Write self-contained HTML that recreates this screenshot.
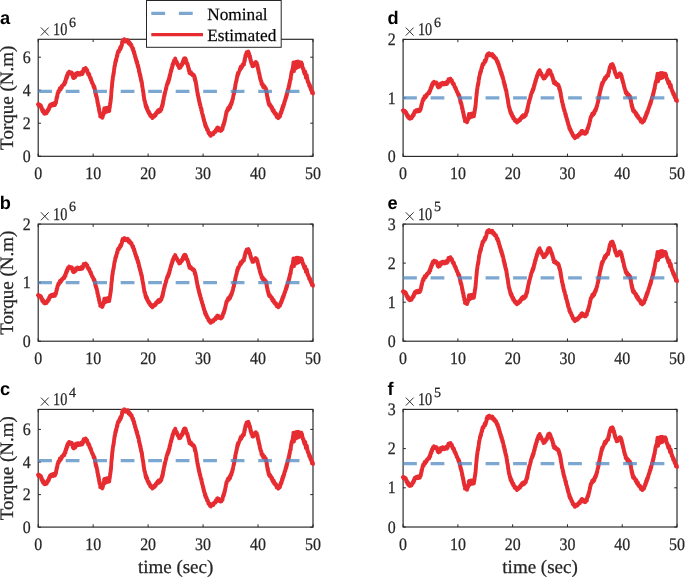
<!DOCTYPE html><html><head><meta charset="utf-8"><style>html,body{margin:0;padding:0;background:#fff;}svg{display:block;will-change:transform;}text{text-rendering:geometricPrecision;font-family:"Liberation Serif",serif;fill:#262626;stroke:#262626;stroke-width:0.25px;}.lt{font-family:"Liberation Sans",sans-serif;font-weight:bold;fill:#000;stroke:none;}</style></head><body>
<svg width="685" height="577" viewBox="0 0 685 577">
<path d="M38.2 156.3V153.55M38.2 39.3V42.05M93.16 156.3V153.55M93.16 39.3V42.05M148.12 156.3V153.55M148.12 39.3V42.05M203.08 156.3V153.55M203.08 39.3V42.05M258.04 156.3V153.55M258.04 39.3V42.05M313 156.3V153.55M313 39.3V42.05M38.2 156.2H40.95M313 156.2H310.25M38.2 123.2H40.95M313 123.2H310.25M38.2 90.2H40.95M313 90.2H310.25M38.2 57.2H40.95M313 57.2H310.25" stroke="#262626" stroke-width="1" fill="none"/>
<rect x="38.2" y="39.3" width="274.8" height="117" fill="none" stroke="#262626" stroke-width="1.15"/>
<text transform="translate(30.7,161.8) scale(0.91,1)" font-size="17.5" text-anchor="end">0</text>
<text transform="translate(30.7,128.8) scale(0.91,1)" font-size="17.5" text-anchor="end">2</text>
<text transform="translate(30.7,95.8) scale(0.91,1)" font-size="17.5" text-anchor="end">4</text>
<text transform="translate(30.7,62.8) scale(0.91,1)" font-size="17.5" text-anchor="end">6</text>
<text transform="translate(38.2,179) scale(0.91,1)" font-size="17.5" text-anchor="middle">0</text>
<text transform="translate(93.16,179) scale(0.91,1)" font-size="17.5" text-anchor="middle">10</text>
<text transform="translate(148.12,179) scale(0.91,1)" font-size="17.5" text-anchor="middle">20</text>
<text transform="translate(203.08,179) scale(0.91,1)" font-size="17.5" text-anchor="middle">30</text>
<text transform="translate(258.04,179) scale(0.91,1)" font-size="17.5" text-anchor="middle">40</text>
<text transform="translate(313,179) scale(0.91,1)" font-size="17.5" text-anchor="middle">50</text>
<path d="M40.9 27.5L48.7 35.5M40.9 35.5L48.7 27.5" stroke="#262626" stroke-width="0.95" fill="none"/>
<text x="53" y="35.2" font-size="17.9" textLength="14.3" lengthAdjust="spacingAndGlyphs">10</text>
<text x="69.1" y="26.6" font-size="14">6</text>
<polyline points="38.0,104.3 38.3,104.0 38.6,105.6 38.9,104.2 39.2,105.7 39.5,105.4 39.8,104.8 40.1,106.2 40.4,105.1 40.7,106.4 40.9,105.7 41.1,106.1 41.2,107.4 41.4,108.8 41.6,107.2 41.8,107.8 41.9,109.3 42.1,110.5 42.3,109.8 42.5,109.6 42.6,111.6 42.8,109.3 43.0,111.9 43.2,110.6 43.4,110.5 43.6,110.7 43.8,111.6 44.0,113.3 44.2,111.8 44.4,113.2 44.6,113.7 44.8,113.2 45.2,113.6 45.5,112.0 45.9,111.8 46.2,112.1 46.6,113.2 46.8,112.2 46.9,111.5 47.1,112.0 47.3,111.3 47.4,110.5 47.6,111.6 47.7,111.0 47.9,109.4 48.1,110.0 48.2,109.6 48.4,110.3 48.6,109.5 48.8,107.9 48.9,109.5 49.1,106.8 49.3,107.3 49.5,107.9 49.7,105.8 49.8,106.4 50.0,104.8 50.2,106.3 50.5,106.2 50.7,105.4 51.0,106.0 51.2,104.1 51.5,104.8 51.7,104.3 52.0,103.9 52.4,103.7 52.7,104.9 53.1,105.3 53.5,104.2 53.8,104.8 54.2,103.3 54.5,104.8 54.7,104.3 55.0,105.0 55.2,104.2 55.5,102.4 55.7,102.4 56.0,102.9 56.1,100.7 56.1,101.6 56.2,100.4 56.2,99.9 56.3,99.4 56.3,101.0 56.4,98.9 56.4,98.9 56.5,98.9 56.5,99.9 56.6,97.3 56.7,98.0 56.8,97.9 56.8,98.5 56.9,98.0 57.0,97.8 57.1,95.8 57.2,95.8 57.2,95.3 57.3,96.4 57.4,96.3 57.5,93.7 57.6,93.4 57.8,93.2 57.9,92.9 58.0,93.3 58.1,93.2 58.2,92.0 58.4,90.9 58.5,91.7 58.6,91.2 58.7,91.4 58.8,92.2 59.0,91.1 59.1,90.3 59.2,90.2 59.5,90.1 59.8,88.1 60.0,90.2 60.3,89.6 60.6,89.6 60.9,89.1 61.1,87.7 61.4,87.4 61.7,86.3 61.9,87.6 62.2,85.7 62.4,85.5 62.7,85.6 62.9,85.2 63.2,85.5 63.4,84.4 63.7,84.0 63.8,84.1 64.0,83.6 64.1,84.0 64.3,82.7 64.4,84.7 64.6,83.7 64.7,82.0 64.9,82.0 65.0,81.9 65.1,81.6 65.2,80.6 65.3,82.3 65.5,82.3 65.6,80.5 65.7,80.2 65.8,78.7 65.9,78.5 66.1,78.8 66.2,78.2 66.3,79.5 66.4,77.3 66.5,76.5 66.6,78.8 66.7,77.3 66.8,75.9 66.9,76.7 67.1,74.9 67.2,75.9 67.3,76.9 67.4,76.2 67.5,75.4 67.6,73.9 67.7,73.8 68.0,73.0 68.2,74.4 68.5,73.4 68.7,73.8 69.0,72.2 69.2,71.6 69.5,73.0 69.9,73.6 70.2,73.4 70.6,73.4 70.9,73.6 71.3,73.5 71.5,72.4 71.6,73.5 71.8,73.4 72.0,72.8 72.1,73.1 72.3,74.1 72.4,74.4 72.6,76.0 72.8,77.0 72.9,75.9 73.1,77.6 73.4,78.0 73.7,78.1 73.9,76.7 74.2,76.5 74.5,76.7 74.7,76.3 74.8,76.0 75.0,76.9 75.1,77.3 75.3,76.8 75.4,75.5 75.6,75.7 75.7,75.8 75.9,73.4 76.2,74.9 76.5,75.4 76.8,74.9 77.2,74.7 77.5,73.8 77.8,72.8 78.1,74.3 78.5,73.0 78.9,74.3 79.2,74.7 79.6,73.1 80.0,73.1 80.4,74.6 80.8,73.9 81.2,72.3 81.5,72.1 81.9,72.1 82.3,74.1 82.5,73.5 82.6,71.4 82.8,73.0 82.9,73.1 83.0,71.9 83.2,70.7 83.3,70.9 83.5,69.4 83.6,68.8 83.8,71.2 83.9,69.9 84.1,69.3 84.4,70.2 84.8,68.7 85.1,69.7 85.4,69.4 85.6,68.0 85.9,68.4 86.1,68.9 86.3,69.0 86.5,70.3 86.8,69.7 87.0,70.5 87.2,70.0 87.4,72.5 87.5,71.3 87.7,71.9 87.8,72.6 88.0,73.8 88.1,72.8 88.2,74.6 88.4,73.7 88.5,74.2 88.7,74.5 88.8,73.4 89.0,74.9 89.2,74.5 89.3,74.4 89.5,76.9 89.6,75.5 89.8,76.7 89.9,77.7 90.0,77.6 90.2,77.3 90.3,78.2 90.5,78.6 90.6,79.6 90.8,78.0 91.0,79.6 91.1,79.1 91.2,79.5 91.4,81.2 91.5,80.8 91.7,81.3 91.8,82.2 92.0,83.0 92.1,82.0 92.3,82.8 92.4,82.9 92.6,83.2 92.7,84.1 92.9,83.8 93.0,84.3 93.2,84.5 93.3,86.2 93.4,85.8 93.6,86.7 93.7,87.2 93.8,85.6 94.0,86.8 94.1,88.2 94.3,88.3 94.4,86.7 94.5,87.0 94.6,88.2 94.6,87.6 94.7,88.4 94.8,88.3 94.9,90.3 95.0,91.0 95.0,91.6 95.1,89.9 95.2,91.8 95.3,92.0 95.4,90.9 95.4,93.4 95.5,94.0 95.6,92.2 95.7,94.6 95.8,93.4 95.8,94.0 95.9,95.8 96.0,95.7 96.1,94.2 96.2,95.3 96.3,95.9 96.3,95.8 96.4,95.7 96.5,96.4 96.6,97.9 96.7,96.3 96.8,98.2 96.8,98.2 96.9,97.4 97.0,98.6 97.1,99.8 97.1,99.9 97.2,99.0 97.3,101.9 97.4,101.7 97.4,102.6 97.5,100.5 97.6,101.3 97.6,101.0 97.7,103.5 97.8,102.4 97.8,102.4 97.9,103.5 98.0,105.3 98.1,105.4 98.1,104.2 98.2,104.2 98.3,106.7 98.3,106.1 98.4,106.8 98.5,105.5 98.6,105.7 98.6,107.8 98.7,107.5 98.8,106.8 98.8,109.6 98.9,109.1 99.0,109.9 99.0,108.3 99.1,110.8 99.2,108.9 99.3,111.5 99.3,110.7 99.4,110.7 99.5,111.7 99.5,113.1 99.6,111.6 99.7,111.6 99.7,113.1 99.8,112.6 99.8,112.6 99.9,113.1 100.0,113.2 100.0,113.9 100.1,114.6 100.2,114.9 100.2,116.6 100.3,115.6 100.6,116.4 100.9,115.8 101.2,116.5 101.5,115.8 101.8,116.7 102.1,116.2 102.2,117.9 102.3,117.1 102.5,115.7 102.6,116.2 102.7,117.1 102.8,114.5 102.9,116.1 103.1,114.7 103.2,114.5 103.3,115.1 103.4,113.5 103.5,113.5 103.5,113.6 103.6,114.1 103.7,112.0 103.8,113.0 103.8,112.2 103.9,111.7 104.0,110.7 104.1,110.2 104.1,109.0 104.2,108.8 104.3,108.3 104.4,110.5 104.5,109.5 104.6,109.6 104.8,109.7 104.9,112.2 105.0,112.6 105.1,112.4 105.2,111.7 105.3,111.2 105.4,111.0 105.5,111.1 105.6,109.9 105.7,110.3 105.7,109.5 105.8,111.0 105.9,110.7 106.0,109.2 106.1,107.9 106.2,109.6 106.3,108.1 106.4,108.6 106.4,108.0 106.5,109.4 106.6,110.0 106.7,110.4 106.8,109.9 106.9,111.1 106.9,110.1 107.0,111.2 107.1,111.1 107.2,111.6 107.3,110.2 107.3,109.8 107.4,110.2 107.5,109.6 107.6,110.2 107.7,109.7 107.8,110.0 107.8,109.3 107.9,109.1 108.0,109.2 108.1,107.5 108.3,107.7 108.4,109.8 108.6,107.8 108.7,109.8 108.9,109.9 109.0,108.6 109.2,111.1 109.3,110.9 109.3,109.8 109.4,109.8 109.4,109.6 109.5,107.4 109.5,108.1 109.6,107.7 109.7,108.3 109.7,107.8 109.8,107.5 109.8,106.5 109.9,107.0 109.9,106.1 110.0,105.7 110.1,104.1 110.1,103.2 110.2,103.1 110.2,103.4 110.3,102.3 110.3,104.0 110.4,102.9 110.4,102.7 110.5,102.3 110.5,102.1 110.6,101.2 110.6,99.5 110.7,101.4 110.7,100.9 110.8,99.8 110.8,99.6 110.9,99.5 110.9,97.5 111.0,99.0 111.0,97.3 111.0,96.5 111.0,96.6 111.1,97.6 111.1,95.7 111.1,96.9 111.1,97.2 111.2,95.5 111.2,94.8 111.2,94.7 111.2,94.9 111.3,94.8 111.3,94.0 111.3,93.7 111.3,91.8 111.4,91.6 111.4,91.6 111.4,92.6 111.4,91.0 111.5,91.4 111.5,89.4 111.5,89.2 111.6,89.4 111.6,90.2 111.6,89.9 111.7,89.5 111.7,88.1 111.7,88.4 111.8,87.9 111.8,87.5 111.8,86.2 111.9,88.0 111.9,85.7 111.9,87.5 112.0,87.1 112.0,84.1 112.0,85.0 112.0,85.7 112.1,85.7 112.1,83.9 112.1,83.1 112.2,82.6 112.2,84.3 112.2,81.9 112.3,82.5 112.3,81.0 112.3,81.7 112.4,82.5 112.4,79.9 112.5,81.4 112.5,80.2 112.6,80.9 112.6,80.0 112.7,78.4 112.8,79.9 112.8,78.4 112.9,76.7 112.9,76.3 113.0,77.3 113.0,76.8 113.1,76.0 113.2,75.2 113.2,75.4 113.3,75.0 113.3,76.1 113.4,73.4 113.5,75.2 113.5,75.0 113.6,72.7 113.6,74.6 113.7,73.6 113.7,73.8 113.8,71.7 113.8,71.6 113.9,71.3 113.9,72.6 114.0,71.1 114.0,70.1 114.1,70.0 114.1,69.2 114.2,68.2 114.2,68.0 114.2,69.7 114.3,67.8 114.3,69.3 114.4,67.0 114.4,66.7 114.5,67.0 114.5,65.8 114.6,65.9 114.6,67.2 114.7,66.6 114.7,66.1 114.8,65.2 114.9,65.7 115.0,65.4 115.1,64.0 115.2,64.1 115.2,61.9 115.3,63.4 115.4,62.3 115.5,62.8 115.6,62.2 115.7,60.8 115.8,59.8 115.9,61.9 116.0,59.3 116.0,59.9 116.1,59.2 116.2,58.8 116.3,59.7 116.4,60.0 116.5,57.6 116.6,58.4 116.7,57.0 116.8,57.4 116.8,56.6 116.9,55.6 117.0,55.3 117.1,55.0 117.2,56.6 117.3,55.1 117.4,54.0 117.4,55.6 117.5,55.5 117.6,53.6 117.7,52.4 117.9,52.2 118.0,51.6 118.2,52.0 118.3,51.0 118.5,51.1 118.6,50.8 118.8,51.4 118.9,51.9 119.1,51.2 119.2,50.0 119.4,49.7 119.6,49.7 119.7,48.9 119.9,48.5 120.1,47.4 120.3,47.7 120.4,49.4 120.6,46.7 120.8,47.4 121.0,47.5 121.1,47.8 121.3,45.7 121.4,45.5 121.5,45.1 121.5,45.2 121.6,44.9 121.7,46.0 121.8,45.3 121.9,45.1 122.0,42.3 122.0,42.0 122.1,43.5 122.2,43.7 122.3,42.2 122.5,42.2 122.6,40.2 122.8,41.0 122.9,42.2 123.1,41.5 123.2,41.3 123.6,41.6 123.9,39.5 124.3,39.1 124.6,39.2 125.0,40.2 125.4,40.7 125.7,41.5 126.1,41.0 126.4,40.9 126.8,41.3 127.1,40.7 127.5,41.2 127.8,40.0 128.0,42.4 128.3,41.2 128.5,43.4 128.8,42.9 129.0,42.3 129.3,42.1 129.5,42.7 129.7,44.1 129.9,44.6 130.1,43.2 130.3,43.4 130.5,45.0 130.7,45.4 130.9,45.2 131.2,45.0 131.4,46.4 131.6,45.0 131.8,46.1 132.0,46.9 132.2,48.6 132.4,48.0 132.6,49.0 132.7,48.2 132.8,47.8 132.9,48.2 133.0,50.6 133.1,50.2 133.2,49.4 133.3,49.0 133.4,50.6 133.6,51.5 133.7,51.1 133.8,51.0 133.9,52.5 134.0,53.6 134.1,51.9 134.2,51.8 134.3,52.9 134.4,53.5 134.5,54.6 134.6,53.6 134.7,55.6 134.8,55.8 134.9,55.5 135.0,55.0 135.1,57.5 135.2,56.0 135.3,57.8 135.4,56.5 135.5,56.8 135.6,58.7 135.7,57.7 135.8,59.9 135.9,59.0 136.0,58.5 136.1,58.9 136.2,59.8 136.3,60.8 136.4,62.0 136.5,60.1 136.6,61.1 136.8,60.9 136.9,63.4 137.0,61.4 137.1,61.5 137.2,61.9 137.3,63.2 137.4,64.9 137.5,65.2 137.6,65.2 137.7,66.2 137.8,66.4 137.9,65.1 138.0,65.0 138.0,67.5 138.1,67.3 138.2,65.6 138.3,67.7 138.3,67.3 138.4,67.6 138.5,67.9 138.6,67.8 138.7,67.6 138.7,68.8 138.8,69.3 138.9,71.3 139.0,69.4 139.1,72.1 139.1,70.3 139.2,71.1 139.3,72.7 139.4,73.1 139.4,72.3 139.5,71.6 139.6,73.1 139.7,73.2 139.8,75.1 139.8,73.4 139.9,74.2 140.0,76.1 140.1,74.0 140.2,75.4 140.3,76.9 140.3,77.1 140.4,75.4 140.5,75.8 140.6,76.2 140.7,79.0 140.7,77.4 140.8,79.2 140.9,79.9 141.0,78.7 141.1,78.9 141.1,81.2 141.2,80.6 141.3,79.9 141.4,81.5 141.5,80.8 141.6,81.0 141.6,80.6 141.7,83.1 141.8,83.9 141.9,83.4 141.9,84.7 142.0,82.4 142.0,83.4 142.1,84.4 142.1,86.1 142.2,86.5 142.2,85.2 142.3,85.2 142.3,86.1 142.4,86.6 142.4,88.2 142.5,86.5 142.6,88.6 142.6,88.7 142.7,89.3 142.7,89.6 142.8,89.5 142.8,89.0 142.9,89.4 142.9,89.8 143.0,91.4 143.0,89.8 143.1,90.5 143.2,92.4 143.2,91.3 143.3,91.1 143.3,91.4 143.4,93.2 143.4,92.9 143.5,95.1 143.5,95.2 143.6,95.8 143.6,94.1 143.7,94.0 143.7,94.3 143.8,95.8 143.8,96.8 143.9,96.4 143.9,96.1 144.0,97.0 144.0,97.9 144.1,98.4 144.1,99.0 144.2,99.6 144.2,99.4 144.3,98.2 144.3,100.6 144.4,99.4 144.5,100.5 144.6,100.4 144.7,101.7 144.8,100.6 144.9,101.1 145.0,101.4 145.1,101.5 145.2,103.9 145.2,103.4 145.3,103.0 145.4,103.6 145.5,105.6 145.6,104.6 145.7,104.2 145.8,106.2 145.9,106.1 146.0,107.4 146.2,105.2 146.3,106.6 146.4,107.9 146.6,108.3 146.8,108.9 146.9,106.8 147.1,107.8 147.2,107.7 147.3,108.2 147.5,110.8 147.7,110.0 147.8,111.3 147.9,110.1 148.1,111.8 148.2,111.0 148.4,110.8 148.5,112.5 148.7,113.3 148.8,111.3 149.0,113.0 149.1,113.4 149.3,112.6 149.4,113.3 149.6,113.0 149.7,113.5 149.9,114.0 150.0,115.2 150.2,115.7 150.3,114.8 150.6,114.5 150.9,115.6 151.2,116.8 151.6,115.7 151.9,116.3 152.2,116.2 152.5,118.1 152.8,117.2 153.1,115.7 153.4,115.6 153.7,116.3 154.0,116.5 154.3,116.6 154.6,114.9 154.8,114.7 155.0,115.9 155.2,114.8 155.3,114.1 155.5,113.8 155.7,115.3 155.9,113.2 156.1,113.6 156.2,112.7 156.4,112.5 156.6,113.4 156.8,113.5 157.2,111.6 157.5,110.9 157.9,112.2 158.2,110.6 158.6,109.9 158.9,112.2 159.2,110.7 159.5,111.5 159.8,110.2 160.2,111.3 160.5,109.8 160.8,108.8 161.1,108.1 161.2,109.3 161.3,109.2 161.4,109.6 161.5,107.0 161.6,108.1 161.7,107.1 161.8,107.1 161.9,105.7 162.0,105.8 162.1,106.1 162.2,106.9 162.3,104.2 162.4,105.0 162.5,105.5 162.6,105.6 162.7,103.1 162.7,102.6 162.8,104.5 162.9,104.2 162.9,102.5 163.0,101.0 163.1,103.1 163.1,101.2 163.2,102.3 163.3,101.2 163.3,101.4 163.4,99.2 163.5,100.6 163.6,98.6 163.6,98.8 163.7,99.7 163.8,99.3 163.8,97.1 163.9,96.9 164.0,97.1 164.0,97.0 164.1,96.3 164.2,95.2 164.2,95.2 164.3,96.2 164.4,96.4 164.5,93.6 164.6,94.7 164.7,94.9 164.7,92.6 164.8,94.5 164.9,92.1 165.0,93.1 165.1,92.6 165.2,92.5 165.3,91.3 165.4,91.2 165.4,91.4 165.5,90.6 165.6,90.9 165.7,89.9 165.8,89.6 165.9,88.1 166.0,89.4 166.1,88.7 166.1,87.6 166.2,88.8 166.3,88.5 166.4,87.2 166.5,86.1 166.6,86.6 166.7,85.2 166.8,85.0 166.9,85.5 167.0,84.2 167.1,84.8 167.2,84.7 167.3,83.0 167.4,84.4 167.5,82.5 167.6,84.0 167.7,83.8 167.8,82.7 168.0,81.1 168.1,82.0 168.2,81.3 168.3,82.6 168.4,80.0 168.5,81.6 168.6,81.7 168.7,80.6 168.8,80.5 168.9,78.4 169.0,80.3 169.1,78.6 169.2,79.6 169.3,79.1 169.4,76.7 169.5,78.1 169.6,78.1 169.6,75.3 169.7,75.8 169.8,76.6 169.9,74.6 170.0,76.3 170.1,74.2 170.2,75.4 170.3,73.1 170.3,73.8 170.4,74.6 170.5,72.3 170.6,72.1 170.7,72.4 170.8,71.5 170.9,70.4 171.0,70.4 171.0,70.0 171.1,71.9 171.2,70.8 171.3,71.1 171.4,68.7 171.5,70.0 171.6,67.8 171.7,68.6 171.8,68.6 171.9,67.4 172.0,68.5 172.1,67.3 172.2,67.0 172.2,67.5 172.3,65.0 172.4,67.1 172.5,65.7 172.6,64.7 172.7,65.5 172.8,63.6 172.9,65.3 173.0,63.8 173.2,62.9 173.3,63.7 173.5,62.5 173.6,61.4 173.8,62.7 174.0,60.4 174.1,62.3 174.3,60.4 174.5,61.2 174.6,61.8 174.8,60.4 174.9,60.3 175.1,59.0 175.2,58.4 175.4,58.9 175.5,59.5 175.7,61.2 175.8,61.0 176.0,61.5 176.1,62.9 176.3,61.1 176.4,61.7 176.6,63.3 176.7,61.8 176.9,62.1 177.0,63.4 177.2,63.1 177.3,64.1 177.5,64.0 177.7,65.3 178.0,65.6 178.2,64.9 178.4,66.3 178.6,66.2 178.8,65.6 179.1,68.1 179.3,66.5 179.5,66.5 179.8,66.1 180.0,67.3 180.3,67.7 180.6,67.2 180.8,65.9 181.1,65.2 181.3,64.2 181.6,65.7 181.7,65.1 181.9,64.2 182.0,64.7 182.2,63.8 182.3,64.8 182.5,63.9 182.6,62.2 182.8,63.7 182.9,61.0 183.1,62.0 183.2,61.3 183.4,60.5 183.5,59.6 183.7,61.3 183.8,58.8 184.0,60.0 184.2,60.8 184.4,58.3 184.7,58.2 184.9,59.0 185.1,58.4 185.2,59.1 185.3,60.0 185.5,58.5 185.6,59.2 185.7,59.6 185.8,59.2 185.9,61.9 186.1,61.9 186.2,62.1 186.3,60.4 186.4,63.1 186.6,63.2 186.7,62.8 186.8,63.9 186.9,63.4 187.1,63.1 187.2,63.1 187.4,63.8 187.5,63.6 187.7,64.7 187.8,66.2 188.0,66.4 188.1,67.2 188.2,67.1 188.3,66.2 188.3,67.4 188.4,67.4 188.5,68.8 188.6,68.4 188.7,68.0 188.8,69.4 188.8,70.7 188.9,68.9 189.0,71.1 189.1,69.0 189.2,70.1 189.2,70.4 189.3,72.1 189.4,73.0 189.7,72.7 190.0,71.7 190.3,73.5 190.7,72.2 191.0,72.1 191.3,74.2 191.6,73.7 191.9,74.1 192.2,74.2 192.5,75.3 192.8,74.1 193.1,75.3 193.4,75.1 193.7,75.8 193.8,75.0 193.9,76.1 194.0,76.0 194.1,75.6 194.2,75.7 194.3,77.2 194.4,76.0 194.5,78.7 194.6,76.9 194.7,76.9 194.8,77.4 194.8,80.1 194.9,78.8 195.0,78.5 195.1,78.6 195.2,78.9 195.3,81.1 195.4,81.3 195.5,81.8 195.6,82.2 195.7,80.7 195.8,82.5 195.9,82.2 196.0,83.8 196.0,84.2 196.1,84.8 196.1,82.8 196.2,85.4 196.2,85.9 196.3,86.3 196.3,84.3 196.4,85.0 196.4,85.1 196.5,85.2 196.5,87.8 196.6,88.1 196.6,88.0 196.7,88.9 196.7,88.7 196.8,88.1 196.8,87.9 196.9,88.2 196.9,90.4 197.0,89.2 197.0,89.9 197.1,90.6 197.1,89.8 197.2,90.8 197.3,91.2 197.3,92.8 197.4,92.2 197.5,92.4 197.6,94.6 197.6,93.6 197.7,95.0 197.8,94.7 197.9,93.4 197.9,94.8 198.0,95.2 198.1,96.5 198.1,95.7 198.2,97.0 198.3,96.9 198.4,96.4 198.4,98.5 198.5,96.7 198.6,99.1 198.7,97.7 198.7,97.5 198.8,98.5 198.9,100.4 199.0,101.3 199.0,99.0 199.1,100.7 199.2,101.0 199.3,102.2 199.4,100.9 199.5,102.1 199.5,102.0 199.6,103.7 199.7,102.5 199.8,104.8 199.9,103.3 200.0,103.4 200.1,105.1 200.2,104.9 200.2,104.2 200.3,106.0 200.4,104.8 200.5,107.2 200.6,107.3 200.7,107.9 200.8,107.8 200.9,107.3 201.0,107.8 201.1,108.2 201.1,109.9 201.2,108.0 201.3,110.6 201.4,108.5 201.5,109.4 201.6,109.9 201.7,112.0 201.8,111.3 201.9,111.3 201.9,113.0 202.0,111.6 202.1,112.5 202.2,113.1 202.3,114.1 202.4,114.4 202.5,114.5 202.6,114.0 202.7,114.3 202.7,114.1 202.8,116.4 202.9,116.2 203.0,116.8 203.1,115.6 203.2,116.7 203.2,117.9 203.3,117.7 203.4,116.8 203.5,118.1 203.6,119.7 203.7,118.2 203.7,118.4 203.8,119.1 203.9,120.5 204.0,121.3 204.1,119.7 204.2,120.0 204.2,120.6 204.3,121.2 204.4,122.1 204.5,121.5 204.6,122.3 204.7,122.2 204.9,124.7 205.0,124.4 205.1,123.0 205.2,125.7 205.4,123.6 205.5,124.7 205.6,126.8 205.7,126.6 205.8,126.7 206.0,126.2 206.1,125.9 206.2,127.5 206.3,126.3 206.5,126.9 206.6,127.8 206.7,127.1 206.9,128.4 207.0,129.8 207.2,129.9 207.3,129.7 207.5,130.3 207.6,130.2 207.8,129.6 208.0,131.2 208.1,131.0 208.3,132.2 208.4,133.0 208.6,132.0 208.7,132.7 208.9,133.5 209.1,132.9 209.4,132.6 209.6,134.3 209.9,135.1 210.1,135.1 210.4,135.2 210.6,135.9 211.0,135.3 211.3,135.0 211.7,134.4 212.1,133.8 212.4,134.6 212.8,133.0 213.0,133.6 213.3,134.3 213.5,133.8 213.8,133.3 214.0,132.0 214.3,132.2 214.5,132.0 214.8,132.1 215.0,131.2 215.2,131.7 215.5,132.1 215.7,129.8 215.9,130.8 216.2,130.9 216.4,129.5 216.7,129.5 216.9,130.6 217.1,127.7 217.4,128.8 217.6,127.5 217.9,129.4 218.2,130.0 218.5,129.1 218.8,128.1 219.0,129.6 219.3,129.7 219.6,130.4 219.9,130.0 220.2,130.6 220.5,130.9 220.8,129.9 221.1,129.4 221.4,130.7 221.7,128.5 222.0,129.6 222.3,128.6 222.4,129.3 222.5,127.2 222.6,129.2 222.7,127.1 222.8,126.0 222.9,126.3 223.0,126.3 223.1,124.8 223.2,125.6 223.3,125.3 223.4,125.8 223.5,124.4 223.6,123.9 223.7,123.4 223.8,124.5 223.9,124.7 224.0,123.3 224.1,122.1 224.2,123.4 224.3,121.9 224.4,121.0 224.5,120.5 224.6,121.9 224.7,121.7 224.7,120.8 224.8,120.0 224.9,119.9 225.0,118.6 225.0,120.3 225.1,118.3 225.2,118.7 225.3,118.8 225.3,118.5 225.4,117.2 225.5,116.3 225.6,116.7 225.7,115.1 225.7,116.8 225.8,115.1 225.9,116.1 226.0,114.1 226.0,114.1 226.1,113.4 226.2,113.5 226.3,112.5 226.4,111.6 226.5,113.3 226.6,111.7 226.7,111.2 226.8,111.0 227.0,111.2 227.1,110.7 227.2,110.9 227.3,110.6 227.4,109.5 227.5,110.7 227.8,110.2 228.1,107.8 228.3,109.7 228.6,109.6 228.9,109.0 229.1,107.0 229.4,108.7 229.7,107.9 229.8,105.8 230.0,105.4 230.1,107.7 230.3,106.5 230.4,105.1 230.6,104.3 230.7,104.0 230.8,104.0 231.0,105.1 231.1,103.6 231.3,102.7 231.4,104.4 231.5,103.8 231.6,101.7 231.7,103.4 231.8,102.2 231.9,102.4 232.0,101.7 232.1,102.0 232.2,101.4 232.3,101.2 232.4,99.1 232.5,100.1 232.6,99.3 232.7,99.6 232.8,98.4 232.9,99.3 233.0,98.0 233.1,96.9 233.2,96.5 233.3,95.8 233.3,96.5 233.4,94.9 233.5,95.7 233.5,94.4 233.6,95.1 233.7,94.7 233.8,94.5 233.8,95.0 233.9,92.3 234.0,94.3 234.0,92.9 234.1,92.8 234.2,92.7 234.2,92.8 234.3,91.2 234.4,91.0 234.4,92.1 234.5,89.3 234.5,90.5 234.6,90.1 234.7,88.1 234.7,89.4 234.8,89.2 234.9,89.5 234.9,87.5 235.0,89.0 235.0,87.3 235.1,86.9 235.2,87.7 235.2,84.9 235.3,86.5 235.4,85.8 235.4,84.7 235.5,85.8 235.5,84.0 235.6,84.0 235.7,83.8 235.7,84.1 235.8,82.2 235.9,82.5 235.9,82.1 236.0,82.1 236.1,82.5 236.2,80.7 236.2,81.8 236.3,80.3 236.4,80.3 236.5,79.3 236.6,79.6 236.6,80.5 236.7,79.3 236.8,79.3 236.9,77.7 236.9,77.3 237.0,76.9 237.1,77.4 237.1,77.2 237.2,77.2 237.3,74.8 237.4,76.4 237.5,76.5 237.6,75.2 237.8,73.5 237.9,73.9 238.0,72.7 238.1,72.9 238.2,74.6 238.3,73.4 238.5,73.2 238.6,73.3 238.7,73.3 238.8,72.1 239.0,71.8 239.1,71.5 239.3,71.4 239.5,70.8 239.6,70.7 239.8,69.1 239.9,70.0 240.1,69.1 240.3,69.7 240.4,67.5 240.6,67.4 240.8,66.7 241.0,68.4 241.2,68.5 241.4,67.4 241.7,66.3 241.9,67.3 242.1,66.8 242.3,65.9 242.5,64.7 242.8,64.5 243.0,64.5 243.3,63.9 243.5,63.9 243.8,64.2 244.0,64.7 244.1,61.9 244.1,63.0 244.2,61.1 244.3,61.0 244.4,62.6 244.4,61.5 244.5,62.1 244.6,60.5 244.6,58.9 244.7,59.6 244.8,59.8 244.9,60.4 244.9,60.2 245.0,58.4 245.1,57.8 245.2,56.6 245.2,57.8 245.3,56.2 245.4,55.7 245.6,54.9 245.7,54.6 245.8,56.1 245.9,54.2 246.1,56.2 246.2,53.4 246.3,55.2 246.5,52.8 246.6,52.1 247.0,54.0 247.3,52.5 247.7,53.7 248.0,52.1 248.4,51.5 248.5,53.9 248.7,54.1 248.8,54.8 248.9,54.8 249.1,53.3 249.2,55.1 249.3,55.7 249.4,55.3 249.6,57.0 249.7,55.4 249.8,57.8 249.9,57.4 249.9,55.8 250.0,56.2 250.1,58.3 250.2,59.1 250.3,57.4 250.3,58.4 250.4,59.9 250.5,58.7 250.6,61.0 250.7,60.3 250.8,59.5 250.8,60.7 250.9,61.7 251.0,61.6 251.1,62.6 251.3,61.5 251.4,63.6 251.6,62.7 251.7,63.8 251.8,64.1 252.0,63.8 252.1,64.1 252.3,65.5 252.4,66.3 252.6,66.2 252.7,65.9 252.9,64.8 253.1,63.9 253.4,66.2 253.6,65.2 253.8,65.2 254.1,63.6 254.3,64.1 254.5,64.8 254.8,64.1 255.0,63.2 255.3,62.1 255.5,62.1 255.8,63.1 255.9,62.0 256.1,63.2 256.2,63.3 256.4,64.5 256.5,64.6 256.6,63.4 256.8,63.0 256.9,64.1 257.1,64.9 257.2,65.7 257.4,66.6 257.5,67.2 257.6,65.2 257.7,67.7 257.7,68.0 257.8,68.5 257.9,68.0 258.0,67.5 258.1,69.5 258.1,69.7 258.2,69.7 258.3,70.7 258.4,69.5 258.4,69.1 258.5,70.7 258.6,71.8 258.7,70.4 258.8,72.3 258.8,73.2 258.9,71.6 259.0,73.0 259.1,73.5 259.2,73.3 259.2,72.9 259.3,73.4 259.4,75.1 259.5,75.6 259.6,75.0 259.6,74.3 259.7,76.7 259.8,76.9 259.9,75.8 259.9,77.1 260.0,78.3 260.1,78.7 260.2,78.0 260.2,78.2 260.3,78.9 260.4,78.1 260.5,78.5 260.5,78.8 260.6,80.6 260.7,80.0 260.8,80.9 260.9,80.8 261.0,81.5 261.2,80.8 261.3,80.8 261.4,83.8 261.5,82.4 261.6,82.0 261.7,83.9 261.8,84.6 262.0,83.2 262.1,84.8 262.2,84.4 262.3,85.3 262.6,84.1 262.9,84.3 263.2,87.2 263.5,87.1 263.8,86.3 264.1,86.7 264.4,86.2 264.7,87.9 265.0,87.1 265.3,88.9 265.4,88.7 265.5,89.2 265.6,90.0 265.7,88.3 265.8,88.1 266.0,88.9 266.1,89.2 266.2,89.3 266.3,89.5 266.4,91.3 266.5,92.5 266.6,91.7 266.6,93.5 266.7,93.7 266.7,91.7 266.8,93.6 266.8,93.4 266.9,93.0 266.9,95.7 267.0,94.1 267.1,95.3 267.1,95.9 267.2,97.1 267.2,96.7 267.3,96.3 267.3,96.8 267.4,96.3 267.5,99.0 267.6,99.4 267.6,97.6 267.7,97.4 267.8,98.4 267.9,99.0 268.0,100.9 268.1,101.3 268.1,101.5 268.2,99.6 268.3,102.0 268.4,102.2 268.5,102.4 268.6,103.7 268.6,101.4 268.7,102.0 268.8,104.1 269.0,104.9 269.2,104.5 269.4,103.8 269.5,104.9 269.7,105.7 269.9,104.1 270.1,105.1 270.3,105.2 270.5,105.1 270.7,106.4 270.8,105.9 271.0,106.4 271.2,106.4 271.4,108.2 271.6,106.6 271.8,108.9 272.0,107.8 272.2,107.6 272.4,110.4 272.6,108.8 272.9,111.1 273.1,111.2 273.3,111.6 273.5,109.8 273.7,110.9 273.9,110.3 274.1,112.9 274.3,113.0 274.5,112.7 274.7,112.5 274.9,112.5 275.0,114.2 275.2,113.5 275.4,114.2 275.6,113.2 275.8,113.7 276.0,113.6 276.2,115.7 276.3,115.6 276.5,114.8 276.7,117.1 276.9,115.7 277.2,116.4 277.6,115.8 277.9,116.4 278.3,118.2 278.6,116.5 278.8,115.7 279.1,116.3 279.4,115.6 279.6,116.9 279.9,114.4 280.0,116.5 280.2,113.6 280.3,115.6 280.4,114.6 280.5,113.0 280.7,113.4 280.8,112.5 280.9,112.0 281.0,111.5 281.2,111.7 281.3,113.1 281.4,112.7 281.5,112.2 281.7,109.5 281.8,109.7 281.9,111.1 282.0,108.4 282.2,109.9 282.3,108.4 282.4,109.9 282.5,106.9 282.7,108.8 282.8,107.1 282.9,106.2 283.0,105.5 283.1,107.5 283.3,106.3 283.4,105.0 283.5,105.4 283.6,106.4 283.8,104.1 283.9,104.7 284.0,103.2 284.1,103.0 284.2,104.3 284.3,103.8 284.4,102.0 284.5,101.3 284.6,101.0 284.7,102.1 284.8,101.4 284.9,100.5 285.0,99.9 285.1,100.7 285.2,100.6 285.3,100.6 285.4,99.6 285.5,98.2 285.6,97.5 285.7,99.0 285.8,97.7 285.9,98.3 286.0,96.1 286.1,97.8 286.2,96.1 286.3,97.2 286.4,96.9 286.5,95.5 286.6,93.8 286.7,96.0 286.8,94.4 286.9,95.2 287.0,93.1 287.1,92.5 287.2,94.0 287.3,92.3 287.4,91.4 287.5,91.6 287.6,91.9 287.7,89.9 287.8,91.0 287.9,90.4 288.0,90.3 288.0,88.8 288.1,90.2 288.2,90.1 288.3,89.9 288.4,88.0 288.5,88.7 288.5,87.5 288.6,88.2 288.7,85.9 288.8,87.8 288.9,87.7 289.0,86.0 289.1,85.7 289.1,85.4 289.2,85.1 289.3,83.3 289.4,85.6 289.5,83.2 289.6,82.7 289.6,82.1 289.7,82.2 289.8,83.4 289.9,80.8 290.0,80.6 290.0,82.0 290.1,80.2 290.2,79.3 290.3,80.6 290.4,80.2 290.5,79.7 290.5,79.8 290.6,77.8 290.7,79.5 290.8,78.8 290.8,76.5 290.9,76.4 290.9,77.1 290.9,76.8 291.0,75.8 291.1,75.0 291.1,75.4 291.1,74.3 291.2,75.3 291.2,75.7 291.3,73.3 291.3,74.2 291.4,74.3 291.4,72.3 291.5,73.8 291.6,73.8 291.6,71.9 291.6,71.6 291.7,72.5 291.9,71.2 292.0,70.5 292.2,71.7 292.3,70.9 292.5,69.4 292.6,68.8 292.6,68.7 292.7,68.6 292.7,69.8 292.8,69.0 292.8,68.9 292.9,68.3 292.9,68.0 293.0,65.5 293.0,66.4 293.1,67.3 293.1,66.9 293.2,64.6 293.2,64.8 293.3,65.0 293.3,63.9 293.4,64.0 293.4,62.4 293.4,63.8 293.5,64.3 293.5,63.3 293.5,64.0 293.6,66.7 293.6,66.5 293.6,67.3 293.7,66.8 293.7,67.7 293.7,68.2 293.8,68.6 293.8,66.6 293.8,68.6 293.9,67.9 293.9,69.4 293.9,68.7 294.0,69.8 294.0,71.2 294.0,70.0 294.1,68.6 294.1,69.0 294.2,68.4 294.2,69.5 294.3,67.3 294.3,66.9 294.3,67.5 294.4,65.7 294.4,66.7 294.5,67.3 294.5,65.7 294.5,64.7 294.6,64.9 294.6,64.7 294.7,63.3 294.7,62.9 294.8,62.5 294.8,62.6 294.9,63.3 294.9,63.3 294.9,63.5 295.0,63.4 295.1,65.1 295.1,66.3 295.2,66.0 295.2,66.2 295.2,66.8 295.3,65.9 295.4,67.6 295.4,67.3 295.5,67.9 295.5,68.4 295.6,68.4 295.6,68.3 295.6,67.7 295.7,67.3 295.7,67.8 295.8,67.1 295.8,67.3 295.9,65.3 295.9,65.9 296.0,67.0 296.0,64.9 296.1,65.4 296.1,64.9 296.2,64.0 296.2,65.6 296.3,63.3 296.3,64.3 296.4,62.2 296.4,61.6 296.5,64.2 296.5,63.3 296.6,62.6 296.6,63.9 296.7,64.4 296.8,65.6 296.8,64.2 296.9,64.9 297.0,67.3 297.0,67.0 297.1,65.7 297.1,66.6 297.2,67.0 297.3,67.5 297.3,67.0 297.4,67.3 297.4,66.9 297.5,65.7 297.5,66.0 297.6,65.6 297.7,65.3 297.7,64.2 297.8,64.7 297.8,64.1 297.9,64.4 297.9,61.8 298.0,63.5 298.1,61.5 298.2,64.0 298.3,63.8 298.4,64.0 298.4,65.6 298.5,64.9 298.6,64.8 298.7,66.2 298.8,66.8 298.9,65.7 299.0,64.7 299.1,64.5 299.2,64.2 299.2,64.5 299.3,63.0 299.4,62.8 299.5,62.9 299.6,62.1 299.7,62.2 299.9,63.9 300.0,64.4 300.1,63.8 300.2,64.0 300.4,63.6 300.5,64.3 300.6,63.5 300.8,64.3 300.9,64.0 301.1,62.3 301.2,64.3 301.4,62.3 301.5,64.1 301.6,64.4 301.7,65.1 301.8,63.4 301.9,64.3 302.0,66.0 302.1,63.9 302.2,64.3 302.3,66.1 302.4,66.3 302.5,67.8 302.6,67.7 302.8,67.4 302.9,69.0 303.0,68.0 303.1,68.3 303.3,69.2 303.4,68.7 303.5,68.9 303.6,69.9 303.7,69.6 303.7,71.7 303.8,71.3 303.9,71.2 304.0,70.4 304.1,71.5 304.1,72.0 304.2,72.8 304.3,73.2 304.5,73.7 304.6,73.6 304.8,71.9 304.9,71.4 305.1,71.5 305.2,72.9 305.2,71.5 305.3,72.4 305.3,73.5 305.4,72.1 305.4,72.9 305.5,75.1 305.5,75.0 305.6,74.5 305.6,73.7 305.7,76.3 305.7,76.1 305.8,76.8 305.8,77.6 305.9,77.7 306.1,76.1 306.3,75.0 306.5,75.1 306.7,75.4 306.8,75.8 306.8,75.2 306.9,75.6 306.9,77.2 307.0,77.5 307.0,77.1 307.1,79.3 307.2,78.6 307.2,77.3 307.3,78.7 307.3,80.1 307.4,79.1 307.4,80.6 307.5,79.0 307.7,80.2 307.8,82.1 308.0,81.8 308.1,82.4 308.3,81.5 308.4,82.6 308.6,83.1 308.7,82.6 308.8,84.0 309.0,84.0 309.1,85.7 309.2,84.8 309.3,84.7 309.5,84.2 309.6,84.6 309.7,86.7 309.9,85.2 310.0,85.5 310.1,86.0 310.3,87.4 310.4,88.5 310.5,88.3 310.6,89.2 310.8,87.5 310.9,87.7 311.0,90.1 311.1,89.2 311.3,90.7 311.4,90.0 311.5,89.8 311.6,90.5 311.8,90.3 311.9,92.9 312.1,92.3 312.3,92.0 312.4,92.6 312.6,92.7 312.8,92.1 313.0,93.6" fill="none" stroke="#e62b31" stroke-width="3.8" stroke-linejoin="round" stroke-linecap="round"/>
<line x1="38.2" y1="91.3" x2="313" y2="91.3" stroke="rgb(80,138,192)" stroke-opacity="0.75" stroke-width="3.3" stroke-dasharray="13.75 13.75"/>
<path d="M38.2 341.2V338.45M38.2 224.1V226.85M93.16 341.2V338.45M93.16 224.1V226.85M148.12 341.2V338.45M148.12 224.1V226.85M203.08 341.2V338.45M203.08 224.1V226.85M258.04 341.2V338.45M258.04 224.1V226.85M313 341.2V338.45M313 224.1V226.85M38.2 341.2H40.95M313 341.2H310.25M38.2 282.65H40.95M313 282.65H310.25M38.2 224.1H40.95M313 224.1H310.25" stroke="#262626" stroke-width="1" fill="none"/>
<rect x="38.2" y="224.1" width="274.8" height="117.1" fill="none" stroke="#262626" stroke-width="1.15"/>
<text transform="translate(30.7,346.8) scale(0.91,1)" font-size="17.5" text-anchor="end">0</text>
<text transform="translate(30.7,288.25) scale(0.91,1)" font-size="17.5" text-anchor="end">1</text>
<text transform="translate(30.7,229.7) scale(0.91,1)" font-size="17.5" text-anchor="end">2</text>
<text transform="translate(38.2,363.9) scale(0.91,1)" font-size="17.5" text-anchor="middle">0</text>
<text transform="translate(93.16,363.9) scale(0.91,1)" font-size="17.5" text-anchor="middle">10</text>
<text transform="translate(148.12,363.9) scale(0.91,1)" font-size="17.5" text-anchor="middle">20</text>
<text transform="translate(203.08,363.9) scale(0.91,1)" font-size="17.5" text-anchor="middle">30</text>
<text transform="translate(258.04,363.9) scale(0.91,1)" font-size="17.5" text-anchor="middle">40</text>
<text transform="translate(313,363.9) scale(0.91,1)" font-size="17.5" text-anchor="middle">50</text>
<path d="M40.9 212.3L48.7 220.3M40.9 220.3L48.7 212.3" stroke="#262626" stroke-width="0.95" fill="none"/>
<text x="53" y="220" font-size="17.9" textLength="14.3" lengthAdjust="spacingAndGlyphs">10</text>
<text x="69.1" y="211.4" font-size="14">6</text>
<polyline points="38.0,295.2 38.3,294.9 38.6,296.3 38.9,295.1 39.2,296.4 39.5,296.2 39.8,295.6 40.1,296.9 40.4,295.9 40.7,297.0 40.9,296.4 41.1,296.8 41.2,297.9 41.4,299.2 41.6,297.7 41.8,298.3 41.9,299.5 42.1,300.6 42.3,300.0 42.5,299.8 42.6,301.6 42.8,299.6 43.0,301.8 43.2,300.7 43.4,300.6 43.6,300.8 43.8,301.5 44.0,303.1 44.2,301.8 44.4,303.0 44.6,303.4 44.8,303.0 45.2,303.3 45.5,301.9 45.9,301.8 46.2,302.0 46.6,303.0 46.8,302.1 46.9,301.5 47.1,301.9 47.3,301.3 47.4,300.7 47.6,301.6 47.7,301.1 47.9,299.7 48.1,300.2 48.2,299.8 48.4,300.4 48.6,299.7 48.8,298.4 48.9,299.8 49.1,297.3 49.3,297.8 49.5,298.3 49.7,296.5 49.8,297.1 50.0,295.7 50.2,296.9 50.5,296.9 50.7,296.1 51.0,296.6 51.2,295.0 51.5,295.7 51.7,295.1 52.0,294.8 52.4,294.7 52.7,295.7 53.1,296.1 53.5,295.1 53.8,295.6 54.2,294.3 54.5,295.6 54.7,295.2 55.0,295.8 55.2,295.1 55.5,293.5 55.7,293.5 56.0,293.9 56.1,292.0 56.1,292.8 56.2,291.8 56.2,291.3 56.3,290.9 56.3,292.3 56.4,290.4 56.4,290.4 56.5,290.4 56.5,291.3 56.6,289.1 56.7,289.7 56.8,289.6 56.8,290.1 56.9,289.6 57.0,289.5 57.1,287.7 57.2,287.7 57.2,287.3 57.3,288.3 57.4,288.1 57.5,285.9 57.6,285.6 57.8,285.5 57.9,285.2 58.0,285.5 58.1,285.5 58.2,284.4 58.4,283.4 58.5,284.1 58.6,283.7 58.7,283.9 58.8,284.6 59.0,283.6 59.1,282.9 59.2,282.8 59.5,282.7 59.8,281.0 60.0,282.8 60.3,282.3 60.6,282.3 60.9,281.8 61.1,280.6 61.4,280.4 61.7,279.4 61.9,280.5 62.2,278.9 62.4,278.7 62.7,278.8 62.9,278.5 63.2,278.7 63.4,277.7 63.7,277.4 63.8,277.5 64.0,277.0 64.1,277.4 64.3,276.2 64.4,278.0 64.6,277.1 64.7,275.6 64.9,275.6 65.0,275.5 65.1,275.3 65.2,274.4 65.3,275.8 65.5,275.9 65.6,274.3 65.7,274.1 65.8,272.8 65.9,272.5 66.1,272.8 66.2,272.3 66.3,273.4 66.4,271.5 66.5,270.8 66.6,272.8 66.7,271.5 66.8,270.3 66.9,270.9 67.1,269.4 67.2,270.3 67.3,271.1 67.4,270.6 67.5,269.9 67.6,268.5 67.7,268.5 68.0,267.7 68.2,268.9 68.5,268.1 68.7,268.4 69.0,267.1 69.2,266.5 69.5,267.7 69.9,268.3 70.2,268.1 70.6,268.1 70.9,268.2 71.3,268.2 71.5,267.2 71.6,268.2 71.8,268.1 72.0,267.6 72.1,267.8 72.3,268.7 72.4,269.0 72.6,270.3 72.8,271.3 72.9,270.3 73.1,271.8 73.4,272.1 73.7,272.2 73.9,271.0 74.2,270.8 74.5,271.0 74.7,270.7 74.8,270.4 75.0,271.1 75.1,271.5 75.3,271.1 75.4,269.9 75.6,270.1 75.7,270.2 75.9,268.1 76.2,269.4 76.5,269.9 76.8,269.4 77.2,269.2 77.5,268.4 77.8,267.5 78.1,268.9 78.5,267.7 78.9,268.9 79.2,269.2 79.6,267.8 80.0,267.8 80.4,269.1 80.8,268.5 81.2,267.1 81.5,266.9 81.9,266.9 82.3,268.7 82.5,268.2 82.6,266.3 82.8,267.7 82.9,267.8 83.0,266.7 83.2,265.7 83.3,265.9 83.5,264.6 83.6,264.0 83.8,266.1 83.9,265.1 84.1,264.5 84.4,265.3 84.8,263.9 85.1,264.9 85.4,264.6 85.6,263.4 85.9,263.7 86.1,264.1 86.3,264.3 86.5,265.4 86.8,264.8 87.0,265.5 87.2,265.1 87.4,267.3 87.5,266.2 87.7,266.8 87.8,267.4 88.0,268.5 88.1,267.6 88.2,269.1 88.4,268.4 88.5,268.8 88.7,269.0 88.8,268.1 89.0,269.4 89.2,269.1 89.3,268.9 89.5,271.2 89.6,269.9 89.8,271.0 89.9,271.9 90.0,271.8 90.2,271.5 90.3,272.3 90.5,272.6 90.6,273.5 90.8,272.1 91.0,273.5 91.1,273.1 91.2,273.4 91.4,275.0 91.5,274.6 91.7,275.0 91.8,275.8 92.0,276.5 92.1,275.6 92.3,276.4 92.4,276.4 92.6,276.7 92.7,277.5 92.9,277.2 93.0,277.7 93.2,277.8 93.3,279.3 93.4,279.0 93.6,279.7 93.7,280.2 93.8,278.8 94.0,279.9 94.1,281.1 94.3,281.2 94.4,279.7 94.5,280.0 94.6,281.1 94.6,280.5 94.7,281.2 94.8,281.1 94.9,282.9 95.0,283.5 95.0,284.1 95.1,282.6 95.2,284.3 95.3,284.4 95.4,283.5 95.4,285.6 95.5,286.1 95.6,284.6 95.7,286.7 95.8,285.7 95.8,286.2 95.9,287.7 96.0,287.7 96.1,286.3 96.2,287.3 96.3,287.8 96.3,287.7 96.4,287.7 96.5,288.3 96.6,289.6 96.7,288.2 96.8,289.8 96.8,289.8 96.9,289.1 97.0,290.2 97.1,291.2 97.1,291.3 97.2,290.5 97.3,293.1 97.4,292.9 97.4,293.7 97.5,291.8 97.6,292.6 97.6,292.3 97.7,294.4 97.8,293.5 97.8,293.5 97.9,294.5 98.0,296.0 98.1,296.1 98.1,295.1 98.2,295.1 98.3,297.3 98.3,296.8 98.4,297.4 98.5,296.2 98.6,296.4 98.6,298.3 98.7,297.9 98.8,297.4 98.8,299.8 98.9,299.4 99.0,300.1 99.0,298.7 99.1,300.9 99.2,299.2 99.3,301.5 99.3,300.8 99.4,300.8 99.5,301.7 99.5,302.9 99.6,301.6 99.7,301.6 99.7,302.9 99.8,302.5 99.8,302.5 99.9,302.9 100.0,302.9 100.0,303.6 100.1,304.2 100.2,304.5 100.2,305.9 100.3,305.1 100.6,305.8 100.9,305.2 101.2,305.8 101.5,305.2 101.8,306.0 102.1,305.6 102.2,307.1 102.3,306.4 102.5,305.2 102.6,305.6 102.7,306.4 102.8,304.1 102.9,305.5 103.1,304.3 103.2,304.1 103.3,304.7 103.4,303.3 103.5,303.2 103.5,303.4 103.6,303.8 103.7,301.9 103.8,302.8 103.8,302.1 103.9,301.7 104.0,300.8 104.1,300.3 104.1,299.3 104.2,299.1 104.3,298.7 104.4,300.6 104.5,299.7 104.6,299.8 104.8,299.9 104.9,302.1 105.0,302.5 105.1,302.3 105.2,301.7 105.3,301.2 105.4,301.0 105.5,301.1 105.6,300.1 105.7,300.5 105.7,299.7 105.8,301.1 105.9,300.8 106.0,299.4 106.1,298.4 106.2,299.8 106.3,298.5 106.4,299.0 106.4,298.4 106.5,299.6 106.6,300.2 106.7,300.6 106.8,300.1 106.9,301.2 106.9,300.3 107.0,301.2 107.1,301.1 107.2,301.5 107.3,300.3 107.3,300.0 107.4,300.3 107.5,299.8 107.6,300.4 107.7,299.9 107.8,300.1 107.8,299.6 107.9,299.4 108.0,299.5 108.1,298.0 108.3,298.1 108.4,300.0 108.6,298.3 108.7,300.0 108.9,300.1 109.0,298.9 109.2,301.2 109.3,301.0 109.3,300.0 109.4,300.0 109.4,299.9 109.5,297.9 109.5,298.5 109.6,298.2 109.7,298.7 109.7,298.3 109.8,298.0 109.8,297.1 109.9,297.6 109.9,296.7 110.0,296.4 110.1,295.0 110.1,294.2 110.2,294.1 110.2,294.4 110.3,293.4 110.3,294.9 110.4,293.9 110.4,293.8 110.5,293.4 110.5,293.3 110.6,292.5 110.6,291.0 110.7,292.6 110.7,292.2 110.8,291.3 110.8,291.0 110.9,291.0 110.9,289.2 111.0,290.6 111.0,289.1 111.0,288.3 111.0,288.5 111.1,289.3 111.1,287.7 111.1,288.7 111.1,288.9 111.2,287.4 111.2,286.9 111.2,286.8 111.2,287.0 111.3,286.8 111.3,286.2 111.3,285.9 111.3,284.2 111.4,284.1 111.4,284.0 111.4,284.9 111.4,283.5 111.5,283.8 111.5,282.1 111.5,282.0 111.6,282.2 111.6,282.8 111.6,282.6 111.7,282.2 111.7,281.0 111.7,281.2 111.8,280.8 111.8,280.5 111.8,279.3 111.9,280.9 111.9,278.9 111.9,280.5 112.0,280.1 112.0,277.5 112.0,278.3 112.0,278.9 112.1,278.9 112.1,277.3 112.1,276.6 112.2,276.1 112.2,277.6 112.2,275.5 112.3,276.1 112.3,274.7 112.3,275.3 112.4,276.1 112.4,273.8 112.5,275.1 112.5,274.1 112.6,274.7 112.6,273.9 112.7,272.4 112.8,273.8 112.8,272.4 112.9,271.0 112.9,270.6 113.0,271.5 113.0,271.1 113.1,270.4 113.2,269.7 113.2,269.9 113.3,269.5 113.3,270.5 113.4,268.1 113.5,269.6 113.5,269.5 113.6,267.5 113.6,269.1 113.7,268.3 113.7,268.4 113.8,266.6 113.8,266.5 113.9,266.2 113.9,267.4 114.0,266.1 114.0,265.2 114.1,265.1 114.1,264.4 114.2,263.5 114.2,263.3 114.2,264.8 114.3,263.2 114.3,264.5 114.4,262.5 114.4,262.2 114.5,262.5 114.5,261.4 114.6,261.5 114.6,262.6 114.7,262.2 114.7,261.7 114.8,260.9 114.9,261.3 115.0,261.1 115.1,259.8 115.2,259.9 115.2,258.0 115.3,259.4 115.4,258.4 115.5,258.8 115.6,258.2 115.7,257.1 115.8,256.2 115.9,258.0 116.0,255.8 116.0,256.3 116.1,255.7 116.2,255.3 116.3,256.0 116.4,256.3 116.5,254.3 116.6,254.9 116.7,253.8 116.8,254.1 116.8,253.4 116.9,252.5 117.0,252.2 117.1,252.0 117.2,253.4 117.3,252.1 117.4,251.1 117.4,252.5 117.5,252.4 117.6,250.7 117.7,249.7 117.9,249.5 118.0,249.0 118.2,249.3 118.3,248.4 118.5,248.5 118.6,248.3 118.8,248.8 118.9,249.3 119.1,248.7 119.2,247.6 119.4,247.3 119.6,247.3 119.7,246.6 119.9,246.3 120.1,245.3 120.3,245.6 120.4,247.0 120.6,244.7 120.8,245.3 121.0,245.4 121.1,245.7 121.3,243.8 121.4,243.6 121.5,243.3 121.5,243.3 121.6,243.1 121.7,244.1 121.8,243.5 121.9,243.3 122.0,240.9 122.0,240.6 122.1,241.9 122.2,242.1 122.3,240.7 122.5,240.7 122.6,239.0 122.8,239.7 122.9,240.7 123.1,240.2 123.2,239.9 123.6,240.2 123.9,238.4 124.3,238.0 124.6,238.1 125.0,239.0 125.4,239.4 125.7,240.2 126.1,239.7 126.4,239.6 126.8,240.0 127.1,239.4 127.5,239.9 127.8,238.8 128.0,240.9 128.3,239.8 128.5,241.8 128.8,241.4 129.0,240.8 129.3,240.6 129.5,241.2 129.7,242.4 129.9,242.8 130.1,241.6 130.3,241.8 130.5,243.2 130.7,243.6 130.9,243.4 131.2,243.2 131.4,244.4 131.6,243.2 131.8,244.2 132.0,244.9 132.2,246.3 132.4,245.8 132.6,246.7 132.7,246.0 132.8,245.7 132.9,246.0 133.0,248.1 133.1,247.7 133.2,247.1 133.3,246.7 133.4,248.1 133.6,248.9 133.7,248.6 133.8,248.5 133.9,249.8 134.0,250.7 134.1,249.3 134.2,249.1 134.3,250.2 134.4,250.7 134.5,251.6 134.6,250.7 134.7,252.5 134.8,252.7 134.9,252.4 135.0,252.0 135.1,254.2 135.2,252.9 135.3,254.4 135.4,253.3 135.5,253.6 135.6,255.2 135.7,254.4 135.8,256.3 135.9,255.4 136.0,255.0 136.1,255.4 136.2,256.2 136.3,257.1 136.4,258.1 136.5,256.4 136.6,257.3 136.8,257.2 136.9,259.3 137.0,257.6 137.1,257.7 137.2,258.0 137.3,259.1 137.4,260.7 137.5,260.9 137.6,260.9 137.7,261.8 137.8,262.0 137.9,260.8 138.0,260.7 138.0,262.9 138.1,262.7 138.2,261.3 138.3,263.1 138.3,262.7 138.4,263.0 138.5,263.2 138.6,263.1 138.7,263.0 138.7,264.0 138.8,264.5 138.9,266.3 139.0,264.6 139.1,266.9 139.1,265.4 139.2,266.0 139.3,267.5 139.4,267.8 139.4,267.1 139.5,266.5 139.6,267.9 139.7,267.9 139.8,269.6 139.8,268.1 139.9,268.8 140.0,270.4 140.1,268.6 140.2,269.9 140.3,271.1 140.3,271.3 140.4,269.9 140.5,270.2 140.6,270.5 140.7,273.0 140.7,271.6 140.8,273.1 140.9,273.8 141.0,272.8 141.1,272.9 141.1,274.9 141.2,274.4 141.3,273.8 141.4,275.2 141.5,274.6 141.6,274.8 141.6,274.4 141.7,276.6 141.8,277.3 141.9,276.9 141.9,278.0 142.0,276.0 142.0,276.8 142.1,277.8 142.1,279.2 142.2,279.6 142.2,278.5 142.3,278.5 142.3,279.2 142.4,279.7 142.4,281.1 142.5,279.5 142.6,281.4 142.6,281.5 142.7,282.1 142.7,282.3 142.8,282.2 142.8,281.8 142.9,282.1 142.9,282.5 143.0,283.8 143.0,282.4 143.1,283.0 143.2,284.7 143.2,283.8 143.3,283.6 143.3,283.9 143.4,285.4 143.4,285.2 143.5,287.1 143.5,287.2 143.6,287.7 143.6,286.3 143.7,286.1 143.7,286.5 143.8,287.7 143.8,288.6 143.9,288.2 143.9,288.0 144.0,288.8 144.0,289.6 144.1,290.0 144.1,290.5 144.2,291.0 144.2,290.9 144.3,289.9 144.3,291.9 144.4,290.9 144.5,291.9 144.6,291.7 144.7,292.9 144.8,291.9 144.9,292.3 145.0,292.6 145.1,292.7 145.2,294.8 145.2,294.4 145.3,294.1 145.4,294.6 145.5,296.3 145.6,295.4 145.7,295.1 145.8,296.8 145.9,296.7 146.0,297.9 146.2,296.0 146.3,297.2 146.4,298.4 146.6,298.7 146.8,299.2 146.9,297.3 147.1,298.3 147.2,298.1 147.3,298.6 147.5,300.8 147.7,300.2 147.8,301.3 147.9,300.3 148.1,301.8 148.2,301.0 148.4,300.8 148.5,302.4 148.7,303.1 148.8,301.3 149.0,302.8 149.1,303.1 149.3,302.4 149.4,303.1 149.6,302.8 149.7,303.2 149.9,303.6 150.0,304.8 150.2,305.2 150.3,304.4 150.6,304.1 150.9,305.1 151.2,306.2 151.6,305.2 151.9,305.7 152.2,305.6 152.5,307.3 152.8,306.5 153.1,305.2 153.4,305.1 153.7,305.7 154.0,305.9 154.3,305.9 154.6,304.4 154.8,304.3 155.0,305.3 155.2,304.4 155.3,303.8 155.5,303.5 155.7,304.8 155.9,303.0 156.1,303.3 156.2,302.5 156.4,302.4 156.6,303.2 156.8,303.2 157.2,301.5 157.5,301.0 157.9,302.1 158.2,300.7 158.6,300.1 158.9,302.1 159.2,300.7 159.5,301.5 159.8,300.3 160.2,301.3 160.5,300.0 160.8,299.1 161.1,298.5 161.2,299.6 161.3,299.5 161.4,299.8 161.5,297.5 161.6,298.5 161.7,297.6 161.8,297.6 161.9,296.4 162.0,296.5 162.1,296.7 162.2,297.4 162.3,295.1 162.4,295.8 162.5,296.2 162.6,296.3 162.7,294.1 162.7,293.6 162.8,295.3 162.9,295.1 162.9,293.6 163.0,292.2 163.1,294.1 163.1,292.5 163.2,293.4 163.3,292.4 163.3,292.6 163.4,290.7 163.5,291.9 163.6,290.2 163.6,290.4 163.7,291.1 163.8,290.8 163.8,288.9 163.9,288.7 164.0,288.8 164.0,288.8 164.1,288.2 164.2,287.2 164.2,287.2 164.3,288.1 164.4,288.2 164.5,285.8 164.6,286.8 164.7,287.0 164.7,284.9 164.8,286.6 164.9,284.5 165.0,285.4 165.1,285.0 165.2,284.8 165.3,283.8 165.4,283.7 165.4,283.8 165.5,283.1 165.6,283.4 165.7,282.6 165.8,282.3 165.9,281.0 166.0,282.1 166.1,281.5 166.1,280.6 166.2,281.6 166.3,281.3 166.4,280.2 166.5,279.2 166.6,279.7 166.7,278.5 166.8,278.2 166.9,278.7 167.0,277.5 167.1,278.1 167.2,278.0 167.3,276.5 167.4,277.7 167.5,276.1 167.6,277.4 167.7,277.2 167.8,276.2 168.0,274.8 168.1,275.6 168.2,275.0 168.3,276.1 168.4,273.8 168.5,275.3 168.6,275.4 168.7,274.4 168.8,274.3 168.9,272.5 169.0,274.2 169.1,272.7 169.2,273.5 169.3,273.1 169.4,271.0 169.5,272.2 169.6,272.2 169.6,269.8 169.7,270.2 169.8,270.9 169.9,269.1 170.0,270.6 170.1,268.8 170.2,269.8 170.3,267.9 170.3,268.4 170.4,269.1 170.5,267.1 170.6,266.9 170.7,267.2 170.8,266.5 170.9,265.5 171.0,265.5 171.0,265.1 171.1,266.7 171.2,265.8 171.3,266.0 171.4,263.9 171.5,265.1 171.6,263.2 171.7,263.9 171.8,263.9 171.9,262.9 172.0,263.8 172.1,262.7 172.2,262.5 172.2,262.9 172.3,260.7 172.4,262.6 172.5,261.4 172.6,260.5 172.7,261.2 172.8,259.5 172.9,261.0 173.0,259.7 173.2,258.9 173.3,259.6 173.5,258.5 173.6,257.6 173.8,258.7 174.0,256.7 174.1,258.4 174.3,256.7 174.5,257.4 174.6,257.9 174.8,256.7 174.9,256.6 175.1,255.4 175.2,255.0 175.4,255.3 175.5,255.9 175.7,257.4 175.8,257.2 176.0,257.7 176.1,258.9 176.3,257.3 176.4,257.9 176.6,259.2 176.7,257.9 176.9,258.2 177.0,259.3 177.2,259.0 177.3,259.9 177.5,259.9 177.7,261.0 178.0,261.3 178.2,260.6 178.4,261.9 178.6,261.8 178.8,261.2 179.1,263.5 179.3,262.0 179.5,262.1 179.8,261.7 180.0,262.8 180.3,263.1 180.6,262.6 180.8,261.5 181.1,260.9 181.3,260.0 181.6,261.3 181.7,260.8 181.9,260.0 182.0,260.5 182.2,259.7 182.3,260.6 182.5,259.8 182.6,258.3 182.8,259.6 182.9,257.2 183.1,258.1 183.2,257.5 183.4,256.8 183.5,256.0 183.7,257.5 183.8,255.3 184.0,256.4 184.2,257.1 184.4,254.9 184.7,254.7 184.9,255.5 185.1,255.0 185.2,255.6 185.3,256.3 185.5,255.0 185.6,255.7 185.7,256.0 185.8,255.6 185.9,258.0 186.1,258.0 186.2,258.2 186.3,256.7 186.4,259.1 186.6,259.2 186.7,258.8 186.8,259.7 186.9,259.3 187.1,259.1 187.2,259.1 187.4,259.7 187.5,259.5 187.7,260.5 187.8,261.8 188.0,262.0 188.1,262.6 188.2,262.6 188.3,261.8 188.3,262.8 188.4,262.8 188.5,264.0 188.6,263.7 188.7,263.4 188.8,264.6 188.8,265.7 188.9,264.2 189.0,266.1 189.1,264.3 189.2,265.2 189.2,265.4 189.3,267.0 189.4,267.8 189.7,267.5 190.0,266.6 190.3,268.2 190.7,267.0 191.0,267.0 191.3,268.8 191.6,268.3 191.9,268.7 192.2,268.8 192.5,269.7 192.8,268.7 193.1,269.8 193.4,269.6 193.7,270.2 193.8,269.5 193.9,270.5 194.0,270.4 194.1,270.0 194.2,270.1 194.3,271.4 194.4,270.4 194.5,272.7 194.6,271.1 194.7,271.1 194.8,271.6 194.8,273.9 194.9,272.8 195.0,272.6 195.1,272.6 195.2,272.9 195.3,274.8 195.4,275.0 195.5,275.4 195.6,275.8 195.7,274.5 195.8,276.1 195.9,275.8 196.0,277.2 196.0,277.6 196.1,278.1 196.1,276.3 196.2,278.6 196.2,279.0 196.3,279.4 196.3,277.7 196.4,278.2 196.4,278.3 196.5,278.4 196.5,280.8 196.6,281.0 196.6,280.9 196.7,281.6 196.7,281.5 196.8,280.9 196.8,280.8 196.9,281.1 196.9,283.0 197.0,282.0 197.0,282.6 197.1,283.1 197.1,282.5 197.2,283.4 197.3,283.7 197.3,285.1 197.4,284.6 197.5,284.8 197.6,286.6 197.6,285.8 197.7,287.0 197.8,286.7 197.9,285.6 197.9,286.8 198.0,287.2 198.1,288.3 198.1,287.6 198.2,288.8 198.3,288.7 198.4,288.2 198.4,290.1 198.5,288.5 198.6,290.6 198.7,289.4 198.7,289.2 198.8,290.0 198.9,291.7 199.0,292.6 199.0,290.5 199.1,292.0 199.2,292.3 199.3,293.4 199.4,292.2 199.5,293.2 199.5,293.2 199.6,294.7 199.7,293.6 199.8,295.6 199.9,294.3 200.0,294.4 200.1,295.9 200.2,295.7 200.2,295.1 200.3,296.7 200.4,295.6 200.5,297.7 200.6,297.8 200.7,298.3 200.8,298.2 200.9,297.8 201.0,298.3 201.1,298.6 201.1,300.1 201.2,298.4 201.3,300.7 201.4,298.9 201.5,299.6 201.6,300.1 201.7,301.9 201.8,301.3 201.9,301.3 201.9,302.8 202.0,301.5 202.1,302.4 202.2,302.9 202.3,303.7 202.4,304.0 202.5,304.1 202.6,303.7 202.7,303.9 202.7,303.8 202.8,305.8 202.9,305.6 203.0,306.1 203.1,305.0 203.2,306.0 203.2,307.1 203.3,307.0 203.4,306.2 203.5,307.3 203.6,308.6 203.7,307.3 203.7,307.5 203.8,308.1 203.9,309.4 204.0,310.1 204.1,308.7 204.2,309.0 204.2,309.5 204.3,310.0 204.4,310.8 204.5,310.2 204.6,310.9 204.7,310.9 204.9,313.1 205.0,312.8 205.1,311.5 205.2,313.9 205.4,312.1 205.5,313.1 205.6,314.9 205.7,314.7 205.8,314.8 206.0,314.4 206.1,314.1 206.2,315.5 206.3,314.5 206.5,315.0 206.6,315.7 206.7,315.2 206.9,316.3 207.0,317.6 207.2,317.6 207.3,317.4 207.5,318.0 207.6,317.9 207.8,317.4 208.0,318.8 208.1,318.5 208.3,319.6 208.4,320.3 208.6,319.4 208.7,320.1 208.9,320.8 209.1,320.2 209.4,320.0 209.6,321.5 209.9,322.1 210.1,322.1 210.4,322.2 210.6,322.9 211.0,322.3 211.3,322.1 211.7,321.5 212.1,321.1 212.4,321.7 212.8,320.3 213.0,320.8 213.3,321.5 213.5,321.1 213.8,320.6 214.0,319.4 214.3,319.6 214.5,319.4 214.8,319.6 215.0,318.8 215.2,319.2 215.5,319.6 215.7,317.5 215.9,318.4 216.2,318.5 216.4,317.3 216.7,317.3 216.9,318.2 217.1,315.7 217.4,316.7 217.6,315.5 217.9,317.2 218.2,317.7 218.5,316.9 218.8,316.0 219.0,317.4 219.3,317.5 219.6,318.1 219.9,317.7 220.2,318.2 220.5,318.5 220.8,317.6 221.1,317.2 221.4,318.3 221.7,316.4 222.0,317.4 222.3,316.5 222.4,317.1 222.5,315.2 222.6,317.0 222.7,315.2 222.8,314.2 222.9,314.4 223.0,314.4 223.1,313.2 223.2,313.9 223.3,313.6 223.4,314.0 223.5,312.8 223.6,312.3 223.7,311.9 223.8,312.9 223.9,313.1 224.0,311.8 224.1,310.7 224.2,311.9 224.3,310.6 224.4,309.8 224.5,309.3 224.6,310.6 224.7,310.4 224.7,309.7 224.8,308.9 224.9,308.9 225.0,307.7 225.0,309.2 225.1,307.4 225.2,307.8 225.3,307.9 225.3,307.6 225.4,306.4 225.5,305.7 225.6,306.0 225.7,304.7 225.7,306.1 225.8,304.6 225.9,305.5 226.0,303.8 226.0,303.7 226.1,303.1 226.2,303.2 226.3,302.3 226.4,301.6 226.5,303.0 226.6,301.7 226.7,301.3 226.8,301.1 227.0,301.2 227.1,300.8 227.2,301.0 227.3,300.7 227.4,299.7 227.5,300.8 227.8,300.4 228.1,298.2 228.3,299.9 228.6,299.9 228.9,299.3 229.1,297.5 229.4,299.0 229.7,298.3 229.8,296.5 230.0,296.2 230.1,298.2 230.3,297.1 230.4,295.8 230.6,295.2 230.7,295.0 230.8,294.9 231.0,295.9 231.1,294.5 231.3,293.8 231.4,295.3 231.5,294.7 231.6,292.9 231.7,294.4 231.8,293.4 231.9,293.5 232.0,292.9 232.1,293.2 232.2,292.6 232.3,292.5 232.4,290.6 232.5,291.5 232.6,290.8 232.7,291.0 232.8,290.0 232.9,290.8 233.0,289.7 233.1,288.7 233.2,288.3 233.3,287.8 233.3,288.3 233.4,286.9 233.5,287.6 233.5,286.5 233.6,287.1 233.7,286.8 233.8,286.6 233.8,287.1 233.9,284.6 234.0,286.4 234.0,285.2 234.1,285.1 234.2,285.0 234.2,285.1 234.3,283.7 234.4,283.5 234.4,284.5 234.5,282.0 234.5,283.1 234.6,282.8 234.7,281.0 234.7,282.1 234.8,281.9 234.9,282.2 234.9,280.5 235.0,281.7 235.0,280.3 235.1,279.9 235.2,280.6 235.2,278.2 235.3,279.5 235.4,279.0 235.4,278.0 235.5,279.0 235.5,277.4 235.6,277.4 235.7,277.2 235.7,277.5 235.8,275.8 235.9,276.0 235.9,275.7 236.0,275.7 236.1,276.1 236.2,274.5 236.2,275.5 236.3,274.2 236.4,274.1 236.5,273.2 236.6,273.5 236.6,274.3 236.7,273.3 236.8,273.3 236.9,271.9 236.9,271.5 237.0,271.2 237.1,271.6 237.1,271.4 237.2,271.5 237.3,269.3 237.4,270.7 237.5,270.8 237.6,269.7 237.8,268.2 237.9,268.5 238.0,267.5 238.1,267.7 238.2,269.2 238.3,268.1 238.5,267.9 238.6,268.0 238.7,268.0 238.8,267.0 239.0,266.7 239.1,266.4 239.3,266.3 239.5,265.8 239.6,265.7 239.8,264.3 239.9,265.1 240.1,264.4 240.3,264.8 240.4,262.9 240.6,262.8 240.8,262.2 241.0,263.7 241.2,263.8 241.4,262.9 241.7,261.9 241.9,262.7 242.1,262.3 242.3,261.5 242.5,260.5 242.8,260.3 243.0,260.3 243.3,259.8 243.5,259.8 243.8,260.0 244.0,260.5 244.1,258.0 244.1,258.9 244.2,257.3 244.3,257.2 244.4,258.6 244.4,257.7 244.5,258.2 244.6,256.7 244.6,255.4 244.7,256.0 244.8,256.2 244.9,256.7 244.9,256.5 245.0,254.9 245.1,254.4 245.2,253.4 245.2,254.4 245.3,253.0 245.4,252.6 245.6,251.9 245.7,251.6 245.8,252.9 245.9,251.3 246.1,253.0 246.2,250.6 246.3,252.2 246.5,250.0 246.6,249.5 247.0,251.1 247.3,249.8 247.7,250.9 248.0,249.4 248.4,248.9 248.5,251.0 248.7,251.1 248.8,251.8 248.9,251.8 249.1,250.5 249.2,252.1 249.3,252.6 249.4,252.3 249.6,253.7 249.7,252.3 249.8,254.4 249.9,254.1 249.9,252.7 250.0,253.0 250.1,254.9 250.2,255.6 250.3,254.1 250.3,255.0 250.4,256.3 250.5,255.2 250.6,257.2 250.7,256.6 250.8,255.9 250.8,257.0 250.9,257.8 251.0,257.8 251.1,258.6 251.3,257.6 251.4,259.5 251.6,258.7 251.7,259.7 251.8,260.0 252.0,259.7 252.1,259.9 252.3,261.2 252.4,261.9 252.6,261.8 252.7,261.5 252.9,260.6 253.1,259.8 253.4,261.8 253.6,260.9 253.8,260.9 254.1,259.5 254.3,259.9 254.5,260.6 254.8,260.0 255.0,259.1 255.3,258.2 255.5,258.2 255.8,259.1 255.9,258.1 256.1,259.2 256.2,259.2 256.4,260.3 256.5,260.3 256.6,259.4 256.8,259.0 256.9,259.9 257.1,260.6 257.2,261.3 257.4,262.2 257.5,262.6 257.6,260.9 257.7,263.1 257.7,263.4 257.8,263.8 257.9,263.4 258.0,263.0 258.1,264.7 258.1,264.9 258.2,264.9 258.3,265.7 258.4,264.7 258.4,264.3 258.5,265.8 258.6,266.7 258.7,265.5 258.8,267.2 258.8,267.9 258.9,266.5 259.0,267.7 259.1,268.2 259.2,268.0 259.2,267.6 259.3,268.1 259.4,269.6 259.5,270.0 259.6,269.5 259.6,268.9 259.7,271.0 259.8,271.2 259.9,270.2 259.9,271.3 260.0,272.4 260.1,272.7 260.2,272.1 260.2,272.3 260.3,272.9 260.4,272.2 260.5,272.5 260.5,272.8 260.6,274.4 260.7,273.9 260.8,274.7 260.9,274.6 261.0,275.2 261.2,274.6 261.3,274.6 261.4,277.2 261.5,276.0 261.6,275.7 261.7,277.3 261.8,277.9 262.0,276.7 262.1,278.1 262.2,277.8 262.3,278.5 262.6,277.5 262.9,277.7 263.2,280.2 263.5,280.1 263.8,279.4 264.1,279.8 264.4,279.3 264.7,280.8 265.0,280.1 265.3,281.6 265.4,281.5 265.5,281.9 265.6,282.6 265.7,281.2 265.8,281.0 266.0,281.7 266.1,281.9 266.2,282.0 266.3,282.2 266.4,283.8 266.5,284.9 266.6,284.2 266.6,285.7 266.7,285.9 266.7,284.2 266.8,285.8 266.8,285.6 266.9,285.2 266.9,287.6 267.0,286.2 267.1,287.3 267.1,287.8 267.2,288.9 267.2,288.5 267.3,288.1 267.3,288.6 267.4,288.2 267.5,290.5 267.6,290.9 267.6,289.3 267.7,289.2 267.8,290.0 267.9,290.6 268.0,292.2 268.1,292.5 268.1,292.7 268.2,291.1 268.3,293.2 268.4,293.3 268.5,293.5 268.6,294.6 268.6,292.7 268.7,293.2 268.8,295.0 269.0,295.7 269.2,295.4 269.4,294.7 269.5,295.7 269.7,296.4 269.9,295.0 270.1,295.8 270.3,295.9 270.5,295.9 270.7,297.0 270.8,296.5 271.0,297.0 271.2,297.0 271.4,298.6 271.6,297.2 271.8,299.2 272.0,298.2 272.2,298.1 272.4,300.6 272.6,299.1 272.9,301.1 273.1,301.2 273.3,301.5 273.5,300.0 273.7,301.0 273.9,300.4 274.1,302.7 274.3,302.8 274.5,302.5 274.7,302.4 274.9,302.4 275.0,303.8 275.2,303.2 275.4,303.9 275.6,303.0 275.8,303.4 276.0,303.3 276.2,305.2 276.3,305.1 276.5,304.4 276.7,306.4 276.9,305.2 277.2,305.7 277.6,305.3 277.9,305.7 278.3,307.3 278.6,305.8 278.8,305.2 279.1,305.7 279.4,305.0 279.6,306.2 279.9,304.0 280.0,305.9 280.2,303.3 280.3,305.1 280.4,304.2 280.5,302.8 280.7,303.1 280.8,302.3 280.9,302.0 281.0,301.5 281.2,301.6 281.3,302.9 281.4,302.6 281.5,302.1 281.7,299.8 281.8,299.9 281.9,301.1 282.0,298.8 282.2,300.1 282.3,298.7 282.4,300.1 282.5,297.5 282.7,299.1 282.8,297.7 282.9,296.9 283.0,296.2 283.1,298.0 283.3,296.9 283.4,295.8 283.5,296.1 283.6,297.0 283.8,295.0 283.9,295.6 284.0,294.2 284.1,294.0 284.2,295.1 284.3,294.7 284.4,293.1 284.5,292.5 284.6,292.3 284.7,293.2 284.8,292.7 284.9,291.8 285.0,291.3 285.1,292.0 285.2,292.0 285.3,291.9 285.4,291.1 285.5,289.8 285.6,289.2 285.7,290.5 285.8,289.4 285.9,289.9 286.0,287.9 286.1,289.5 286.2,288.0 286.3,289.0 286.4,288.7 286.5,287.5 286.6,286.0 286.7,287.9 286.8,286.5 286.9,287.2 287.0,285.4 287.1,284.9 287.2,286.1 287.3,284.7 287.4,283.9 287.5,284.1 287.6,284.3 287.7,282.6 287.8,283.5 287.9,283.0 288.0,282.9 288.0,281.6 288.1,282.8 288.2,282.7 288.3,282.5 288.4,280.9 288.5,281.5 288.5,280.4 288.6,281.0 288.7,279.0 288.8,280.7 288.9,280.6 289.0,279.2 289.1,278.9 289.1,278.6 289.2,278.4 289.3,276.8 289.4,278.8 289.5,276.6 289.6,276.2 289.6,275.7 289.7,275.8 289.8,276.8 289.9,274.6 290.0,274.4 290.0,275.6 290.1,274.0 290.2,273.3 290.3,274.4 290.4,274.0 290.5,273.6 290.5,273.7 290.6,271.9 290.7,273.5 290.8,272.8 290.8,270.8 290.9,270.7 290.9,271.3 290.9,271.0 291.0,270.2 291.1,269.5 291.1,269.9 291.1,268.9 291.2,269.7 291.2,270.1 291.3,268.0 291.3,268.8 291.4,268.9 291.4,267.1 291.5,268.5 291.6,268.4 291.6,266.8 291.6,266.5 291.7,267.3 291.9,266.2 292.0,265.6 292.2,266.6 292.3,265.9 292.5,264.6 292.6,264.0 292.6,264.0 292.7,263.9 292.7,264.9 292.8,264.2 292.8,264.2 292.9,263.6 292.9,263.4 293.0,261.1 293.0,262.0 293.1,262.8 293.1,262.4 293.2,260.4 293.2,260.5 293.3,260.7 293.3,259.8 293.4,259.9 293.4,258.4 293.4,259.6 293.5,260.1 293.5,259.3 293.5,259.9 293.6,262.2 293.6,262.0 293.6,262.8 293.7,262.3 293.7,263.1 293.7,263.6 293.8,263.9 293.8,262.1 293.8,263.9 293.9,263.3 293.9,264.6 293.9,263.9 294.0,264.9 294.0,266.2 294.0,265.1 294.1,263.9 294.1,264.2 294.2,263.7 294.2,264.6 294.3,262.7 294.3,262.4 294.3,263.0 294.4,261.4 294.4,262.2 294.5,262.8 294.5,261.4 294.5,260.5 294.6,260.6 294.6,260.5 294.7,259.2 294.7,258.9 294.8,258.6 294.8,258.6 294.9,259.2 294.9,259.2 294.9,259.4 295.0,259.4 295.1,260.8 295.1,261.8 295.2,261.6 295.2,261.8 295.2,262.3 295.3,261.5 295.4,263.0 295.4,262.7 295.5,263.3 295.5,263.7 295.6,263.7 295.6,263.6 295.6,263.1 295.7,262.8 295.7,263.2 295.8,262.5 295.8,262.7 295.9,261.0 295.9,261.5 296.0,262.5 296.0,260.6 296.1,261.1 296.1,260.6 296.2,259.8 296.2,261.2 296.3,259.2 296.3,260.1 296.4,258.3 296.4,257.7 296.5,260.0 296.5,259.3 296.6,258.7 296.6,259.8 296.7,260.2 296.8,261.2 296.8,260.0 296.9,260.6 297.0,262.7 297.0,262.5 297.1,261.4 297.1,262.1 297.2,262.5 297.3,263.0 297.3,262.5 297.4,262.8 297.4,262.4 297.5,261.3 297.5,261.6 297.6,261.3 297.7,261.0 297.7,260.0 297.8,260.5 297.8,260.0 297.9,260.2 297.9,257.9 298.0,259.4 298.1,257.6 298.2,259.8 298.3,259.7 298.4,259.8 298.4,261.3 298.5,260.6 298.6,260.6 298.7,261.8 298.8,262.3 298.9,261.4 299.0,260.5 299.1,260.3 299.2,260.0 299.2,260.3 299.3,258.9 299.4,258.8 299.5,258.9 299.6,258.2 299.7,258.3 299.9,259.8 300.0,260.2 300.1,259.6 300.2,259.8 300.4,259.5 300.5,260.1 300.6,259.4 300.8,260.2 300.9,259.9 301.1,258.4 301.2,260.1 301.4,258.4 301.5,259.9 301.6,260.2 301.7,260.8 301.8,259.3 301.9,260.2 302.0,261.6 302.1,259.7 302.2,260.1 302.3,261.7 302.4,261.9 302.5,263.2 302.6,263.1 302.8,262.8 302.9,264.3 303.0,263.4 303.1,263.7 303.3,264.4 303.4,263.9 303.5,264.1 303.6,265.1 303.7,264.8 303.7,266.6 303.8,266.2 303.9,266.2 304.0,265.5 304.1,266.5 304.1,266.8 304.2,267.6 304.3,267.9 304.5,268.4 304.6,268.2 304.8,266.8 304.9,266.3 305.1,266.5 305.2,267.7 305.2,266.4 305.3,267.2 305.3,268.2 305.4,266.9 305.4,267.6 305.5,269.5 305.5,269.5 305.6,269.0 305.6,268.4 305.7,270.6 305.7,270.4 305.8,271.1 305.8,271.8 305.9,271.8 306.1,270.4 306.3,269.5 306.5,269.6 306.7,269.9 306.8,270.2 306.8,269.7 306.9,270.0 306.9,271.4 307.0,271.7 307.0,271.4 307.1,273.2 307.2,272.7 307.2,271.5 307.3,272.8 307.3,274.0 307.4,273.1 307.4,274.4 307.5,273.0 307.7,274.1 307.8,275.7 308.0,275.4 308.1,276.0 308.3,275.1 308.4,276.2 308.6,276.6 308.7,276.2 308.8,277.4 309.0,277.4 309.1,278.9 309.2,278.1 309.3,278.0 309.5,277.6 309.6,277.9 309.7,279.7 309.9,278.4 310.0,278.7 310.1,279.2 310.3,280.3 310.4,281.4 310.5,281.2 310.6,281.9 310.8,280.4 310.9,280.6 311.0,282.8 311.1,282.0 311.3,283.2 311.4,282.6 311.5,282.5 311.6,283.0 311.8,282.9 311.9,285.2 312.1,284.7 312.3,284.4 312.4,284.9 312.6,285.0 312.8,284.4 313.0,285.8" fill="none" stroke="#e62b31" stroke-width="3.8" stroke-linejoin="round" stroke-linecap="round"/>
<line x1="38.2" y1="282.7" x2="313" y2="282.7" stroke="rgb(80,138,192)" stroke-opacity="0.75" stroke-width="3.3" stroke-dasharray="13.75 13.75"/>
<path d="M38.2 527.1V524.35M38.2 409.4V412.15M93.16 527.1V524.35M93.16 409.4V412.15M148.12 527.1V524.35M148.12 409.4V412.15M203.08 527.1V524.35M203.08 409.4V412.15M258.04 527.1V524.35M258.04 409.4V412.15M313 527.1V524.35M313 409.4V412.15M38.2 527.2H40.95M313 527.2H310.25M38.2 494.6H40.95M313 494.6H310.25M38.2 462H40.95M313 462H310.25M38.2 429.4H40.95M313 429.4H310.25" stroke="#262626" stroke-width="1" fill="none"/>
<rect x="38.2" y="409.4" width="274.8" height="117.7" fill="none" stroke="#262626" stroke-width="1.15"/>
<text transform="translate(30.7,532.8) scale(0.91,1)" font-size="17.5" text-anchor="end">0</text>
<text transform="translate(30.7,500.2) scale(0.91,1)" font-size="17.5" text-anchor="end">2</text>
<text transform="translate(30.7,467.6) scale(0.91,1)" font-size="17.5" text-anchor="end">4</text>
<text transform="translate(30.7,435) scale(0.91,1)" font-size="17.5" text-anchor="end">6</text>
<text transform="translate(38.2,549.8) scale(0.91,1)" font-size="17.5" text-anchor="middle">0</text>
<text transform="translate(93.16,549.8) scale(0.91,1)" font-size="17.5" text-anchor="middle">10</text>
<text transform="translate(148.12,549.8) scale(0.91,1)" font-size="17.5" text-anchor="middle">20</text>
<text transform="translate(203.08,549.8) scale(0.91,1)" font-size="17.5" text-anchor="middle">30</text>
<text transform="translate(258.04,549.8) scale(0.91,1)" font-size="17.5" text-anchor="middle">40</text>
<text transform="translate(313,549.8) scale(0.91,1)" font-size="17.5" text-anchor="middle">50</text>
<path d="M40.9 397.6L48.7 405.6M40.9 405.6L48.7 397.6" stroke="#262626" stroke-width="0.95" fill="none"/>
<text x="53" y="405.3" font-size="17.9" textLength="14.3" lengthAdjust="spacingAndGlyphs">10</text>
<text x="69.1" y="396.7" font-size="14">4</text>
<polyline points="38.0,474.8 38.3,474.5 38.6,476.1 38.9,474.7 39.2,476.2 39.5,475.9 39.8,475.3 40.1,476.7 40.4,475.6 40.7,476.9 40.9,476.2 41.1,476.6 41.2,477.9 41.4,479.4 41.6,477.7 41.8,478.3 41.9,479.8 42.1,481.0 42.3,480.3 42.5,480.2 42.6,482.1 42.8,479.8 43.0,482.5 43.2,481.2 43.4,481.0 43.6,481.3 43.8,482.1 44.0,483.8 44.2,482.4 44.4,483.8 44.6,484.3 44.8,483.8 45.2,484.1 45.5,482.6 45.9,482.4 46.2,482.6 46.6,483.8 46.8,482.7 46.9,482.1 47.1,482.5 47.3,481.8 47.4,481.1 47.6,482.2 47.7,481.6 47.9,480.0 48.1,480.6 48.2,480.1 48.4,480.8 48.6,480.0 48.8,478.5 48.9,480.1 49.1,477.3 49.3,477.8 49.5,478.4 49.7,476.4 49.8,477.0 50.0,475.4 50.2,476.8 50.5,476.8 50.7,475.9 51.0,476.5 51.2,474.6 51.5,475.4 51.7,474.8 52.0,474.4 52.4,474.2 52.7,475.4 53.1,475.9 53.5,474.7 53.8,475.3 54.2,473.8 54.5,475.3 54.7,474.8 55.0,475.5 55.2,474.7 55.5,472.9 55.7,472.9 56.0,473.4 56.1,471.2 56.1,472.1 56.2,470.9 56.2,470.4 56.3,469.9 56.3,471.5 56.4,469.4 56.4,469.3 56.5,469.4 56.5,470.4 56.6,467.8 56.7,468.5 56.8,468.4 56.8,469.0 56.9,468.5 57.0,468.2 57.1,466.2 57.2,466.3 57.2,465.8 57.3,466.9 57.4,466.7 57.5,464.1 57.6,463.9 57.8,463.7 57.9,463.3 58.0,463.7 58.1,463.6 58.2,462.4 58.4,461.3 58.5,462.1 58.6,461.7 58.7,461.9 58.8,462.6 59.0,461.5 59.1,460.7 59.2,460.6 59.5,460.5 59.8,458.5 60.0,460.6 60.3,460.0 60.6,460.0 60.9,459.5 61.1,458.1 61.4,457.8 61.7,456.7 61.9,458.0 62.2,456.1 62.4,455.9 62.7,456.0 62.9,455.6 63.2,455.9 63.4,454.8 63.7,454.4 63.8,454.5 64.0,454.0 64.1,454.4 64.3,453.1 64.4,455.1 64.6,454.0 64.7,452.4 64.9,452.3 65.0,452.2 65.1,451.9 65.2,450.9 65.3,452.6 65.5,452.7 65.6,450.9 65.7,450.6 65.8,449.1 65.9,448.8 66.1,449.1 66.2,448.6 66.3,449.8 66.4,447.6 66.5,446.9 66.6,449.1 66.7,447.6 66.8,446.2 66.9,447.0 67.1,445.2 67.2,446.3 67.3,447.2 67.4,446.5 67.5,445.7 67.6,444.2 67.7,444.1 68.0,443.3 68.2,444.7 68.5,443.7 68.7,444.1 69.0,442.5 69.2,441.9 69.5,443.3 69.9,443.9 70.2,443.7 70.6,443.7 70.9,443.9 71.3,443.8 71.5,442.7 71.6,443.8 71.8,443.7 72.0,443.1 72.1,443.4 72.3,444.5 72.4,444.7 72.6,446.3 72.8,447.4 72.9,446.3 73.1,448.0 73.4,448.3 73.7,448.5 73.9,447.0 74.2,446.8 74.5,447.1 74.7,446.7 74.8,446.4 75.0,447.2 75.1,447.7 75.3,447.2 75.4,445.8 75.6,446.0 75.7,446.1 75.9,443.7 76.2,445.2 76.5,445.8 76.8,445.2 77.2,445.0 77.5,444.1 77.8,443.1 78.1,444.6 78.5,443.3 78.9,444.6 79.2,445.0 79.6,443.4 80.0,443.4 80.4,444.9 80.8,444.2 81.2,442.6 81.5,442.4 81.9,442.4 82.3,444.5 82.5,443.9 82.6,441.7 82.8,443.3 82.9,443.4 83.0,442.2 83.2,441.0 83.3,441.2 83.5,439.7 83.6,439.1 83.8,441.5 83.9,440.2 84.1,439.6 84.4,440.5 84.8,438.9 85.1,440.0 85.4,439.7 85.6,438.3 85.9,438.7 86.1,439.1 86.3,439.3 86.5,440.6 86.8,440.0 87.0,440.8 87.2,440.3 87.4,442.8 87.5,441.6 87.7,442.2 87.8,442.9 88.0,444.2 88.1,443.1 88.2,444.9 88.4,444.1 88.5,444.5 88.7,444.8 88.8,443.7 89.0,445.3 89.2,444.9 89.3,444.7 89.5,447.3 89.6,445.8 89.8,447.0 89.9,448.1 90.0,447.9 90.2,447.6 90.3,448.5 90.5,448.9 90.6,449.9 90.8,448.3 91.0,450.0 91.1,449.4 91.2,449.9 91.4,451.6 91.5,451.2 91.7,451.7 91.8,452.6 92.0,453.4 92.1,452.4 92.3,453.2 92.4,453.2 92.6,453.6 92.7,454.5 92.9,454.1 93.0,454.7 93.2,454.9 93.3,456.6 93.4,456.2 93.6,457.1 93.7,457.6 93.8,456.0 94.0,457.2 94.1,458.7 94.3,458.7 94.4,457.1 94.5,457.4 94.6,458.6 94.6,458.0 94.7,458.8 94.8,458.7 94.9,460.7 95.0,461.4 95.0,462.1 95.1,460.3 95.2,462.3 95.3,462.5 95.4,461.4 95.4,463.8 95.5,464.4 95.6,462.6 95.7,465.1 95.8,463.9 95.8,464.5 95.9,466.3 96.0,466.2 96.1,464.6 96.2,465.8 96.3,466.4 96.3,466.2 96.4,466.2 96.5,466.9 96.6,468.4 96.7,466.8 96.8,468.6 96.8,468.7 96.9,467.9 97.0,469.1 97.1,470.3 97.1,470.3 97.2,469.4 97.3,472.4 97.4,472.2 97.4,473.1 97.5,471.0 97.6,471.8 97.6,471.5 97.7,474.0 97.8,472.9 97.8,472.9 97.9,474.0 98.0,475.8 98.1,475.9 98.1,474.7 98.2,474.7 98.3,477.2 98.3,476.6 98.4,477.3 98.5,476.0 98.6,476.2 98.6,478.4 98.7,478.0 98.8,477.3 98.8,480.1 98.9,479.6 99.0,480.5 99.0,478.8 99.1,481.3 99.2,479.5 99.3,482.1 99.3,481.3 99.4,481.3 99.5,482.3 99.5,483.7 99.6,482.2 99.7,482.1 99.7,483.6 99.8,483.2 99.8,483.2 99.9,483.7 100.0,483.7 100.0,484.5 100.1,485.2 100.2,485.5 100.2,487.2 100.3,486.2 100.6,487.0 100.9,486.3 101.2,487.1 101.5,486.4 101.8,487.2 102.1,486.8 102.2,488.5 102.3,487.6 102.5,486.3 102.6,486.7 102.7,487.7 102.8,485.0 102.9,486.7 103.1,485.3 103.2,485.1 103.3,485.7 103.4,484.1 103.5,484.1 103.5,484.2 103.6,484.7 103.7,482.5 103.8,483.5 103.8,482.8 103.9,482.2 104.0,481.2 104.1,480.7 104.1,479.5 104.2,479.4 104.3,478.8 104.4,481.1 104.5,480.1 104.6,480.1 104.8,480.3 104.9,482.8 105.0,483.2 105.1,483.0 105.2,482.2 105.3,481.8 105.4,481.5 105.5,481.6 105.6,480.4 105.7,480.9 105.7,480.0 105.8,481.6 105.9,481.3 106.0,479.7 106.1,478.5 106.2,480.1 106.3,478.6 106.4,479.1 106.4,478.5 106.5,479.9 106.6,480.5 106.7,481.0 106.8,480.5 106.9,481.7 106.9,480.6 107.0,481.7 107.1,481.6 107.2,482.1 107.3,480.7 107.3,480.3 107.4,480.7 107.5,480.2 107.6,480.8 107.7,480.3 107.8,480.5 107.8,479.9 107.9,479.7 108.0,479.8 108.1,478.0 108.3,478.2 108.4,480.4 108.6,478.4 108.7,480.3 108.9,480.5 109.0,479.1 109.2,481.7 109.3,481.5 109.3,480.4 109.4,480.3 109.4,480.2 109.5,477.9 109.5,478.7 109.6,478.2 109.7,478.8 109.7,478.4 109.8,478.1 109.8,477.0 109.9,477.5 109.9,476.6 110.0,476.3 110.1,474.6 110.1,473.7 110.2,473.6 110.2,473.9 110.3,472.8 110.3,474.5 110.4,473.3 110.4,473.2 110.5,472.8 110.5,472.6 110.6,471.7 110.6,470.0 110.7,471.9 110.7,471.4 110.8,470.3 110.8,470.0 110.9,470.0 110.9,468.0 111.0,469.5 111.0,467.8 111.0,466.9 111.0,467.1 111.1,468.0 111.1,466.2 111.1,467.3 111.1,467.6 111.2,465.9 111.2,465.2 111.2,465.2 111.2,465.4 111.3,465.2 111.3,464.5 111.3,464.2 111.3,462.2 111.4,462.0 111.4,462.0 111.4,463.0 111.4,461.4 111.5,461.8 111.5,459.8 111.5,459.6 111.6,459.9 111.6,460.6 111.6,460.3 111.7,459.9 111.7,458.5 111.7,458.8 111.8,458.3 111.8,457.9 111.8,456.6 111.9,458.4 111.9,456.1 111.9,457.9 112.0,457.5 112.0,454.5 112.0,455.4 112.0,456.1 112.1,456.1 112.1,454.3 112.1,453.5 112.2,452.9 112.2,454.6 112.2,452.2 112.3,452.9 112.3,451.3 112.3,452.0 112.4,452.9 112.4,450.2 112.5,451.8 112.5,450.6 112.6,451.3 112.6,450.4 112.7,448.7 112.8,450.2 112.8,448.7 112.9,447.0 112.9,446.6 113.0,447.6 113.0,447.2 113.1,446.4 113.2,445.6 113.2,445.8 113.3,445.3 113.3,446.4 113.4,443.7 113.5,445.5 113.5,445.4 113.6,443.0 113.6,444.9 113.7,443.9 113.7,444.1 113.8,442.0 113.8,441.9 113.9,441.6 113.9,442.9 114.0,441.4 114.0,440.4 114.1,440.3 114.1,439.5 114.2,438.5 114.2,438.3 114.2,440.0 114.3,438.1 114.3,439.5 114.4,437.3 114.4,436.9 114.5,437.3 114.5,436.0 114.6,436.2 114.6,437.5 114.7,436.9 114.7,436.3 114.8,435.5 114.9,435.9 115.0,435.7 115.1,434.2 115.2,434.3 115.2,432.1 115.3,433.7 115.4,432.5 115.5,433.0 115.6,432.4 115.7,431.0 115.8,430.0 115.9,432.2 116.0,429.6 116.0,430.2 116.1,429.5 116.2,429.0 116.3,429.9 116.4,430.2 116.5,427.8 116.6,428.6 116.7,427.3 116.8,427.6 116.8,426.8 116.9,425.8 117.0,425.5 117.1,425.2 117.2,426.8 117.3,425.3 117.4,424.2 117.4,425.8 117.5,425.7 117.6,423.8 117.7,422.6 117.9,422.4 118.0,421.8 118.2,422.2 118.3,421.2 118.5,421.3 118.6,421.0 118.8,421.5 118.9,422.1 119.1,421.4 119.2,420.1 119.4,419.8 119.6,419.8 119.7,419.1 119.9,418.7 120.1,417.6 120.3,417.9 120.4,419.5 120.6,416.8 120.8,417.6 121.0,417.6 121.1,418.0 121.3,415.8 121.4,415.6 121.5,415.2 121.5,415.3 121.6,415.1 121.7,416.1 121.8,415.5 121.9,415.2 122.0,412.4 122.0,412.1 122.1,413.7 122.2,413.8 122.3,412.3 122.5,412.3 122.6,410.3 122.8,411.1 122.9,412.3 123.1,411.7 123.2,411.4 123.6,411.7 123.9,409.6 124.3,409.2 124.6,409.3 125.0,410.3 125.4,410.8 125.7,411.7 126.1,411.1 126.4,411.0 126.8,411.5 127.1,410.8 127.5,411.3 127.8,410.1 128.0,412.5 128.3,411.3 128.5,413.5 128.8,413.0 129.0,412.4 129.3,412.2 129.5,412.8 129.7,414.2 129.9,414.7 130.1,413.3 130.3,413.5 130.5,415.1 130.7,415.6 130.9,415.3 131.2,415.2 131.4,416.5 131.6,415.2 131.8,416.3 132.0,417.0 132.2,418.7 132.4,418.2 132.6,419.1 132.7,418.3 132.8,418.0 132.9,418.4 133.0,420.7 133.1,420.4 133.2,419.6 133.3,419.1 133.4,420.8 133.6,421.7 133.7,421.3 133.8,421.2 133.9,422.7 134.0,423.7 134.1,422.1 134.2,421.9 134.3,423.1 134.4,423.7 134.5,424.8 134.6,423.8 134.7,425.8 134.8,426.0 134.9,425.7 135.0,425.2 135.1,427.7 135.2,426.2 135.3,428.0 135.4,426.7 135.5,427.0 135.6,428.9 135.7,427.9 135.8,430.1 135.9,429.2 136.0,428.7 136.1,429.1 136.2,430.0 136.3,431.1 136.4,432.2 136.5,430.3 136.6,431.3 136.8,431.2 136.9,433.7 137.0,431.7 137.1,431.8 137.2,432.1 137.3,433.4 137.4,435.2 137.5,435.5 137.6,435.4 137.7,436.5 137.8,436.7 137.9,435.3 138.0,435.3 138.0,437.7 138.1,437.6 138.2,435.9 138.3,438.0 138.3,437.6 138.4,437.9 138.5,438.1 138.6,438.0 138.7,437.9 138.7,439.0 138.8,439.6 138.9,441.6 139.0,439.7 139.1,442.4 139.1,440.6 139.2,441.4 139.3,443.0 139.4,443.4 139.4,442.6 139.5,441.9 139.6,443.4 139.7,443.5 139.8,445.4 139.8,443.7 139.9,444.5 140.0,446.4 140.1,444.3 140.2,445.7 140.3,447.2 140.3,447.4 140.4,445.8 140.5,446.1 140.6,446.5 140.7,449.3 140.7,447.8 140.8,449.5 140.9,450.3 141.0,449.1 141.1,449.2 141.1,451.5 141.2,450.9 141.3,450.3 141.4,451.9 141.5,451.1 141.6,451.4 141.6,451.0 141.7,453.4 141.8,454.2 141.9,453.8 141.9,455.0 142.0,452.8 142.0,453.8 142.1,454.8 142.1,456.5 142.2,456.9 142.2,455.6 142.3,455.6 142.3,456.5 142.4,457.0 142.4,458.6 142.5,456.9 142.6,459.0 142.6,459.2 142.7,459.7 142.7,460.0 142.8,459.9 142.8,459.4 142.9,459.8 142.9,460.3 143.0,461.8 143.0,460.2 143.1,460.9 143.2,462.8 143.2,461.7 143.3,461.5 143.3,461.8 143.4,463.6 143.4,463.3 143.5,465.5 143.5,465.6 143.6,466.2 143.6,464.6 143.7,464.4 143.7,464.8 143.8,466.3 143.8,467.2 143.9,466.8 143.9,466.6 144.0,467.4 144.0,468.4 144.1,468.9 144.1,469.4 144.2,470.1 144.2,469.9 144.3,468.7 144.3,471.1 144.4,469.9 144.5,471.0 144.6,470.8 144.7,472.2 144.8,471.1 144.9,471.5 145.0,471.9 145.1,472.0 145.2,474.4 145.2,473.9 145.3,473.5 145.4,474.1 145.5,476.1 145.6,475.1 145.7,474.7 145.8,476.7 145.9,476.6 146.0,477.9 146.2,475.7 146.3,477.1 146.4,478.4 146.6,478.9 146.8,479.4 146.9,477.3 147.1,478.3 147.2,478.2 147.3,478.7 147.5,481.3 147.7,480.5 147.8,481.9 147.9,480.6 148.1,482.4 148.2,481.5 148.4,481.3 148.5,483.1 148.7,483.9 148.8,481.8 149.0,483.5 149.1,483.9 149.3,483.1 149.4,483.9 149.6,483.6 149.7,484.1 149.9,484.5 150.0,485.8 150.2,486.3 150.3,485.3 150.6,485.0 150.9,486.2 151.2,487.4 151.6,486.3 151.9,486.9 152.2,486.8 152.5,488.7 152.8,487.8 153.1,486.3 153.4,486.2 153.7,486.8 154.0,487.1 154.3,487.2 154.6,485.4 154.8,485.3 155.0,486.5 155.2,485.3 155.3,484.7 155.5,484.4 155.7,485.9 155.9,483.8 156.1,484.1 156.2,483.2 156.4,483.1 156.6,484.0 156.8,484.1 157.2,482.1 157.5,481.5 157.9,482.8 158.2,481.1 158.6,480.4 158.9,482.8 159.2,481.2 159.5,482.1 159.8,480.7 160.2,481.8 160.5,480.4 160.8,479.3 161.1,478.7 161.2,479.8 161.3,479.7 161.4,480.1 161.5,477.5 161.6,478.6 161.7,477.6 161.8,477.6 161.9,476.2 162.0,476.3 162.1,476.6 162.2,477.4 162.3,474.7 162.4,475.5 162.5,476.0 162.6,476.1 162.7,473.6 162.7,473.1 162.8,475.0 162.9,474.7 162.9,473.0 163.0,471.4 163.1,473.6 163.1,471.7 163.2,472.8 163.3,471.6 163.3,471.9 163.4,469.6 163.5,471.1 163.6,469.1 163.6,469.3 163.7,470.2 163.8,469.8 163.8,467.6 163.9,467.4 164.0,467.5 164.0,467.5 164.1,466.8 164.2,465.7 164.2,465.7 164.3,466.7 164.4,466.8 164.5,464.1 164.6,465.2 164.7,465.4 164.7,463.0 164.8,464.9 164.9,462.6 165.0,463.6 165.1,463.1 165.2,462.9 165.3,461.7 165.4,461.7 165.4,461.8 165.5,461.0 165.6,461.3 165.7,460.4 165.8,460.0 165.9,458.5 166.0,459.8 166.1,459.1 166.1,458.0 166.2,459.2 166.3,458.9 166.4,457.6 166.5,456.5 166.6,457.0 166.7,455.6 166.8,455.3 166.9,455.9 167.0,454.6 167.1,455.2 167.2,455.1 167.3,453.4 167.4,454.8 167.5,452.9 167.6,454.4 167.7,454.1 167.8,453.1 168.0,451.4 168.1,452.4 168.2,451.7 168.3,452.9 168.4,450.3 168.5,452.0 168.6,452.1 168.7,451.0 168.8,450.9 168.9,448.8 169.0,450.7 169.1,449.0 169.2,449.9 169.3,449.5 169.4,447.0 169.5,448.4 169.6,448.5 169.6,445.7 169.7,446.1 169.8,446.9 169.9,444.9 170.0,446.6 170.1,444.5 170.2,445.7 170.3,443.4 170.3,444.1 170.4,444.9 170.5,442.6 170.6,442.4 170.7,442.7 170.8,441.8 170.9,440.7 171.0,440.7 171.0,440.3 171.1,442.2 171.2,441.1 171.3,441.4 171.4,439.0 171.5,440.3 171.6,438.1 171.7,438.9 171.8,438.9 171.9,437.7 172.0,438.8 172.1,437.6 172.2,437.3 172.2,437.8 172.3,435.2 172.4,437.4 172.5,436.0 172.6,435.0 172.7,435.8 172.8,433.9 172.9,435.6 173.0,434.1 173.2,433.1 173.3,434.0 173.5,432.7 173.6,431.7 173.8,433.0 174.0,430.7 174.1,432.5 174.3,430.6 174.5,431.4 174.6,432.0 174.8,430.6 174.9,430.5 175.1,429.2 175.2,428.7 175.4,429.1 175.5,429.7 175.7,431.4 175.8,431.2 176.0,431.8 176.1,433.2 176.3,431.4 176.4,432.0 176.6,433.5 176.7,432.1 176.9,432.3 177.0,433.7 177.2,433.3 177.3,434.4 177.5,434.3 177.7,435.6 178.0,435.9 178.2,435.1 178.4,436.6 178.6,436.5 178.8,435.8 179.1,438.4 179.3,436.8 179.5,436.8 179.8,436.4 180.0,437.6 180.3,438.0 180.6,437.5 180.8,436.1 181.1,435.5 181.3,434.5 181.6,436.0 181.7,435.4 181.9,434.5 182.0,434.9 182.2,434.0 182.3,435.1 182.5,434.2 182.6,432.5 182.8,434.0 182.9,431.2 183.1,432.2 183.2,431.5 183.4,430.7 183.5,429.9 183.7,431.6 183.8,429.1 184.0,430.3 184.2,431.1 184.4,428.5 184.7,428.4 184.9,429.2 185.1,428.6 185.2,429.4 185.3,430.2 185.5,428.7 185.6,429.5 185.7,429.8 185.8,429.4 185.9,432.1 186.1,432.2 186.2,432.3 186.3,430.7 186.4,433.4 186.6,433.4 186.7,433.0 186.8,434.1 186.9,433.7 187.1,433.3 187.2,433.3 187.4,434.0 187.5,433.8 187.7,435.0 187.8,436.5 188.0,436.7 188.1,437.4 188.2,437.4 188.3,436.5 188.3,437.7 188.4,437.7 188.5,439.0 188.6,438.6 188.7,438.3 188.8,439.7 188.8,440.9 188.9,439.2 189.0,441.4 189.1,439.3 189.2,440.4 189.2,440.7 189.3,442.4 189.4,443.4 189.7,443.0 190.0,442.0 190.3,443.8 190.7,442.5 191.0,442.4 191.3,444.5 191.6,444.0 191.9,444.4 192.2,444.5 192.5,445.6 192.8,444.4 193.1,445.6 193.4,445.5 193.7,446.1 193.8,445.3 193.9,446.4 194.0,446.3 194.1,445.9 194.2,446.0 194.3,447.5 194.4,446.3 194.5,449.0 194.6,447.2 194.7,447.2 194.8,447.8 194.8,450.4 194.9,449.1 195.0,448.9 195.1,448.9 195.2,449.3 195.3,451.5 195.4,451.6 195.5,452.2 195.6,452.6 195.7,451.1 195.8,452.9 195.9,452.6 196.0,454.2 196.0,454.6 196.1,455.1 196.1,453.2 196.2,455.8 196.2,456.3 196.3,456.7 196.3,454.7 196.4,455.4 196.4,455.5 196.5,455.6 196.5,458.2 196.6,458.5 196.6,458.4 196.7,459.3 196.7,459.1 196.8,458.5 196.8,458.3 196.9,458.6 196.9,460.9 197.0,459.7 197.0,460.3 197.1,461.0 197.1,460.2 197.2,461.2 197.3,461.7 197.3,463.2 197.4,462.6 197.5,462.8 197.6,465.0 197.6,464.1 197.7,465.4 197.8,465.1 197.9,463.8 197.9,465.2 198.0,465.7 198.1,467.0 198.1,466.1 198.2,467.5 198.3,467.4 198.4,466.8 198.4,469.0 198.5,467.2 198.6,469.6 198.7,468.1 198.7,468.0 198.8,468.9 198.9,470.9 199.0,471.8 199.0,469.4 199.1,471.2 199.2,471.5 199.3,472.7 199.4,471.4 199.5,472.6 199.5,472.5 199.6,474.2 199.7,473.0 199.8,475.3 199.9,473.8 200.0,473.9 200.1,475.7 200.2,475.4 200.2,474.7 200.3,476.5 200.4,475.3 200.5,477.7 200.6,477.8 200.7,478.4 200.8,478.3 200.9,477.9 201.0,478.4 201.1,478.7 201.1,480.4 201.2,478.5 201.3,481.1 201.4,479.1 201.5,479.9 201.6,480.4 201.7,482.6 201.8,481.8 201.9,481.8 201.9,483.6 202.0,482.1 202.1,483.1 202.2,483.6 202.3,484.6 202.4,485.0 202.5,485.0 202.6,484.5 202.7,484.8 202.7,484.7 202.8,487.0 202.9,486.8 203.0,487.4 203.1,486.1 203.2,487.2 203.2,488.5 203.3,488.3 203.4,487.4 203.5,488.7 203.6,490.3 203.7,488.8 203.7,489.0 203.8,489.7 203.9,491.1 204.0,491.9 204.1,490.3 204.2,490.6 204.2,491.3 204.3,491.8 204.4,492.7 204.5,492.1 204.6,492.9 204.7,492.8 204.9,495.4 205.0,495.0 205.1,493.6 205.2,496.3 205.4,494.2 205.5,495.4 205.6,497.4 205.7,497.2 205.8,497.4 206.0,496.9 206.1,496.5 206.2,498.1 206.3,496.9 206.5,497.6 206.6,498.4 206.7,497.7 206.9,499.1 207.0,500.5 207.2,500.5 207.3,500.3 207.5,501.0 207.6,500.8 207.8,500.3 208.0,501.9 208.1,501.6 208.3,502.9 208.4,503.7 208.6,502.7 208.7,503.4 208.9,504.2 209.1,503.6 209.4,503.3 209.6,505.0 209.9,505.8 210.1,505.8 210.4,505.9 210.6,506.6 211.0,506.0 211.3,505.7 211.7,505.1 212.1,504.5 212.4,505.3 212.8,503.7 213.0,504.3 213.3,505.0 213.5,504.5 213.8,504.0 214.0,502.6 214.3,502.8 214.5,502.6 214.8,502.8 215.0,501.9 215.2,502.4 215.5,502.8 215.7,500.4 215.9,501.5 216.2,501.5 216.4,500.2 216.7,500.2 216.9,501.2 217.1,498.3 217.4,499.5 217.6,498.1 217.9,500.0 218.2,500.7 218.5,499.7 218.8,498.7 219.0,500.3 219.3,500.4 219.6,501.1 219.9,500.7 220.2,501.3 220.5,501.6 220.8,500.6 221.1,500.1 221.4,501.4 221.7,499.1 222.0,500.3 222.3,499.3 222.4,500.0 222.5,497.8 222.6,499.9 222.7,497.8 222.8,496.6 222.9,496.9 223.0,496.9 223.1,495.5 223.2,496.3 223.3,495.9 223.4,496.4 223.5,495.1 223.6,494.5 223.7,494.0 223.8,495.2 223.9,495.4 224.0,493.9 224.1,492.7 224.2,494.0 224.3,492.5 224.4,491.6 224.5,491.1 224.6,492.5 224.7,492.3 224.7,491.4 224.8,490.6 224.9,490.5 225.0,489.2 225.0,490.9 225.1,488.8 225.2,489.3 225.3,489.4 225.3,489.1 225.4,487.7 225.5,486.9 225.6,487.3 225.7,485.7 225.7,487.3 225.8,485.6 225.9,486.7 226.0,484.7 226.0,484.6 226.1,483.9 226.2,484.1 226.3,483.0 226.4,482.2 226.5,483.8 226.6,482.2 226.7,481.8 226.8,481.6 227.0,481.7 227.1,481.2 227.2,481.5 227.3,481.2 227.4,480.0 227.5,481.2 227.8,480.8 228.1,478.3 228.3,480.2 228.6,480.2 228.9,479.6 229.1,477.5 229.4,479.2 229.7,478.4 229.8,476.3 230.0,475.9 230.1,478.2 230.3,477.1 230.4,475.6 230.6,474.8 230.7,474.6 230.8,474.5 231.0,475.6 231.1,474.1 231.3,473.2 231.4,474.9 231.5,474.3 231.6,472.2 231.7,473.9 231.8,472.7 231.9,472.9 232.0,472.2 232.1,472.5 232.2,471.9 232.3,471.7 232.4,469.5 232.5,470.6 232.6,469.8 232.7,470.0 232.8,468.9 232.9,469.8 233.0,468.5 233.1,467.3 233.2,466.9 233.3,466.3 233.3,466.9 233.4,465.3 233.5,466.1 233.5,464.9 233.6,465.5 233.7,465.2 233.8,464.9 233.8,465.5 233.9,462.7 234.0,464.7 234.0,463.3 234.1,463.2 234.2,463.1 234.2,463.3 234.3,461.6 234.4,461.4 234.4,462.5 234.5,459.7 234.5,460.9 234.6,460.6 234.7,458.5 234.7,459.8 234.8,459.6 234.9,460.0 234.9,457.9 235.0,459.4 235.0,457.7 235.1,457.3 235.2,458.1 235.2,455.3 235.3,456.8 235.4,456.2 235.4,455.1 235.5,456.2 235.5,454.4 235.6,454.4 235.7,454.2 235.7,454.5 235.8,452.6 235.9,452.8 235.9,452.5 236.0,452.5 236.1,452.9 236.2,451.1 236.2,452.2 236.3,450.7 236.4,450.6 236.5,449.6 236.6,449.9 236.6,450.9 236.7,449.6 236.8,449.7 236.9,448.0 236.9,447.6 237.0,447.3 237.1,447.7 237.1,447.5 237.2,447.6 237.3,445.1 237.4,446.7 237.5,446.8 237.6,445.6 237.8,443.8 237.9,444.2 238.0,443.0 238.1,443.2 238.2,445.0 238.3,443.7 238.5,443.5 238.6,443.6 238.7,443.6 238.8,442.4 239.0,442.1 239.1,441.8 239.3,441.7 239.5,441.1 239.6,441.0 239.8,439.4 239.9,440.3 240.1,439.4 240.3,440.0 240.4,437.8 240.6,437.7 240.8,436.9 241.0,438.7 241.2,438.8 241.4,437.7 241.7,436.6 241.9,437.5 242.1,437.1 242.3,436.1 242.5,435.0 242.8,434.8 243.0,434.8 243.3,434.2 243.5,434.2 243.8,434.5 244.0,435.0 244.1,432.1 244.1,433.2 244.2,431.4 244.3,431.2 244.4,432.8 244.4,431.8 244.5,432.4 244.6,430.7 244.6,429.1 244.7,429.8 244.8,430.0 244.9,430.6 244.9,430.4 245.0,428.6 245.1,428.1 245.2,426.8 245.2,428.0 245.3,426.4 245.4,425.9 245.6,425.1 245.7,424.8 245.8,426.3 245.9,424.4 246.1,426.4 246.2,423.6 246.3,425.4 246.5,423.0 246.6,422.3 247.0,424.2 247.3,422.7 247.7,423.9 248.0,422.2 248.4,421.7 248.5,424.1 248.7,424.2 248.8,425.0 248.9,425.0 249.1,423.5 249.2,425.3 249.3,425.9 249.4,425.5 249.6,427.2 249.7,425.6 249.8,428.0 249.9,427.6 249.9,426.0 250.0,426.4 250.1,428.5 250.2,429.3 250.3,427.6 250.3,428.6 250.4,430.2 250.5,428.9 250.6,431.3 250.7,430.6 250.8,429.7 250.8,430.9 250.9,431.9 251.0,431.9 251.1,432.9 251.3,431.7 251.4,433.9 251.6,433.0 251.7,434.1 251.8,434.4 252.0,434.1 252.1,434.3 252.3,435.8 252.4,436.6 252.6,436.4 252.7,436.2 252.9,435.1 253.1,434.2 253.4,436.5 253.6,435.4 253.8,435.5 254.1,433.8 254.3,434.3 254.5,435.1 254.8,434.4 255.0,433.4 255.3,432.3 255.5,432.3 255.8,433.3 255.9,432.2 256.1,433.4 256.2,433.6 256.4,434.7 256.5,434.8 256.6,433.7 256.8,433.2 256.9,434.3 257.1,435.1 257.2,435.9 257.4,436.9 257.5,437.5 257.6,435.4 257.7,438.0 257.7,438.3 257.8,438.8 257.9,438.3 258.0,437.8 258.1,439.8 258.1,440.0 258.2,440.0 258.3,441.0 258.4,439.8 258.4,439.4 258.5,441.0 258.6,442.1 258.7,440.7 258.8,442.6 258.8,443.5 258.9,441.9 259.0,443.3 259.1,443.8 259.2,443.6 259.2,443.2 259.3,443.7 259.4,445.4 259.5,445.9 259.6,445.3 259.6,444.6 259.7,447.0 259.8,447.3 259.9,446.1 259.9,447.4 260.0,448.7 260.1,449.0 260.2,448.3 260.2,448.6 260.3,449.2 260.4,448.5 260.5,448.8 260.5,449.1 260.6,451.0 260.7,450.4 260.8,451.3 260.9,451.2 261.0,451.8 261.2,451.1 261.3,451.2 261.4,454.2 261.5,452.8 261.6,452.4 261.7,454.2 261.8,455.0 262.0,453.6 262.1,455.2 262.2,454.8 262.3,455.6 262.6,454.5 262.9,454.7 263.2,457.6 263.5,457.5 263.8,456.7 264.1,457.1 264.4,456.5 264.7,458.3 265.0,457.5 265.3,459.3 265.4,459.1 265.5,459.6 265.6,460.4 265.7,458.7 265.8,458.5 266.0,459.3 266.1,459.6 266.2,459.7 266.3,459.9 266.4,461.7 266.5,463.0 266.6,462.2 266.6,463.9 266.7,464.2 266.7,462.2 266.8,464.0 266.8,463.8 266.9,463.4 266.9,466.1 267.0,464.5 267.1,465.8 267.1,466.3 267.2,467.6 267.2,467.1 267.3,466.7 267.3,467.3 267.4,466.8 267.5,469.4 267.6,469.9 267.6,468.1 267.7,467.9 267.8,468.9 267.9,469.5 268.0,471.4 268.1,471.8 268.1,472.0 268.2,470.1 268.3,472.5 268.4,472.7 268.5,472.9 268.6,474.2 268.6,471.9 268.7,472.5 268.8,474.6 269.0,475.4 269.2,475.0 269.4,474.3 269.5,475.4 269.7,476.2 269.9,474.6 270.1,475.6 270.3,475.7 270.5,475.6 270.7,476.9 270.8,476.4 271.0,476.9 271.2,476.9 271.4,478.7 271.6,477.2 271.8,479.5 272.0,478.3 272.2,478.2 272.4,481.0 272.6,479.3 272.9,481.6 273.1,481.7 273.3,482.1 273.5,480.3 273.7,481.5 273.9,480.8 274.1,483.5 274.3,483.5 274.5,483.2 274.7,483.1 274.9,483.0 275.0,484.7 275.2,484.1 275.4,484.8 275.6,483.8 275.8,484.3 276.0,484.1 276.2,486.3 276.3,486.2 276.5,485.3 276.7,487.7 276.9,486.3 277.2,486.9 277.6,486.4 277.9,486.9 278.3,488.7 278.6,487.0 278.8,486.3 279.1,486.9 279.4,486.1 279.6,487.5 279.9,485.0 280.0,487.1 280.2,484.1 280.3,486.1 280.4,485.2 280.5,483.5 280.7,483.9 280.8,483.0 280.9,482.6 281.0,482.1 281.2,482.2 281.3,483.6 281.4,483.3 281.5,482.7 281.7,480.1 281.8,480.2 281.9,481.6 282.0,478.9 282.2,480.5 282.3,478.9 282.4,480.5 282.5,477.4 282.7,479.3 282.8,477.7 282.9,476.8 283.0,476.0 283.1,478.0 283.3,476.8 283.4,475.5 283.5,475.9 283.6,476.9 283.8,474.6 283.9,475.2 284.0,473.7 284.1,473.5 284.2,474.8 284.3,474.3 284.4,472.5 284.5,471.8 284.6,471.5 284.7,472.6 284.8,471.9 284.9,470.9 285.0,470.4 285.1,471.2 285.2,471.1 285.3,471.1 285.4,470.1 285.5,468.7 285.6,467.9 285.7,469.5 285.8,468.2 285.9,468.7 286.0,466.5 286.1,468.3 286.2,466.6 286.3,467.7 286.4,467.4 286.5,466.0 286.6,464.3 286.7,466.4 286.8,464.9 286.9,465.6 287.0,463.6 287.1,463.0 287.2,464.4 287.3,462.8 287.4,461.8 287.5,462.1 287.6,462.3 287.7,460.3 287.8,461.4 287.9,460.9 288.0,460.7 288.0,459.2 288.1,460.6 288.2,460.5 288.3,460.3 288.4,458.4 288.5,459.1 288.5,457.9 288.6,458.6 288.7,456.3 288.8,458.2 288.9,458.1 289.0,456.4 289.1,456.1 289.1,455.8 289.2,455.5 289.3,453.7 289.4,456.0 289.5,453.5 289.6,453.1 289.6,452.5 289.7,452.5 289.8,453.7 289.9,451.2 290.0,451.0 290.0,452.3 290.1,450.5 290.2,449.7 290.3,450.9 290.4,450.5 290.5,450.0 290.5,450.1 290.6,448.1 290.7,449.9 290.8,449.1 290.8,446.9 290.9,446.7 290.9,447.4 290.9,447.1 291.0,446.1 291.1,445.3 291.1,445.8 291.1,444.7 291.2,445.6 291.2,446.0 291.3,443.6 291.3,444.5 291.4,444.6 291.4,442.6 291.5,444.1 291.6,444.1 291.6,442.2 291.6,441.9 291.7,442.8 291.9,441.5 292.0,440.8 292.2,442.0 292.3,441.2 292.5,439.7 292.6,439.1 292.6,439.0 292.7,438.9 292.7,440.1 292.8,439.2 292.8,439.2 292.9,438.6 292.9,438.3 293.0,435.7 293.0,436.7 293.1,437.6 293.1,437.2 293.2,434.9 293.2,435.0 293.3,435.3 293.3,434.2 293.4,434.3 293.4,432.6 293.4,434.0 293.5,434.6 293.5,433.6 293.5,434.3 293.6,437.0 293.6,436.8 293.6,437.6 293.7,437.1 293.7,437.9 293.7,438.5 293.8,438.9 293.8,436.8 293.8,438.9 293.9,438.2 293.9,439.7 293.9,438.9 294.0,440.1 294.0,441.5 294.0,440.3 294.1,438.9 294.1,439.3 294.2,438.7 294.2,439.8 294.3,437.5 294.3,437.2 294.3,437.8 294.4,436.0 294.4,437.0 294.5,437.6 294.5,436.0 294.5,435.0 294.6,435.2 294.6,435.0 294.7,433.5 294.7,433.1 294.8,432.8 294.8,432.9 294.9,433.5 294.9,433.6 294.9,433.8 295.0,433.7 295.1,435.3 295.1,436.5 295.2,436.2 295.2,436.5 295.2,437.0 295.3,436.1 295.4,437.9 295.4,437.6 295.5,438.2 295.5,438.7 295.6,438.6 295.6,438.5 295.6,438.0 295.7,437.6 295.7,438.1 295.8,437.3 295.8,437.5 295.9,435.6 295.9,436.2 296.0,437.3 296.0,435.2 296.1,435.7 296.1,435.2 296.2,434.2 296.2,435.8 296.3,433.5 296.3,434.5 296.4,432.4 296.4,431.8 296.5,434.4 296.5,433.6 296.6,432.9 296.6,434.2 296.7,434.7 296.8,435.8 296.8,434.4 296.9,435.1 297.0,437.5 297.0,437.3 297.1,436.0 297.1,436.9 297.2,437.3 297.3,437.8 297.3,437.3 297.4,437.6 297.4,437.2 297.5,436.0 297.5,436.2 297.6,435.9 297.7,435.6 297.7,434.4 297.8,435.0 297.8,434.4 297.9,434.6 297.9,432.0 298.0,433.8 298.1,431.7 298.2,434.2 298.3,434.1 298.4,434.2 298.4,435.9 298.5,435.2 298.6,435.1 298.7,436.5 298.8,437.1 298.9,436.0 299.0,435.0 299.1,434.8 299.2,434.4 299.2,434.8 299.3,433.2 299.4,433.1 299.5,433.2 299.6,432.3 299.7,432.5 299.9,434.1 300.0,434.7 300.1,434.0 300.2,434.2 300.4,433.8 300.5,434.5 300.6,433.7 300.8,434.6 300.9,434.3 301.1,432.6 301.2,434.6 301.4,432.6 301.5,434.4 301.6,434.7 301.7,435.4 301.8,433.6 301.9,434.6 302.0,436.3 302.1,434.1 302.2,434.6 302.3,436.4 302.4,436.6 302.5,438.1 302.6,438.0 302.8,437.7 302.9,439.3 303.0,438.3 303.1,438.6 303.3,439.4 303.4,438.9 303.5,439.2 303.6,440.2 303.7,439.9 303.7,442.0 303.8,441.6 303.9,441.5 304.0,440.7 304.1,441.8 304.1,442.3 304.2,443.1 304.3,443.5 304.5,444.0 304.6,443.9 304.8,442.2 304.9,441.7 305.1,441.8 305.2,443.3 305.2,441.8 305.3,442.7 305.3,443.8 305.4,442.4 305.4,443.2 305.5,445.4 305.5,445.3 305.6,444.8 305.6,444.0 305.7,446.6 305.7,446.4 305.8,447.1 305.8,448.0 305.9,448.0 306.1,446.4 306.3,445.4 306.5,445.4 306.7,445.8 306.8,446.1 306.8,445.6 306.9,445.9 306.9,447.5 307.0,447.8 307.0,447.5 307.1,449.6 307.2,449.0 307.2,447.7 307.3,449.1 307.3,450.5 307.4,449.5 307.4,450.9 307.5,449.4 307.7,450.6 307.8,452.5 308.0,452.1 308.1,452.8 308.3,451.8 308.4,453.0 308.6,453.5 308.7,453.0 308.8,454.4 309.0,454.4 309.1,456.1 309.2,455.2 309.3,455.1 309.5,454.6 309.6,455.0 309.7,457.1 309.9,455.6 310.0,455.9 310.1,456.4 310.3,457.8 310.4,459.0 310.5,458.7 310.6,459.6 310.8,457.9 310.9,458.1 311.0,460.5 311.1,459.6 311.3,461.1 311.4,460.4 311.5,460.2 311.6,460.9 311.8,460.7 311.9,463.4 312.1,462.8 312.3,462.4 312.4,463.0 312.6,463.1 312.8,462.5 313.0,464.0" fill="none" stroke="#e62b31" stroke-width="3.8" stroke-linejoin="round" stroke-linecap="round"/>
<line x1="38.2" y1="460.6" x2="313" y2="460.6" stroke="rgb(80,138,192)" stroke-opacity="0.75" stroke-width="3.3" stroke-dasharray="13.75 13.75"/>
<path d="M403.1 156.4V153.65M403.1 39.4V42.15M457.88 156.4V153.65M457.88 39.4V42.15M512.66 156.4V153.65M512.66 39.4V42.15M567.44 156.4V153.65M567.44 39.4V42.15M622.22 156.4V153.65M622.22 39.4V42.15M677 156.4V153.65M677 39.4V42.15M403.1 156.4H405.85M677 156.4H674.25M403.1 97.9H405.85M677 97.9H674.25M403.1 39.4H405.85M677 39.4H674.25" stroke="#262626" stroke-width="1" fill="none"/>
<rect x="403.1" y="39.4" width="273.9" height="117" fill="none" stroke="#262626" stroke-width="1.15"/>
<text transform="translate(395.6,162) scale(0.91,1)" font-size="17.5" text-anchor="end">0</text>
<text transform="translate(395.6,103.5) scale(0.91,1)" font-size="17.5" text-anchor="end">1</text>
<text transform="translate(395.6,45) scale(0.91,1)" font-size="17.5" text-anchor="end">2</text>
<text transform="translate(403.1,179.1) scale(0.91,1)" font-size="17.5" text-anchor="middle">0</text>
<text transform="translate(457.88,179.1) scale(0.91,1)" font-size="17.5" text-anchor="middle">10</text>
<text transform="translate(512.66,179.1) scale(0.91,1)" font-size="17.5" text-anchor="middle">20</text>
<text transform="translate(567.44,179.1) scale(0.91,1)" font-size="17.5" text-anchor="middle">30</text>
<text transform="translate(622.22,179.1) scale(0.91,1)" font-size="17.5" text-anchor="middle">40</text>
<text transform="translate(677,179.1) scale(0.91,1)" font-size="17.5" text-anchor="middle">50</text>
<path d="M405.8 27.6L413.6 35.6M405.8 35.6L413.6 27.6" stroke="#262626" stroke-width="0.95" fill="none"/>
<text x="417.9" y="35.3" font-size="17.9" textLength="14.3" lengthAdjust="spacingAndGlyphs">10</text>
<text x="434" y="26.7" font-size="14">6</text>
<polyline points="402.9,110.4 403.2,110.2 403.5,111.6 403.8,110.4 404.1,111.7 404.4,111.4 404.7,110.8 405.0,112.1 405.3,111.2 405.6,112.3 405.8,111.7 405.9,112.0 406.1,113.1 406.3,114.4 406.5,113.0 406.6,113.5 406.8,114.8 407.0,115.9 407.2,115.3 407.4,115.1 407.5,116.8 407.7,114.8 407.9,117.1 408.1,116.0 408.3,115.9 408.5,116.1 408.7,116.8 408.9,118.3 409.1,117.0 409.3,118.3 409.5,118.7 409.7,118.3 410.0,118.6 410.4,117.2 410.8,117.0 411.1,117.3 411.5,118.3 411.6,117.4 411.8,116.8 412.0,117.2 412.1,116.6 412.3,115.9 412.5,116.9 412.6,116.3 412.8,115.0 412.9,115.5 413.1,115.1 413.3,115.7 413.4,115.0 413.6,113.6 413.8,115.0 414.0,112.6 414.2,113.1 414.3,113.6 414.5,111.8 414.7,112.3 414.9,110.9 415.1,112.2 415.3,112.1 415.6,111.4 415.8,111.9 416.1,110.2 416.3,110.9 416.6,110.4 416.9,110.1 417.2,109.9 417.6,111.0 418.0,111.4 418.3,110.3 418.7,110.9 419.0,109.5 419.3,110.9 419.6,110.5 419.8,111.0 420.1,110.4 420.3,108.8 420.6,108.8 420.8,109.2 420.9,107.3 421.0,108.1 421.0,107.0 421.1,106.6 421.1,106.1 421.2,107.6 421.2,105.7 421.3,105.7 421.3,105.7 421.4,106.6 421.4,104.3 421.5,104.9 421.6,104.9 421.7,105.4 421.8,104.9 421.8,104.7 421.9,103.0 422.0,103.0 422.1,102.5 422.2,103.5 422.2,103.4 422.4,101.1 422.5,100.9 422.6,100.7 422.7,100.4 422.8,100.8 423.0,100.7 423.1,99.6 423.2,98.7 423.3,99.4 423.4,99.0 423.6,99.2 423.7,99.8 423.8,98.9 423.9,98.1 424.0,98.1 424.3,98.0 424.6,96.2 424.9,98.1 425.1,97.5 425.4,97.5 425.7,97.1 425.9,95.9 426.2,95.6 426.5,94.7 426.7,95.8 427.0,94.1 427.2,93.9 427.5,94.0 427.8,93.7 428.0,93.9 428.3,93.0 428.5,92.6 428.7,92.7 428.8,92.3 428.9,92.6 429.1,91.5 429.2,93.3 429.4,92.3 429.5,90.9 429.7,90.8 429.8,90.8 429.9,90.5 430.0,89.6 430.2,91.1 430.3,91.1 430.4,89.6 430.5,89.3 430.6,88.0 430.7,87.8 430.9,88.1 431.0,87.6 431.1,88.6 431.2,86.7 431.3,86.1 431.4,88.1 431.5,86.7 431.6,85.5 431.7,86.2 431.9,84.6 432.0,85.6 432.1,86.4 432.2,85.8 432.3,85.1 432.4,83.7 432.5,83.7 432.8,82.9 433.0,84.2 433.3,83.3 433.5,83.7 433.8,82.3 434.0,81.8 434.3,83.0 434.7,83.5 435.0,83.3 435.4,83.3 435.7,83.5 436.1,83.4 436.3,82.4 436.4,83.4 436.6,83.3 436.7,82.8 436.9,83.1 437.1,84.0 437.2,84.2 437.4,85.6 437.6,86.5 437.7,85.5 437.9,87.0 438.2,87.4 438.4,87.5 438.7,86.2 439.0,86.0 439.3,86.3 439.4,85.9 439.6,85.6 439.7,86.4 439.9,86.8 440.1,86.3 440.2,85.2 440.4,85.3 440.5,85.4 440.7,83.4 441.0,84.6 441.3,85.1 441.6,84.7 441.9,84.4 442.2,83.6 442.6,82.8 442.9,84.1 443.3,83.0 443.6,84.1 444.0,84.5 444.4,83.0 444.8,83.0 445.2,84.3 445.5,83.7 445.9,82.3 446.3,82.2 446.7,82.2 447.1,84.0 447.2,83.5 447.4,81.5 447.5,82.9 447.7,83.0 447.8,82.0 448.0,80.9 448.1,81.1 448.3,79.8 448.4,79.3 448.6,81.4 448.7,80.3 448.8,79.7 449.2,80.6 449.5,79.2 449.8,80.1 450.1,79.8 450.4,78.6 450.6,79.0 450.8,79.3 451.0,79.5 451.3,80.6 451.5,80.1 451.7,80.7 451.9,80.3 452.1,82.5 452.2,81.5 452.4,82.0 452.5,82.6 452.7,83.7 452.8,82.8 453.0,84.3 453.1,83.6 453.3,84.0 453.4,84.3 453.6,83.3 453.7,84.7 453.9,84.3 454.0,84.2 454.2,86.4 454.3,85.2 454.5,86.2 454.6,87.1 454.8,87.0 454.9,86.7 455.1,87.5 455.2,87.9 455.4,88.7 455.5,87.4 455.7,88.8 455.8,88.3 456.0,88.7 456.1,90.2 456.3,89.8 456.4,90.3 456.6,91.1 456.7,91.7 456.9,90.9 457.0,91.6 457.2,91.6 457.3,92.0 457.5,92.7 457.6,92.4 457.7,92.9 457.9,93.1 458.0,94.5 458.1,94.2 458.3,95.0 458.4,95.4 458.6,94.1 458.7,95.1 458.8,96.4 459.0,96.4 459.1,95.0 459.2,95.3 459.3,96.4 459.4,95.8 459.4,96.5 459.5,96.4 459.6,98.2 459.7,98.7 459.8,99.3 459.8,97.8 459.9,99.5 460.0,99.7 460.1,98.7 460.2,100.8 460.2,101.4 460.3,99.8 460.4,102.0 460.5,100.9 460.6,101.4 460.6,103.0 460.7,102.9 460.8,101.6 460.9,102.6 461.0,103.1 461.1,103.0 461.1,102.9 461.2,103.5 461.3,104.9 461.4,103.4 461.5,105.1 461.5,105.1 461.6,104.4 461.7,105.5 461.8,106.5 461.8,106.5 461.9,105.8 462.0,108.3 462.1,108.2 462.1,108.9 462.2,107.1 462.3,107.8 462.3,107.6 462.4,109.7 462.5,108.8 462.6,108.7 462.6,109.8 462.7,111.3 462.8,111.4 462.8,110.3 462.9,110.4 463.0,112.6 463.0,112.0 463.1,112.7 463.2,111.5 463.3,111.7 463.3,113.6 463.4,113.2 463.5,112.7 463.5,115.1 463.6,114.7 463.7,115.4 463.7,113.9 463.8,116.1 463.9,114.5 464.0,116.8 464.0,116.1 464.1,116.1 464.2,116.9 464.2,118.2 464.3,116.9 464.4,116.8 464.4,118.1 464.5,117.7 464.5,117.7 464.6,118.2 464.7,118.2 464.7,118.9 464.8,119.5 464.9,119.8 464.9,121.2 465.0,120.4 465.3,121.1 465.6,120.5 465.9,121.1 466.2,120.5 466.5,121.3 466.8,120.9 466.9,122.4 467.0,121.6 467.1,120.5 467.3,120.9 467.4,121.7 467.5,119.4 467.6,120.8 467.7,119.6 467.9,119.4 468.0,120.0 468.1,118.6 468.1,118.5 468.2,118.6 468.3,119.0 468.4,117.2 468.4,118.0 468.5,117.4 468.6,116.9 468.7,116.0 468.8,115.6 468.8,114.5 468.9,114.4 469.0,114.0 469.1,115.9 469.2,115.0 469.3,115.1 469.4,115.2 469.5,117.4 469.7,117.8 469.8,117.6 469.9,116.9 470.0,116.5 470.1,116.3 470.2,116.4 470.2,115.3 470.3,115.7 470.4,115.0 470.5,116.4 470.6,116.1 470.7,114.7 470.8,113.6 470.9,115.1 471.0,113.8 471.0,114.2 471.1,113.7 471.2,114.9 471.3,115.4 471.4,115.8 471.4,115.4 471.5,116.5 471.6,115.5 471.7,116.5 471.8,116.4 471.9,116.8 471.9,115.6 472.0,115.2 472.1,115.6 472.2,115.1 472.3,115.7 472.4,115.2 472.4,115.4 472.5,114.9 472.6,114.7 472.7,114.8 472.8,113.2 472.9,113.4 473.1,115.3 473.2,113.6 473.4,115.3 473.6,115.4 473.7,114.2 473.9,116.4 473.9,116.3 474.0,115.3 474.0,115.3 474.1,115.1 474.2,113.2 474.2,113.8 474.3,113.4 474.3,113.9 474.4,113.5 474.4,113.3 474.5,112.4 474.6,112.8 474.6,112.0 474.7,111.7 474.7,110.3 474.8,109.5 474.8,109.4 474.9,109.6 474.9,108.7 475.0,110.2 475.0,109.2 475.1,109.0 475.1,108.7 475.2,108.5 475.2,107.7 475.3,106.2 475.4,107.9 475.4,107.4 475.5,106.5 475.5,106.3 475.6,106.3 475.6,104.5 475.6,105.8 475.6,104.3 475.7,103.6 475.7,103.7 475.7,104.5 475.7,102.9 475.8,103.9 475.8,104.2 475.8,102.7 475.8,102.1 475.9,102.0 475.9,102.2 475.9,102.1 476.0,101.4 476.0,101.2 476.0,99.5 476.0,99.3 476.1,99.3 476.1,100.1 476.1,98.7 476.1,99.1 476.2,97.4 476.2,97.2 476.2,97.4 476.3,98.1 476.3,97.8 476.3,97.5 476.4,96.2 476.4,96.5 476.4,96.0 476.4,95.7 476.5,94.6 476.5,96.2 476.5,94.1 476.6,95.7 476.6,95.3 476.6,92.8 476.7,93.5 476.7,94.1 476.7,94.2 476.8,92.6 476.8,91.8 476.8,91.4 476.9,92.9 476.9,90.7 476.9,91.3 477.0,90.0 477.0,90.6 477.0,91.3 477.1,89.0 477.1,90.4 477.2,89.3 477.2,89.9 477.3,89.1 477.3,87.7 477.4,89.0 477.5,87.7 477.5,86.2 477.6,85.9 477.6,86.7 477.7,86.3 477.8,85.6 477.8,84.9 477.9,85.1 477.9,84.7 478.0,85.7 478.0,83.3 478.1,84.9 478.2,84.8 478.2,82.7 478.3,84.4 478.3,83.5 478.4,83.7 478.5,81.8 478.5,81.7 478.5,81.5 478.6,82.7 478.6,81.3 478.7,80.5 478.7,80.3 478.8,79.6 478.8,78.8 478.9,78.6 478.9,80.1 478.9,78.4 479.0,79.7 479.0,77.7 479.1,77.4 479.1,77.7 479.2,76.6 479.2,76.8 479.3,77.9 479.3,77.4 479.3,76.9 479.4,76.1 479.5,76.5 479.6,76.3 479.7,75.0 479.8,75.2 479.9,73.2 480.0,74.6 480.1,73.6 480.2,74.0 480.2,73.5 480.3,72.3 480.4,71.4 480.5,73.2 480.6,71.0 480.7,71.5 480.8,70.9 480.9,70.5 481.0,71.3 481.1,71.5 481.1,69.5 481.2,70.2 481.3,69.0 481.4,69.3 481.5,68.6 481.6,67.7 481.7,67.4 481.7,67.2 481.8,68.6 481.9,67.3 482.0,66.3 482.1,67.7 482.2,67.6 482.3,66.0 482.3,64.9 482.5,64.7 482.6,64.2 482.8,64.5 483.0,63.7 483.1,63.7 483.3,63.5 483.4,64.0 483.6,64.5 483.7,63.9 483.9,62.8 484.0,62.5 484.2,62.5 484.4,61.9 484.6,61.5 484.7,60.5 484.9,60.8 485.1,62.2 485.2,59.9 485.4,60.5 485.6,60.6 485.8,60.9 485.9,59.0 486.0,58.8 486.1,58.5 486.2,58.5 486.3,58.3 486.3,59.3 486.4,58.7 486.5,58.5 486.6,56.1 486.7,55.8 486.7,57.1 486.8,57.3 487.0,55.9 487.1,55.9 487.3,54.2 487.4,54.9 487.5,55.9 487.7,55.4 487.8,55.2 488.2,55.4 488.5,53.6 488.9,53.2 489.3,53.3 489.6,54.2 490.0,54.6 490.3,55.4 490.7,54.9 491.1,54.8 491.4,55.2 491.7,54.6 492.1,55.1 492.4,54.0 492.6,56.1 492.9,55.0 493.1,57.0 493.4,56.6 493.6,56.0 493.9,55.8 494.1,56.4 494.3,57.6 494.5,58.0 494.7,56.8 494.9,57.0 495.1,58.4 495.3,58.8 495.5,58.6 495.7,58.4 496.0,59.6 496.2,58.4 496.4,59.4 496.6,60.1 496.8,61.5 497.0,61.0 497.2,61.9 497.3,61.2 497.4,60.9 497.5,61.2 497.6,63.3 497.7,63.0 497.8,62.3 497.9,61.9 498.0,63.4 498.1,64.1 498.2,63.8 498.4,63.7 498.5,65.0 498.6,65.9 498.7,64.5 498.8,64.3 498.9,65.4 499.0,65.9 499.1,66.8 499.2,66.0 499.3,67.7 499.4,67.9 499.5,67.6 499.6,67.2 499.7,69.4 499.8,68.1 499.9,69.6 500.0,68.5 500.1,68.8 500.2,70.4 500.3,69.6 500.4,71.5 500.5,70.7 500.6,70.2 500.7,70.6 500.8,71.4 500.9,72.3 501.0,73.3 501.1,71.6 501.2,72.5 501.3,72.4 501.4,74.6 501.5,72.8 501.6,72.9 501.7,73.2 501.9,74.4 502.0,75.9 502.1,76.2 502.2,76.1 502.3,77.0 502.4,77.2 502.5,76.0 502.5,76.0 502.6,78.1 502.7,78.0 502.8,76.5 502.8,78.4 502.9,78.0 503.0,78.3 503.1,78.5 503.2,78.4 503.2,78.3 503.3,79.3 503.4,79.7 503.5,81.5 503.5,79.8 503.6,82.2 503.7,80.6 503.8,81.3 503.9,82.7 503.9,83.0 504.0,82.4 504.1,81.7 504.2,83.1 504.2,83.1 504.3,84.8 504.4,83.3 504.5,84.1 504.6,85.7 504.7,83.8 504.7,85.1 504.8,86.4 504.9,86.6 505.0,85.1 505.1,85.4 505.1,85.8 505.2,88.2 505.3,86.9 505.4,88.4 505.5,89.1 505.5,88.0 505.6,88.1 505.7,90.1 505.8,89.6 505.9,89.1 506.0,90.5 506.0,89.8 506.1,90.0 506.2,89.7 506.3,91.8 506.4,92.5 506.4,92.1 506.5,93.2 506.5,91.3 506.6,92.1 506.6,93.0 506.7,94.5 506.7,94.8 506.8,93.7 506.8,93.7 506.9,94.5 507.0,94.9 507.0,96.3 507.1,94.8 507.1,96.6 507.2,96.8 507.2,97.3 507.3,97.5 507.3,97.4 507.4,97.0 507.4,97.3 507.5,97.8 507.5,99.1 507.6,97.7 507.7,98.3 507.7,100.0 507.8,99.0 507.8,98.9 507.9,99.1 507.9,100.7 508.0,100.4 508.0,102.4 508.1,102.4 508.1,103.0 508.2,101.5 508.2,101.4 508.3,101.7 508.3,103.0 508.4,103.8 508.4,103.5 508.5,103.3 508.5,104.0 508.6,104.8 508.6,105.3 508.7,105.8 508.7,106.3 508.8,106.2 508.8,105.1 508.9,107.2 509.0,106.2 509.0,107.1 509.1,107.0 509.2,108.2 509.3,107.2 509.4,107.6 509.5,107.9 509.6,108.0 509.7,110.1 509.8,109.6 509.9,109.3 510.0,109.8 510.1,111.6 510.2,110.7 510.3,110.3 510.4,112.1 510.5,112.0 510.5,113.1 510.7,111.3 510.8,112.5 511.0,113.6 511.1,114.0 511.3,114.5 511.4,112.6 511.6,113.5 511.7,113.4 511.9,113.9 512.0,116.1 512.2,115.4 512.3,116.6 512.5,115.5 512.6,117.0 512.8,116.3 512.9,116.1 513.1,117.7 513.2,118.4 513.4,116.6 513.5,118.1 513.7,118.4 513.8,117.7 514.0,118.4 514.1,118.1 514.2,118.5 514.4,118.9 514.5,120.0 514.7,120.5 514.8,119.6 515.1,119.4 515.5,120.4 515.8,121.4 516.1,120.4 516.4,121.0 516.7,120.9 517.0,122.6 517.3,121.8 517.6,120.5 517.9,120.4 518.2,120.9 518.5,121.2 518.8,121.2 519.1,119.7 519.3,119.6 519.5,120.6 519.7,119.6 519.8,119.0 520.0,118.8 520.2,120.1 520.4,118.3 520.6,118.6 520.8,117.8 520.9,117.7 521.1,118.5 521.3,118.5 521.7,116.8 522.0,116.3 522.4,117.4 522.7,116.0 523.1,115.3 523.4,117.4 523.7,116.0 524.0,116.8 524.3,115.6 524.7,116.5 525.0,115.3 525.3,114.4 525.6,113.8 525.7,114.8 525.8,114.7 525.9,115.1 526.0,112.8 526.1,113.8 526.2,112.9 526.3,112.9 526.4,111.7 526.5,111.7 526.6,112.0 526.7,112.7 526.8,110.4 526.9,111.0 527.0,111.5 527.1,111.6 527.2,109.4 527.2,108.9 527.3,110.6 527.4,110.4 527.4,108.9 527.5,107.5 527.6,109.4 527.6,107.7 527.7,108.7 527.8,107.7 527.8,107.9 527.9,105.9 528.0,107.2 528.0,105.5 528.1,105.6 528.2,106.4 528.2,106.1 528.3,104.2 528.4,103.9 528.4,104.1 528.5,104.1 528.6,103.4 528.7,102.5 528.7,102.5 528.8,103.4 528.9,103.5 529.0,101.1 529.1,102.1 529.1,102.2 529.2,100.2 529.3,101.8 529.4,99.8 529.5,100.6 529.6,100.2 529.7,100.1 529.8,99.0 529.8,99.0 529.9,99.1 530.0,98.4 530.1,98.7 530.2,97.8 530.3,97.5 530.4,96.2 530.5,97.4 530.5,96.7 530.6,95.8 530.7,96.8 530.8,96.6 530.9,95.5 531.0,94.5 531.1,94.9 531.2,93.7 531.3,93.5 531.4,93.9 531.5,92.8 531.6,93.4 531.7,93.2 531.8,91.8 531.9,93.0 532.0,91.3 532.1,92.6 532.2,92.4 532.3,91.5 532.4,90.1 532.5,90.9 532.6,90.3 532.7,91.4 532.8,89.1 532.9,90.6 533.0,90.6 533.2,89.7 533.3,89.6 533.4,87.8 533.5,89.4 533.6,87.9 533.7,88.7 533.8,88.3 533.8,86.2 533.9,87.4 534.0,87.5 534.1,85.0 534.2,85.4 534.3,86.1 534.4,84.3 534.5,85.9 534.5,84.0 534.6,85.0 534.7,83.1 534.8,83.7 534.9,84.4 535.0,82.3 535.1,82.2 535.2,82.4 535.2,81.7 535.3,80.7 535.4,80.7 535.5,80.4 535.6,82.0 535.7,81.0 535.8,81.3 535.9,79.2 536.0,80.4 536.1,78.4 536.1,79.1 536.2,79.1 536.3,78.1 536.4,79.0 536.5,78.0 536.6,77.7 536.7,78.1 536.8,75.9 536.9,77.8 537.0,76.6 537.1,75.7 537.2,76.4 537.3,74.8 537.4,76.2 537.5,74.9 537.6,74.1 537.8,74.8 537.9,73.8 538.1,72.8 538.3,73.9 538.4,72.0 538.6,73.6 538.7,71.9 538.9,72.6 539.1,73.1 539.2,71.9 539.4,71.8 539.6,70.7 539.7,70.2 539.8,70.6 540.0,71.1 540.1,72.6 540.3,72.4 540.4,72.9 540.6,74.1 540.7,72.6 540.9,73.1 541.0,74.4 541.2,73.2 541.3,73.4 541.5,74.6 541.6,74.3 541.7,75.2 542.0,75.1 542.2,76.2 542.4,76.5 542.6,75.8 542.8,77.1 543.1,77.0 543.3,76.5 543.5,78.7 543.7,77.3 543.9,77.3 544.2,76.9 544.5,78.0 544.7,78.3 545.0,77.9 545.2,76.7 545.5,76.1 545.8,75.3 546.0,76.6 546.2,76.1 546.3,75.3 546.5,75.7 546.6,74.9 546.8,75.8 546.9,75.0 547.1,73.5 547.2,74.8 547.3,72.4 547.5,73.3 547.6,72.7 547.8,72.0 547.9,71.3 548.1,72.7 548.2,70.5 548.4,71.6 548.7,72.3 548.9,70.1 549.1,70.0 549.3,70.7 549.5,70.2 549.6,70.8 549.8,71.5 549.9,70.3 550.0,70.9 550.1,71.2 550.2,70.9 550.4,73.2 550.5,73.3 550.6,73.4 550.7,72.0 550.9,74.3 551.0,74.4 551.1,74.0 551.2,75.0 551.4,74.6 551.5,74.3 551.6,74.3 551.8,74.9 551.9,74.7 552.1,75.7 552.2,77.0 552.4,77.2 552.5,77.9 552.6,77.8 552.7,77.0 552.8,78.1 552.8,78.1 552.9,79.3 553.0,78.9 553.1,78.6 553.2,79.8 553.2,80.9 553.3,79.4 553.4,81.3 553.5,79.5 553.6,80.4 553.6,80.7 553.7,82.2 553.8,83.0 554.1,82.7 554.4,81.9 554.7,83.4 555.1,82.3 555.4,82.2 555.7,84.1 556.0,83.6 556.3,83.9 556.6,84.0 556.9,85.0 557.2,83.9 557.5,85.0 557.8,84.9 558.1,85.4 558.2,84.7 558.3,85.7 558.4,85.6 558.5,85.3 558.6,85.3 558.7,86.6 558.8,85.6 558.9,87.9 558.9,86.4 559.0,86.4 559.1,86.9 559.2,89.2 559.3,88.0 559.4,87.8 559.5,87.9 559.6,88.2 559.7,90.1 559.8,90.2 559.9,90.7 560.0,91.1 560.1,89.7 560.2,91.3 560.3,91.1 560.3,92.5 560.4,92.8 560.4,93.3 560.5,91.6 560.5,93.9 560.6,94.3 560.6,94.7 560.7,92.9 560.7,93.5 560.8,93.6 560.9,93.7 560.9,96.0 561.0,96.2 561.0,96.1 561.1,96.9 561.1,96.7 561.2,96.2 561.2,96.0 561.3,96.3 561.3,98.3 561.4,97.2 561.4,97.8 561.5,98.4 561.5,97.7 561.6,98.6 561.7,99.0 561.7,100.4 561.8,99.8 561.9,100.0 561.9,101.9 562.0,101.1 562.1,102.2 562.2,102.0 562.2,100.9 562.3,102.1 562.4,102.5 562.5,103.6 562.5,102.9 562.6,104.1 562.7,104.0 562.7,103.5 562.8,105.4 562.9,103.8 563.0,105.9 563.0,104.6 563.1,104.5 563.2,105.3 563.3,107.0 563.3,107.8 563.4,105.8 563.5,107.3 563.6,107.6 563.6,108.6 563.7,107.4 563.8,108.5 563.9,108.5 564.0,110.0 564.1,108.9 564.2,110.9 564.3,109.5 564.4,109.7 564.4,111.2 564.5,111.0 564.6,110.4 564.7,112.0 564.8,110.9 564.9,112.9 565.0,113.0 565.1,113.6 565.1,113.5 565.2,113.1 565.3,113.5 565.4,113.8 565.5,115.4 565.6,113.7 565.7,116.0 565.8,114.1 565.9,114.9 566.0,115.3 566.0,117.2 566.1,116.5 566.2,116.6 566.3,118.1 566.4,116.8 566.5,117.7 566.6,118.2 566.7,119.0 566.8,119.3 566.8,119.4 566.9,118.9 567.0,119.2 567.1,119.1 567.2,121.1 567.3,120.9 567.3,121.4 567.4,120.3 567.5,121.3 567.6,122.4 567.7,122.2 567.8,121.4 567.9,122.6 567.9,123.9 568.0,122.6 568.1,122.8 568.2,123.4 568.3,124.7 568.4,125.3 568.4,124.0 568.5,124.3 568.6,124.8 568.7,125.3 568.8,126.1 568.9,125.5 569.0,126.2 569.1,126.1 569.2,128.4 569.3,128.1 569.5,126.8 569.6,129.2 569.7,127.4 569.8,128.4 570.0,130.1 570.1,130.0 570.2,130.1 570.3,129.7 570.4,129.4 570.6,130.8 570.7,129.7 570.8,130.3 570.9,131.0 571.0,130.4 571.2,131.6 571.4,132.9 571.5,132.9 571.7,132.7 571.8,133.3 572.0,133.2 572.1,132.6 572.3,134.1 572.5,133.8 572.6,134.9 572.8,135.6 572.9,134.7 573.1,135.4 573.2,136.1 573.5,135.5 573.7,135.3 574.0,136.8 574.2,137.4 574.5,137.4 574.7,137.5 574.9,138.2 575.3,137.6 575.7,137.4 576.0,136.8 576.4,136.4 576.8,137.0 577.1,135.6 577.4,136.1 577.6,136.8 577.9,136.4 578.1,135.9 578.3,134.7 578.6,134.9 578.8,134.7 579.1,134.9 579.3,134.1 579.6,134.5 579.8,134.9 580.0,132.8 580.3,133.7 580.5,133.8 580.7,132.6 581.0,132.6 581.2,133.5 581.4,131.0 581.7,131.9 581.9,130.8 582.2,132.5 582.5,133.0 582.8,132.2 583.1,131.3 583.4,132.7 583.6,132.7 583.9,133.4 584.2,133.0 584.5,133.5 584.8,133.8 585.1,132.9 585.4,132.5 585.7,133.6 586.0,131.6 586.3,132.6 586.6,131.8 586.7,132.4 586.8,130.5 586.9,132.3 587.0,130.5 587.1,129.5 587.2,129.7 587.3,129.7 587.4,128.5 587.5,129.2 587.6,128.9 587.7,129.3 587.8,128.1 587.9,127.6 588.0,127.2 588.1,128.2 588.2,128.4 588.3,127.1 588.4,126.0 588.5,127.2 588.6,125.9 588.7,125.1 588.8,124.6 588.9,125.9 588.9,125.7 589.0,124.9 589.1,124.2 589.2,124.1 589.3,123.0 589.3,124.5 589.4,122.7 589.5,123.1 589.6,123.2 589.6,122.9 589.7,121.7 589.8,121.0 589.9,121.3 589.9,119.9 590.0,121.4 590.1,119.9 590.2,120.8 590.3,119.1 590.3,119.0 590.4,118.4 590.5,118.5 590.6,117.6 590.7,116.9 590.8,118.3 590.9,116.9 591.0,116.5 591.1,116.4 591.2,116.5 591.3,116.1 591.5,116.3 591.6,116.0 591.7,115.0 591.8,116.1 592.1,115.7 592.3,113.5 592.6,115.2 592.9,115.1 593.2,114.6 593.4,112.8 593.7,114.3 594.0,113.6 594.1,111.8 594.3,111.4 594.4,113.4 594.5,112.4 594.7,111.1 594.8,110.4 595.0,110.2 595.1,110.1 595.2,111.2 595.4,109.8 595.5,109.0 595.7,110.6 595.8,110.0 595.9,108.2 596.0,109.6 596.1,108.6 596.2,108.8 596.3,108.2 596.4,108.5 596.5,107.9 596.6,107.7 596.7,105.8 596.8,106.8 596.9,106.1 597.0,106.3 597.1,105.3 597.2,106.0 597.3,104.9 597.4,103.9 597.5,103.6 597.5,103.0 597.6,103.6 597.7,102.2 597.7,102.9 597.8,101.8 597.9,102.3 597.9,102.0 598.0,101.8 598.1,102.3 598.2,99.9 598.2,101.6 598.3,100.4 598.4,100.3 598.4,100.3 598.5,100.4 598.5,98.9 598.6,98.7 598.7,99.7 598.7,97.3 598.8,98.3 598.9,98.0 598.9,96.2 599.0,97.3 599.0,97.2 599.1,97.5 599.2,95.7 599.2,97.0 599.3,95.5 599.4,95.1 599.4,95.8 599.5,93.4 599.6,94.8 599.6,94.2 599.7,93.2 599.7,94.2 599.8,92.7 599.9,92.6 599.9,92.4 600.0,92.7 600.1,91.0 600.1,91.3 600.2,91.0 600.3,91.0 600.4,91.3 600.4,89.7 600.5,90.7 600.6,89.4 600.7,89.3 600.7,88.5 600.8,88.7 600.9,89.6 600.9,88.5 601.0,88.5 601.1,87.1 601.2,86.8 601.2,86.4 601.3,86.8 601.4,86.6 601.5,86.7 601.5,84.6 601.7,86.0 601.8,86.1 601.9,84.9 602.0,83.4 602.1,83.8 602.2,82.7 602.4,82.9 602.5,84.4 602.6,83.3 602.7,83.2 602.8,83.2 602.9,83.2 603.0,82.2 603.2,81.9 603.4,81.7 603.5,81.6 603.7,81.0 603.9,81.0 604.0,79.5 604.2,80.4 604.3,79.6 604.5,80.1 604.7,78.1 604.8,78.1 605.0,77.4 605.3,79.0 605.5,79.0 605.7,78.1 605.9,77.1 606.1,77.9 606.3,77.6 606.5,76.7 606.8,75.7 607.0,75.5 607.3,75.5 607.5,75.0 607.7,75.0 608.0,75.3 608.2,75.7 608.3,73.2 608.4,74.2 608.4,72.6 608.5,72.4 608.6,73.8 608.7,72.9 608.7,73.4 608.8,72.0 608.9,70.6 608.9,71.2 609.0,71.4 609.1,71.9 609.2,71.7 609.2,70.1 609.3,69.7 609.4,68.6 609.4,69.6 609.5,68.2 609.7,67.8 609.8,67.1 609.9,66.8 610.0,68.2 610.2,66.5 610.3,68.2 610.4,65.8 610.6,67.4 610.7,65.3 610.8,64.7 611.2,66.3 611.5,65.0 611.9,66.1 612.3,64.6 612.6,64.1 612.7,66.2 612.9,66.4 613.0,67.0 613.1,67.0 613.3,65.7 613.4,67.3 613.5,67.8 613.6,67.5 613.8,68.9 613.9,67.5 614.0,69.6 614.1,69.3 614.2,67.9 614.2,68.2 614.3,70.1 614.4,70.8 614.5,69.3 614.6,70.2 614.6,71.5 614.7,70.4 614.8,72.5 614.9,71.9 615.0,71.1 615.0,72.2 615.1,73.0 615.2,73.0 615.3,73.9 615.5,72.8 615.6,74.7 615.8,74.0 615.9,74.9 616.1,75.2 616.2,74.9 616.3,75.1 616.5,76.4 616.6,77.1 616.8,77.0 616.9,76.7 617.1,75.8 617.3,75.0 617.6,77.0 617.8,76.1 618.0,76.2 618.2,74.7 618.5,75.1 618.7,75.8 619.0,75.2 619.2,74.4 619.5,73.4 619.7,73.4 620.0,74.3 620.1,73.3 620.3,74.4 620.4,74.5 620.6,75.5 620.7,75.6 620.8,74.6 621.0,74.2 621.1,75.1 621.3,75.8 621.4,76.5 621.5,77.4 621.7,77.9 621.8,76.1 621.8,78.3 621.9,78.6 622.0,79.0 622.1,78.6 622.2,78.2 622.2,79.9 622.3,80.1 622.4,80.1 622.5,81.0 622.5,79.9 622.6,79.5 622.7,81.0 622.8,81.9 622.9,80.7 622.9,82.4 623.0,83.1 623.1,81.7 623.2,82.9 623.3,83.4 623.3,83.2 623.4,82.9 623.5,83.3 623.6,84.8 623.7,85.2 623.7,84.7 623.8,84.1 623.9,86.2 624.0,86.4 624.0,85.4 624.1,86.6 624.2,87.7 624.3,87.9 624.3,87.4 624.4,87.6 624.5,88.1 624.6,87.5 624.6,87.8 624.7,88.1 624.8,89.7 624.9,89.1 625.0,89.9 625.1,89.8 625.2,90.4 625.3,89.8 625.4,89.9 625.6,92.5 625.7,91.3 625.8,90.9 625.9,92.5 626.0,93.2 626.1,91.9 626.2,93.3 626.4,93.0 626.5,93.7 626.8,92.7 627.1,92.9 627.4,95.5 627.7,95.4 628.0,94.6 628.3,95.0 628.6,94.5 628.9,96.0 629.2,95.4 629.5,96.9 629.6,96.8 629.7,97.2 629.8,97.9 629.9,96.4 630.0,96.2 630.1,96.9 630.2,97.2 630.3,97.3 630.4,97.5 630.5,99.0 630.7,100.1 630.7,99.4 630.8,100.9 630.8,101.2 630.9,99.4 630.9,101.0 631.0,100.9 631.0,100.5 631.1,102.9 631.2,101.5 631.2,102.6 631.3,103.1 631.3,104.1 631.4,103.8 631.4,103.4 631.5,103.9 631.5,103.5 631.6,105.8 631.7,106.1 631.8,104.6 631.9,104.4 632.0,105.3 632.0,105.8 632.1,107.5 632.2,107.8 632.3,108.0 632.4,106.3 632.5,108.5 632.5,108.6 632.6,108.8 632.7,109.9 632.8,107.9 632.9,108.5 632.9,110.3 633.1,111.0 633.3,110.6 633.5,110.0 633.7,111.0 633.9,111.6 634.1,110.3 634.2,111.1 634.4,111.2 634.6,111.2 634.8,112.3 635.0,111.8 635.2,112.2 635.4,112.3 635.5,113.9 635.7,112.5 635.9,114.5 636.2,113.5 636.4,113.4 636.6,115.8 636.8,114.4 637.0,116.4 637.2,116.5 637.4,116.8 637.6,115.2 637.8,116.3 638.0,115.7 638.2,118.0 638.4,118.0 638.6,117.8 638.8,117.6 639.0,117.6 639.2,119.1 639.4,118.5 639.5,119.2 639.7,118.3 639.9,118.7 640.1,118.6 640.3,120.5 640.5,120.4 640.6,119.6 640.8,121.7 641.0,120.5 641.4,121.0 641.7,120.6 642.1,121.0 642.4,122.6 642.7,121.1 642.9,120.5 643.2,121.0 643.5,120.3 643.7,121.5 644.0,119.3 644.1,121.1 644.3,118.6 644.4,120.3 644.5,119.5 644.6,118.0 644.8,118.4 644.9,117.6 645.0,117.2 645.1,116.8 645.3,116.9 645.4,118.1 645.5,117.8 645.6,117.4 645.8,115.0 645.9,115.2 646.0,116.4 646.1,114.0 646.3,115.4 646.4,114.0 646.5,115.4 646.6,112.7 646.8,114.4 646.9,112.9 647.0,112.1 647.1,111.5 647.2,113.3 647.4,112.2 647.5,111.1 647.6,111.4 647.7,112.3 647.9,110.3 648.0,110.8 648.1,109.5 648.2,109.3 648.3,110.4 648.4,110.0 648.5,108.4 648.6,107.8 648.7,107.5 648.8,108.5 648.9,107.9 649.0,107.1 649.1,106.6 649.2,107.3 649.3,107.2 649.4,107.2 649.5,106.3 649.6,105.1 649.7,104.4 649.8,105.8 649.9,104.7 650.0,105.1 650.1,103.2 650.2,104.8 650.3,103.3 650.4,104.2 650.5,104.0 650.6,102.7 650.7,101.3 650.8,103.1 650.9,101.8 651.0,102.4 651.1,100.6 651.2,100.1 651.3,101.4 651.4,99.9 651.5,99.1 651.6,99.3 651.7,99.6 651.8,97.8 651.9,98.8 652.0,98.3 652.0,98.2 652.1,96.9 652.2,98.0 652.3,98.0 652.4,97.8 652.5,96.1 652.5,96.8 652.6,95.7 652.7,96.3 652.8,94.3 652.9,96.0 653.0,95.9 653.1,94.4 653.1,94.2 653.2,93.9 653.3,93.6 653.4,92.0 653.5,94.0 653.6,91.9 653.6,91.5 653.7,91.0 653.8,91.0 653.9,92.1 654.0,89.8 654.0,89.7 654.1,90.8 654.2,89.3 654.3,88.5 654.4,89.6 654.4,89.3 654.5,88.8 654.6,88.9 654.7,87.1 654.8,88.7 654.8,88.0 654.9,86.1 654.9,86.0 655.0,86.6 655.0,86.3 655.1,85.4 655.1,84.7 655.2,85.1 655.2,84.1 655.3,85.0 655.3,85.3 655.4,83.2 655.4,84.0 655.5,84.1 655.5,82.4 655.6,83.7 655.6,83.7 655.7,82.0 655.7,81.8 655.8,82.5 655.9,81.4 656.1,80.8 656.2,81.9 656.4,81.2 656.5,79.8 656.7,79.3 656.7,79.2 656.8,79.1 656.8,80.2 656.9,79.4 656.9,79.4 656.9,78.9 657.0,78.6 657.0,76.4 657.1,77.2 657.1,78.0 657.2,77.6 657.2,75.6 657.3,75.8 657.3,76.0 657.4,75.0 657.4,75.1 657.5,73.7 657.5,74.9 657.5,75.4 657.6,74.5 657.6,75.1 657.6,77.4 657.7,77.3 657.7,78.0 657.7,77.5 657.8,78.3 657.8,78.8 657.8,79.1 657.9,77.3 657.9,79.1 657.9,78.5 658.0,79.8 658.0,79.2 658.0,80.1 658.1,81.4 658.1,80.3 658.1,79.1 658.2,79.4 658.2,78.9 658.3,79.9 658.3,77.9 658.4,77.7 658.4,78.2 658.4,76.6 658.5,77.4 658.5,78.0 658.6,76.6 658.6,75.7 658.6,75.9 658.7,75.7 658.7,74.5 658.8,74.1 658.8,73.8 658.9,73.9 658.9,74.5 659.0,74.5 659.0,74.7 659.1,74.6 659.1,76.0 659.2,77.1 659.2,76.8 659.3,77.0 659.3,77.5 659.4,76.7 659.4,78.3 659.5,78.0 659.5,78.5 659.6,79.0 659.6,78.9 659.7,78.8 659.7,78.3 659.8,78.0 659.8,78.4 659.8,77.8 659.9,78.0 659.9,76.2 660.0,76.8 660.0,77.7 660.1,75.9 660.1,76.3 660.2,75.9 660.2,75.0 660.3,76.5 660.3,74.5 660.4,75.3 660.4,73.5 660.5,73.0 660.5,75.2 660.6,74.5 660.6,73.9 660.7,75.0 660.8,75.4 660.8,76.5 660.9,75.2 660.9,75.8 661.0,77.9 661.1,77.7 661.1,76.6 661.2,77.3 661.3,77.7 661.3,78.2 661.4,77.7 661.4,78.0 661.5,77.6 661.5,76.6 661.6,76.8 661.7,76.5 661.7,76.2 661.8,75.2 661.8,75.7 661.9,75.2 661.9,75.4 662.0,73.2 662.0,74.7 662.1,72.9 662.2,75.1 662.3,74.9 662.4,75.0 662.5,76.5 662.6,75.9 662.7,75.8 662.8,77.0 662.8,77.6 662.9,76.6 663.0,75.7 663.1,75.5 663.2,75.2 663.3,75.5 663.4,74.2 663.5,74.1 663.6,74.1 663.6,73.4 663.8,73.5 663.9,75.0 664.0,75.4 664.2,74.9 664.3,75.0 664.4,74.7 664.5,75.3 664.7,74.6 664.8,75.4 665.0,75.1 665.1,73.6 665.3,75.3 665.4,73.6 665.5,75.2 665.6,75.5 665.7,76.1 665.8,74.5 665.9,75.4 666.0,76.9 666.1,75.0 666.2,75.4 666.3,76.9 666.4,77.1 666.6,78.4 666.7,78.4 666.8,78.1 666.9,79.5 667.0,78.6 667.2,78.9 667.3,79.6 667.4,79.2 667.5,79.4 667.6,80.3 667.7,80.0 667.8,81.8 667.9,81.5 667.9,81.4 668.0,80.7 668.1,81.7 668.2,82.1 668.2,82.8 668.3,83.2 668.5,83.6 668.6,83.5 668.8,82.0 669.0,81.6 669.1,81.7 669.2,82.9 669.2,81.6 669.3,82.4 669.3,83.4 669.4,82.2 669.4,82.8 669.5,84.8 669.6,84.7 669.6,84.3 669.7,83.6 669.7,85.8 669.8,85.7 669.8,86.3 669.9,87.0 669.9,87.1 670.1,85.7 670.3,84.8 670.5,84.8 670.7,85.1 670.8,85.4 670.8,84.9 670.9,85.2 670.9,86.7 671.0,86.9 671.1,86.6 671.1,88.5 671.2,87.9 671.2,86.8 671.3,88.0 671.3,89.2 671.4,88.4 671.5,89.6 671.5,88.3 671.7,89.3 671.8,91.0 672.0,90.7 672.2,91.2 672.3,90.4 672.4,91.4 672.6,91.8 672.7,91.4 672.8,92.7 673.0,92.7 673.1,94.1 673.2,93.4 673.4,93.2 673.5,92.8 673.6,93.2 673.7,95.0 673.9,93.7 674.0,93.9 674.1,94.4 674.3,95.6 674.4,96.6 674.5,96.4 674.6,97.2 674.8,95.7 674.9,95.8 675.0,98.0 675.1,97.2 675.3,98.5 675.4,97.9 675.5,97.7 675.7,98.3 675.8,98.2 675.9,100.5 676.1,99.9 676.3,99.6 676.5,100.1 676.6,100.2 676.8,99.7 677.0,101.1" fill="none" stroke="#e62b31" stroke-width="3.8" stroke-linejoin="round" stroke-linecap="round"/>
<line x1="403.1" y1="97.9" x2="677" y2="97.9" stroke="rgb(80,138,192)" stroke-opacity="0.75" stroke-width="3.3" stroke-dasharray="13.75 13.75"/>
<path d="M403.1 341.2V338.45M403.1 224.1V226.85M457.88 341.2V338.45M457.88 224.1V226.85M512.66 341.2V338.45M512.66 224.1V226.85M567.44 341.2V338.45M567.44 224.1V226.85M622.22 341.2V338.45M622.22 224.1V226.85M677 341.2V338.45M677 224.1V226.85M403.1 341.2H405.85M677 341.2H674.25M403.1 302.2H405.85M677 302.2H674.25M403.1 263.1H405.85M677 263.1H674.25M403.1 224.1H405.85M677 224.1H674.25" stroke="#262626" stroke-width="1" fill="none"/>
<rect x="403.1" y="224.1" width="273.9" height="117.1" fill="none" stroke="#262626" stroke-width="1.15"/>
<text transform="translate(395.6,346.8) scale(0.91,1)" font-size="17.5" text-anchor="end">0</text>
<text transform="translate(395.6,307.8) scale(0.91,1)" font-size="17.5" text-anchor="end">1</text>
<text transform="translate(395.6,268.7) scale(0.91,1)" font-size="17.5" text-anchor="end">2</text>
<text transform="translate(395.6,229.7) scale(0.91,1)" font-size="17.5" text-anchor="end">3</text>
<text transform="translate(403.1,363.9) scale(0.91,1)" font-size="17.5" text-anchor="middle">0</text>
<text transform="translate(457.88,363.9) scale(0.91,1)" font-size="17.5" text-anchor="middle">10</text>
<text transform="translate(512.66,363.9) scale(0.91,1)" font-size="17.5" text-anchor="middle">20</text>
<text transform="translate(567.44,363.9) scale(0.91,1)" font-size="17.5" text-anchor="middle">30</text>
<text transform="translate(622.22,363.9) scale(0.91,1)" font-size="17.5" text-anchor="middle">40</text>
<text transform="translate(677,363.9) scale(0.91,1)" font-size="17.5" text-anchor="middle">50</text>
<path d="M405.8 212.3L413.6 220.3M405.8 220.3L413.6 212.3" stroke="#262626" stroke-width="0.95" fill="none"/>
<text x="417.9" y="220" font-size="17.9" textLength="14.3" lengthAdjust="spacingAndGlyphs">10</text>
<text x="434" y="211.4" font-size="14">5</text>
<polyline points="402.9,291.4 403.2,291.1 403.5,292.6 403.8,291.3 404.1,292.7 404.4,292.5 404.7,291.8 405.0,293.2 405.3,292.2 405.6,293.4 405.8,292.7 405.9,293.1 406.1,294.3 406.3,295.7 406.5,294.1 406.6,294.7 406.8,296.1 407.0,297.2 407.2,296.6 407.4,296.4 407.5,298.2 407.7,296.1 407.9,298.6 408.1,297.3 408.3,297.2 408.5,297.5 408.7,298.2 408.9,299.9 409.1,298.5 409.3,299.8 409.5,300.2 409.7,299.8 410.0,300.1 410.4,298.7 410.8,298.5 411.1,298.7 411.5,299.8 411.6,298.8 411.8,298.2 412.0,298.6 412.1,298.0 412.3,297.3 412.5,298.3 412.6,297.7 412.8,296.2 412.9,296.8 413.1,296.4 413.3,297.0 413.4,296.3 413.6,294.8 413.8,296.3 414.0,293.7 414.2,294.2 414.3,294.8 414.5,292.8 414.7,293.4 414.9,291.9 415.1,293.3 415.3,293.2 415.6,292.4 415.8,292.9 416.1,291.2 416.3,291.9 416.6,291.4 416.9,291.0 417.2,290.8 417.6,292.0 418.0,292.4 418.3,291.3 418.7,291.9 419.0,290.4 419.3,291.8 419.6,291.4 419.8,292.0 420.1,291.3 420.3,289.6 420.6,289.6 420.8,290.0 420.9,288.0 421.0,288.8 421.0,287.7 421.1,287.3 421.1,286.8 421.2,288.3 421.2,286.3 421.3,286.3 421.3,286.3 421.4,287.2 421.4,284.8 421.5,285.5 421.6,285.4 421.7,285.9 421.8,285.4 421.8,285.2 421.9,283.4 422.0,283.4 422.1,282.9 422.2,284.0 422.2,283.8 422.4,281.4 422.5,281.1 422.6,281.0 422.7,280.6 422.8,281.0 423.0,280.9 423.1,279.8 423.2,278.7 423.3,279.5 423.4,279.1 423.6,279.3 423.7,280.0 423.8,279.0 423.9,278.2 424.0,278.1 424.3,278.0 424.6,276.1 424.9,278.1 425.1,277.5 425.4,277.5 425.7,277.0 425.9,275.7 426.2,275.5 426.5,274.5 426.7,275.6 427.0,273.9 427.2,273.6 427.5,273.8 427.8,273.4 428.0,273.6 428.3,272.6 428.5,272.3 428.7,272.3 428.8,271.9 428.9,272.2 429.1,271.0 429.2,272.9 429.4,271.9 429.5,270.4 429.7,270.3 429.8,270.2 429.9,270.0 430.0,269.0 430.2,270.6 430.3,270.7 430.4,268.9 430.5,268.7 430.6,267.3 430.7,267.0 430.9,267.3 431.0,266.8 431.1,268.0 431.2,265.9 431.3,265.2 431.4,267.3 431.5,265.9 431.6,264.6 431.7,265.3 431.9,263.6 432.0,264.7 432.1,265.5 432.2,264.9 432.3,264.2 432.4,262.7 432.5,262.7 432.8,261.8 433.0,263.2 433.3,262.2 433.5,262.6 433.8,261.1 434.0,260.6 434.3,261.9 434.7,262.4 435.0,262.2 435.4,262.2 435.7,262.4 436.1,262.3 436.3,261.3 436.4,262.4 436.6,262.2 436.7,261.7 436.9,262.0 437.1,263.0 437.2,263.2 437.4,264.7 437.6,265.7 437.7,264.6 437.9,266.2 438.2,266.6 438.4,266.7 438.7,265.3 439.0,265.2 439.3,265.4 439.4,265.0 439.6,264.7 439.7,265.5 439.9,266.0 440.1,265.5 440.2,264.2 440.4,264.4 440.5,264.5 440.7,262.3 441.0,263.7 441.3,264.2 441.6,263.7 441.9,263.5 442.2,262.6 442.6,261.6 442.9,263.1 443.3,261.9 443.6,263.1 444.0,263.5 444.4,261.9 444.8,261.9 445.2,263.3 445.5,262.7 445.9,261.2 446.3,261.0 446.7,261.0 447.1,262.9 447.2,262.4 447.4,260.3 447.5,261.8 447.7,262.0 447.8,260.8 448.0,259.7 448.1,259.9 448.3,258.5 448.4,257.9 448.6,260.1 448.7,259.0 448.8,258.4 449.2,259.3 449.5,257.8 449.8,258.8 450.1,258.5 450.4,257.2 450.6,257.6 450.8,258.0 451.0,258.1 451.3,259.3 451.5,258.8 451.7,259.5 451.9,259.0 452.1,261.4 452.2,260.2 452.4,260.8 452.5,261.5 452.7,262.7 452.8,261.7 453.0,263.3 453.1,262.6 453.3,263.0 453.4,263.3 453.6,262.3 453.7,263.7 453.9,263.3 454.0,263.2 454.2,265.6 454.3,264.2 454.5,265.4 454.6,266.3 454.8,266.2 454.9,265.9 455.1,266.7 455.2,267.1 455.4,268.1 455.5,266.6 455.7,268.1 455.8,267.6 456.0,268.0 456.1,269.6 456.3,269.3 456.4,269.7 456.6,270.6 456.7,271.3 456.9,270.4 457.0,271.1 457.2,271.2 457.3,271.5 457.5,272.3 457.6,272.0 457.7,272.6 457.9,272.7 458.0,274.3 458.1,274.0 458.3,274.8 458.4,275.3 458.6,273.8 458.7,274.9 458.8,276.3 459.0,276.3 459.1,274.8 459.2,275.1 459.3,276.3 459.4,275.6 459.4,276.4 459.5,276.3 459.6,278.2 459.7,278.8 459.8,279.5 459.8,277.8 459.9,279.6 460.0,279.8 460.1,278.8 460.2,281.1 460.2,281.6 460.3,280.0 460.4,282.3 460.5,281.1 460.6,281.7 460.6,283.4 460.7,283.3 460.8,281.9 460.9,282.9 461.0,283.5 461.1,283.4 461.1,283.3 461.2,284.0 461.3,285.4 461.4,283.9 461.5,285.6 461.5,285.7 461.6,284.9 461.7,286.0 461.8,287.2 461.8,287.2 461.9,286.4 462.0,289.1 462.1,288.9 462.1,289.8 462.2,287.8 462.3,288.6 462.3,288.3 462.4,290.6 462.5,289.6 462.6,289.6 462.6,290.7 462.7,292.3 462.8,292.4 462.8,291.3 462.9,291.3 463.0,293.7 463.0,293.1 463.1,293.8 463.2,292.5 463.3,292.7 463.3,294.7 463.4,294.4 463.5,293.8 463.5,296.4 463.6,295.9 463.7,296.7 463.7,295.1 463.8,297.5 463.9,295.8 464.0,298.2 464.0,297.4 464.1,297.5 464.2,298.4 464.2,299.7 464.3,298.3 464.4,298.3 464.4,299.7 464.5,299.2 464.5,299.2 464.6,299.7 464.7,299.7 464.7,300.5 464.8,301.1 464.9,301.4 464.9,303.0 465.0,302.1 465.3,302.8 465.6,302.2 465.9,302.9 466.2,302.2 466.5,303.1 466.8,302.7 466.9,304.2 467.0,303.4 467.1,302.2 467.3,302.6 467.4,303.5 467.5,301.0 467.6,302.5 467.7,301.2 467.9,301.0 468.0,301.6 468.1,300.1 468.1,300.1 468.2,300.2 468.3,300.6 468.4,298.6 468.4,299.6 468.5,298.9 468.6,298.4 468.7,297.4 468.8,296.9 468.8,295.8 468.9,295.7 469.0,295.2 469.1,297.3 469.2,296.3 469.3,296.4 469.4,296.5 469.5,298.8 469.7,299.3 469.8,299.1 469.9,298.4 470.0,297.9 470.1,297.7 470.2,297.8 470.2,296.7 470.3,297.1 470.4,296.3 470.5,297.8 470.6,297.4 470.7,296.0 470.8,294.8 470.9,296.4 471.0,295.0 471.0,295.5 471.1,294.8 471.2,296.2 471.3,296.8 471.4,297.2 471.4,296.7 471.5,297.9 471.6,296.9 471.7,297.9 471.8,297.8 471.9,298.2 471.9,296.9 472.0,296.5 472.1,296.9 472.2,296.4 472.3,297.0 472.4,296.5 472.4,296.7 472.5,296.1 472.6,296.0 472.7,296.0 472.8,294.4 472.9,294.6 473.1,296.6 473.2,294.7 473.4,296.6 473.6,296.7 473.7,295.4 473.9,297.8 473.9,297.7 474.0,296.6 474.0,296.6 474.1,296.4 474.2,294.3 474.2,295.0 474.3,294.6 474.3,295.1 474.4,294.7 474.4,294.4 474.5,293.5 474.6,294.0 474.6,293.1 474.7,292.8 474.7,291.2 474.8,290.3 474.8,290.3 474.9,290.5 474.9,289.5 475.0,291.1 475.0,290.0 475.1,289.9 475.1,289.5 475.2,289.3 475.2,288.5 475.3,286.9 475.4,288.6 475.4,288.2 475.5,287.2 475.5,286.9 475.6,286.9 475.6,285.0 475.6,286.4 475.6,284.8 475.7,284.0 475.7,284.2 475.7,285.1 475.7,283.3 475.8,284.4 475.8,284.7 475.8,283.1 475.8,282.4 475.9,282.3 475.9,282.5 475.9,282.4 476.0,281.7 476.0,281.4 476.0,279.6 476.0,279.4 476.1,279.4 476.1,280.3 476.1,278.8 476.1,279.2 476.2,277.4 476.2,277.2 476.2,277.4 476.3,278.1 476.3,277.8 476.3,277.5 476.4,276.1 476.4,276.4 476.4,275.9 476.4,275.6 476.5,274.3 476.5,276.0 476.5,273.9 476.6,275.6 476.6,275.1 476.6,272.4 476.7,273.2 476.7,273.8 476.7,273.9 476.8,272.2 476.8,271.4 476.8,270.9 476.9,272.5 476.9,270.2 476.9,270.9 477.0,269.4 477.0,270.1 477.0,270.9 477.1,268.4 477.1,269.8 477.2,268.7 477.2,269.3 477.3,268.5 477.3,266.9 477.4,268.3 477.5,266.9 477.5,265.4 477.6,265.0 477.6,265.9 477.7,265.5 477.8,264.7 477.8,264.0 477.9,264.2 477.9,263.8 478.0,264.8 478.0,262.3 478.1,263.9 478.2,263.8 478.2,261.6 478.3,263.4 478.3,262.5 478.4,262.6 478.5,260.7 478.5,260.5 478.5,260.3 478.6,261.5 478.6,260.1 478.7,259.2 478.7,259.0 478.8,258.3 478.8,257.3 478.9,257.2 478.9,258.8 478.9,257.0 479.0,258.4 479.0,256.2 479.1,255.9 479.1,256.2 479.2,255.0 479.2,255.2 479.3,256.4 479.3,255.9 479.3,255.3 479.4,254.5 479.5,255.0 479.6,254.7 479.7,253.4 479.8,253.5 479.9,251.4 480.0,252.9 480.1,251.8 480.2,252.3 480.2,251.7 480.3,250.4 480.4,249.4 480.5,251.4 480.6,249.0 480.7,249.6 480.8,248.9 480.9,248.5 481.0,249.3 481.1,249.6 481.1,247.4 481.2,248.1 481.3,246.8 481.4,247.2 481.5,246.4 481.6,245.5 481.7,245.1 481.7,244.9 481.8,246.4 481.9,245.0 482.0,244.0 482.1,245.5 482.2,245.4 482.3,243.6 482.3,242.4 482.5,242.3 482.6,241.7 482.8,242.1 483.0,241.1 483.1,241.2 483.3,241.0 483.4,241.5 483.6,242.0 483.7,241.4 483.9,240.2 484.0,239.9 484.2,239.9 484.4,239.2 484.6,238.8 484.7,237.8 484.9,238.1 485.1,239.6 485.2,237.1 485.4,237.8 485.6,237.8 485.8,238.1 485.9,236.1 486.0,236.0 486.1,235.6 486.2,235.6 486.3,235.4 486.3,236.4 486.4,235.8 486.5,235.5 486.6,233.0 486.7,232.6 486.7,234.1 486.8,234.3 487.0,232.8 487.1,232.8 487.3,231.0 487.4,231.7 487.5,232.8 487.7,232.2 487.8,232.0 488.2,232.3 488.5,230.3 488.9,229.9 489.3,230.0 489.6,230.9 490.0,231.4 490.3,232.2 490.7,231.7 491.1,231.6 491.4,232.0 491.7,231.4 492.1,231.9 492.4,230.8 492.6,233.0 492.9,231.8 493.1,233.9 493.4,233.5 493.6,232.9 493.9,232.7 494.1,233.3 494.3,234.6 494.5,235.1 494.7,233.8 494.9,234.0 495.1,235.4 495.3,235.9 495.5,235.7 495.7,235.5 496.0,236.8 496.2,235.5 496.4,236.6 496.6,237.3 496.8,238.9 497.0,238.3 497.2,239.2 497.3,238.5 497.4,238.2 497.5,238.5 497.6,240.7 497.7,240.4 497.8,239.6 497.9,239.2 498.0,240.8 498.1,241.6 498.2,241.2 498.4,241.1 498.5,242.5 498.6,243.5 498.7,242.0 498.8,241.8 498.9,243.0 499.0,243.5 499.1,244.5 499.2,243.6 499.3,245.5 499.4,245.7 499.5,245.4 499.6,244.9 499.7,247.3 499.8,245.9 499.9,247.5 500.0,246.3 500.1,246.6 500.2,248.4 500.3,247.5 500.4,249.5 500.5,248.7 500.6,248.2 500.7,248.6 500.8,249.4 500.9,250.4 501.0,251.5 501.1,249.7 501.2,250.7 501.3,250.5 501.4,252.8 501.5,251.0 501.6,251.1 501.7,251.4 501.9,252.6 502.0,254.3 502.1,254.6 502.2,254.5 502.3,255.5 502.4,255.7 502.5,254.4 502.5,254.3 502.6,256.7 502.7,256.5 502.8,254.9 502.8,256.9 502.9,256.5 503.0,256.8 503.1,257.0 503.2,256.9 503.2,256.8 503.3,257.9 503.4,258.4 503.5,260.3 503.5,258.4 503.6,261.0 503.7,259.3 503.8,260.0 503.9,261.6 503.9,261.9 504.0,261.2 504.1,260.5 504.2,262.0 504.2,262.1 504.3,263.8 504.4,262.3 504.5,263.0 504.6,264.8 504.7,262.8 504.7,264.2 504.8,265.5 504.9,265.8 505.0,264.2 505.1,264.5 505.1,264.9 505.2,267.5 505.3,266.1 505.4,267.7 505.5,268.4 505.5,267.3 505.6,267.4 505.7,269.6 505.8,269.0 505.9,268.4 506.0,269.9 506.0,269.2 506.1,269.4 506.2,269.1 506.3,271.4 506.4,272.1 506.4,271.7 506.5,272.9 506.5,270.8 506.6,271.7 506.6,272.6 506.7,274.3 506.7,274.6 506.8,273.4 506.8,273.4 506.9,274.2 507.0,274.7 507.0,276.2 507.1,274.6 507.1,276.6 507.2,276.7 507.2,277.3 507.3,277.5 507.3,277.4 507.4,277.0 507.4,277.3 507.5,277.8 507.5,279.2 507.6,277.7 507.7,278.3 507.7,280.1 507.8,279.1 507.8,279.0 507.9,279.2 507.9,280.9 508.0,280.6 508.0,282.7 508.1,282.8 508.1,283.4 508.2,281.8 508.2,281.6 508.3,282.0 508.3,283.4 508.4,284.3 508.4,283.9 508.5,283.7 508.5,284.5 508.6,285.4 508.6,285.8 508.7,286.4 508.7,286.9 508.8,286.8 508.8,285.7 508.9,287.9 509.0,286.8 509.0,287.8 509.1,287.7 509.2,289.0 509.3,287.9 509.4,288.3 509.5,288.7 509.6,288.8 509.7,291.0 509.8,290.5 509.9,290.2 510.0,290.7 510.1,292.6 510.2,291.7 510.3,291.3 510.4,293.1 510.5,293.1 510.5,294.3 510.7,292.3 510.8,293.6 511.0,294.8 511.1,295.2 511.3,295.7 511.4,293.7 511.6,294.7 511.7,294.6 511.9,295.1 512.0,297.5 512.2,296.8 512.3,298.0 512.5,296.9 512.6,298.5 512.8,297.7 512.9,297.5 513.1,299.2 513.2,299.9 513.4,298.0 513.5,299.6 513.7,299.9 513.8,299.2 514.0,299.9 514.1,299.6 514.2,300.1 514.4,300.5 514.5,301.7 514.7,302.1 514.8,301.3 515.1,301.0 515.5,302.0 515.8,303.2 516.1,302.1 516.4,302.7 516.7,302.6 517.0,304.4 517.3,303.6 517.6,302.1 517.9,302.1 518.2,302.7 518.5,302.9 518.8,303.0 519.1,301.3 519.3,301.2 519.5,302.3 519.7,301.3 519.8,300.6 520.0,300.4 520.2,301.8 520.4,299.8 520.6,300.1 520.8,299.3 520.9,299.1 521.1,300.0 521.3,300.1 521.7,298.2 522.0,297.6 522.4,298.9 522.7,297.3 523.1,296.7 523.4,298.9 523.7,297.4 524.0,298.2 524.3,296.9 524.7,298.0 525.0,296.6 525.3,295.6 525.6,295.0 525.7,296.1 525.8,296.0 525.9,296.4 526.0,293.9 526.1,295.0 526.2,294.0 526.3,294.0 526.4,292.7 526.5,292.8 526.6,293.1 526.7,293.8 526.8,291.3 526.9,292.0 527.0,292.5 527.1,292.6 527.2,290.3 527.2,289.7 527.3,291.6 527.4,291.3 527.4,289.7 527.5,288.2 527.6,290.2 527.6,288.5 527.7,289.5 527.8,288.4 527.8,288.6 527.9,286.6 528.0,287.9 528.0,286.1 528.1,286.2 528.2,287.1 528.2,286.7 528.3,284.6 528.4,284.4 528.4,284.6 528.5,284.5 528.6,283.9 528.7,282.8 528.7,282.8 528.8,283.8 528.9,283.9 529.0,281.3 529.1,282.4 529.1,282.6 529.2,280.3 529.3,282.1 529.4,279.9 529.5,280.9 529.6,280.4 529.7,280.3 529.8,279.1 529.8,279.1 529.9,279.2 530.0,278.5 530.1,278.7 530.2,277.9 530.3,277.5 530.4,276.1 530.5,277.3 530.5,276.7 530.6,275.7 530.7,276.7 530.8,276.5 530.9,275.3 531.0,274.2 531.1,274.7 531.2,273.4 531.3,273.2 531.4,273.6 531.5,272.4 531.6,273.0 531.7,272.9 531.8,271.3 531.9,272.6 532.0,270.8 532.1,272.2 532.2,272.0 532.3,271.0 532.4,269.5 532.5,270.4 532.6,269.7 532.7,270.9 532.8,268.4 532.9,270.0 533.0,270.1 533.2,269.1 533.3,269.0 533.4,267.0 533.5,268.8 533.6,267.2 533.7,268.1 533.8,267.6 533.8,265.3 533.9,266.7 534.0,266.7 534.1,264.1 534.2,264.5 534.3,265.3 534.4,263.3 534.5,265.0 534.5,263.0 534.6,264.1 534.7,262.0 534.8,262.6 534.9,263.4 535.0,261.2 535.1,261.0 535.2,261.3 535.2,260.5 535.3,259.4 535.4,259.5 535.5,259.1 535.6,260.8 535.7,259.8 535.8,260.0 535.9,257.8 536.0,259.1 536.1,257.0 536.1,257.8 536.2,257.7 536.3,256.6 536.4,257.7 536.5,256.5 536.6,256.2 536.7,256.7 536.8,254.3 536.9,256.3 537.0,255.0 537.1,254.1 537.2,254.8 537.3,253.1 537.4,254.6 537.5,253.2 537.6,252.3 537.8,253.1 537.9,252.0 538.1,251.0 538.3,252.2 538.4,250.0 538.6,251.8 538.7,250.0 538.9,250.7 539.1,251.3 539.2,250.0 539.4,249.9 539.6,248.7 539.7,248.1 539.8,248.5 540.0,249.2 540.1,250.7 540.3,250.5 540.4,251.1 540.6,252.4 540.7,250.7 540.9,251.3 541.0,252.7 541.2,251.3 541.3,251.6 541.5,252.9 541.6,252.5 541.7,253.5 542.0,253.4 542.2,254.6 542.4,254.9 542.6,254.2 542.8,255.6 543.1,255.5 543.3,254.9 543.5,257.3 543.7,255.7 543.9,255.8 544.2,255.4 544.5,256.5 544.7,256.9 545.0,256.4 545.2,255.1 545.5,254.5 545.8,253.6 546.0,255.0 546.2,254.5 546.3,253.6 546.5,254.0 546.6,253.2 546.8,254.2 546.9,253.3 547.1,251.7 547.2,253.1 547.3,250.5 547.5,251.5 547.6,250.8 547.8,250.1 547.9,249.3 548.1,250.9 548.2,248.5 548.4,249.7 548.7,250.4 548.9,248.0 549.1,247.9 549.3,248.7 549.5,248.1 549.6,248.8 549.8,249.6 549.9,248.2 550.0,248.9 550.1,249.2 550.2,248.9 550.4,251.4 550.5,251.4 550.6,251.6 550.7,250.0 550.9,252.6 551.0,252.6 551.1,252.2 551.2,253.3 551.4,252.8 551.5,252.5 551.6,252.5 551.8,253.2 551.9,253.0 552.1,254.1 552.2,255.5 552.4,255.7 552.5,256.4 552.6,256.4 552.7,255.5 552.8,256.6 552.8,256.6 552.9,257.9 553.0,257.5 553.1,257.2 553.2,258.5 553.2,259.7 553.3,258.0 553.4,260.1 553.5,258.1 553.6,259.1 553.6,259.4 553.7,261.1 553.8,261.9 554.1,261.6 554.4,260.7 554.7,262.4 555.1,261.1 555.4,261.1 555.7,263.0 556.0,262.5 556.3,262.9 556.6,263.0 556.9,264.0 557.2,262.9 557.5,264.1 557.8,263.9 558.1,264.5 558.2,263.7 558.3,264.8 558.4,264.7 558.5,264.3 558.6,264.4 558.7,265.8 558.8,264.7 558.9,267.2 558.9,265.5 559.0,265.5 559.1,266.1 559.2,268.5 559.3,267.3 559.4,267.1 559.5,267.1 559.6,267.5 559.7,269.5 559.8,269.7 559.9,270.2 560.0,270.6 560.1,269.1 560.2,270.8 560.3,270.6 560.3,272.1 560.4,272.4 560.4,273.0 560.5,271.1 560.5,273.6 560.6,274.0 560.6,274.5 560.7,272.6 560.7,273.2 560.8,273.3 560.9,273.4 560.9,275.9 561.0,276.1 561.0,276.0 561.1,276.8 561.1,276.6 561.2,276.1 561.2,275.9 561.3,276.2 561.3,278.3 561.4,277.2 561.4,277.8 561.5,278.4 561.5,277.7 561.6,278.7 561.7,279.1 561.7,280.6 561.8,280.0 561.9,280.2 561.9,282.2 562.0,281.3 562.1,282.6 562.2,282.3 562.2,281.1 562.3,282.4 562.4,282.8 562.5,284.0 562.5,283.3 562.6,284.5 562.7,284.4 562.7,283.9 562.8,286.0 562.9,284.2 563.0,286.5 563.0,285.1 563.1,285.0 563.2,285.9 563.3,287.7 563.3,288.6 563.4,286.4 563.5,288.0 563.6,288.3 563.6,289.4 563.7,288.2 563.8,289.3 563.9,289.3 564.0,290.9 564.1,289.7 564.2,291.8 564.3,290.4 564.4,290.6 564.4,292.2 564.5,292.0 564.6,291.3 564.7,293.0 564.8,291.9 564.9,294.1 565.0,294.2 565.1,294.7 565.1,294.7 565.2,294.3 565.3,294.7 565.4,295.0 565.5,296.7 565.6,294.9 565.7,297.3 565.8,295.4 565.9,296.2 566.0,296.7 566.0,298.7 566.1,297.9 566.2,298.0 566.3,299.6 566.4,298.2 566.5,299.2 566.6,299.7 566.7,300.6 566.8,300.9 566.8,301.0 566.9,300.5 567.0,300.8 567.1,300.7 567.2,302.8 567.3,302.7 567.3,303.2 567.4,302.0 567.5,303.0 567.6,304.3 567.7,304.1 567.8,303.2 567.9,304.4 567.9,305.9 568.0,304.5 568.1,304.7 568.2,305.3 568.3,306.7 568.4,307.4 568.4,305.9 568.5,306.2 568.6,306.8 568.7,307.3 568.8,308.2 568.9,307.6 569.0,308.3 569.1,308.3 569.2,310.7 569.3,310.3 569.5,309.0 569.6,311.6 569.7,309.6 569.8,310.7 570.0,312.6 570.1,312.4 570.2,312.5 570.3,312.1 570.4,311.7 570.6,313.2 570.7,312.1 570.8,312.7 570.9,313.5 571.0,312.9 571.2,314.1 571.4,315.5 571.5,315.5 571.7,315.3 571.8,315.9 572.0,315.8 572.1,315.2 572.3,316.8 572.5,316.5 572.6,317.7 572.8,318.5 572.9,317.5 573.1,318.2 573.2,318.9 573.5,318.3 573.7,318.1 574.0,319.7 574.2,320.4 574.5,320.4 574.7,320.5 574.9,321.2 575.3,320.6 575.7,320.4 576.0,319.7 576.4,319.2 576.8,320.0 577.1,318.4 577.4,319.0 577.6,319.7 577.9,319.2 578.1,318.7 578.3,317.5 578.6,317.7 578.8,317.5 579.1,317.6 579.3,316.8 579.6,317.2 579.8,317.6 580.0,315.4 580.3,316.4 580.5,316.4 580.7,315.2 581.0,315.2 581.2,316.2 581.4,313.4 581.7,314.5 581.9,313.2 582.2,315.0 582.5,315.7 582.8,314.7 583.1,313.8 583.4,315.3 583.6,315.4 583.9,316.0 584.2,315.7 584.5,316.2 584.8,316.5 585.1,315.5 585.4,315.1 585.7,316.3 586.0,314.2 586.3,315.2 586.6,314.3 586.7,315.0 586.8,313.0 586.9,314.9 587.0,312.9 587.1,311.8 587.2,312.1 587.3,312.1 587.4,310.8 587.5,311.5 587.6,311.2 587.7,311.6 587.8,310.4 587.9,309.8 588.0,309.4 588.1,310.5 588.2,310.7 588.3,309.3 588.4,308.1 588.5,309.4 588.6,308.0 588.7,307.2 588.8,306.6 588.9,308.0 588.9,307.8 589.0,307.0 589.1,306.2 589.2,306.1 589.3,304.9 589.3,306.5 589.4,304.5 589.5,305.0 589.6,305.1 589.6,304.8 589.7,303.5 589.8,302.7 589.9,303.1 589.9,301.6 590.0,303.1 590.1,301.5 590.2,302.5 590.3,300.6 590.3,300.6 590.4,299.9 590.5,300.1 590.6,299.1 590.7,298.3 590.8,299.9 590.9,298.4 591.0,297.9 591.1,297.8 591.2,297.9 591.3,297.4 591.5,297.6 591.6,297.4 591.7,296.3 591.8,297.4 592.1,297.0 592.3,294.7 592.6,296.5 592.9,296.4 593.2,295.9 593.4,293.9 593.7,295.5 594.0,294.8 594.1,292.8 594.3,292.5 594.4,294.6 594.5,293.5 594.7,292.1 594.8,291.4 595.0,291.2 595.1,291.1 595.2,292.2 595.4,290.7 595.5,289.9 595.7,291.5 595.8,290.9 595.9,288.9 596.0,290.5 596.1,289.5 596.2,289.6 596.3,289.0 596.4,289.3 596.5,288.7 596.6,288.5 596.7,286.5 596.8,287.4 596.9,286.7 597.0,286.9 597.1,285.8 597.2,286.7 597.3,285.5 597.4,284.4 597.5,284.0 597.5,283.4 597.6,284.0 597.7,282.5 597.7,283.3 597.8,282.1 597.9,282.7 597.9,282.4 598.0,282.1 598.1,282.7 598.2,280.1 598.2,281.9 598.3,280.6 598.4,280.5 598.4,280.5 598.5,280.6 598.5,279.0 598.6,278.8 598.7,279.9 598.7,277.2 598.8,278.4 598.9,278.0 598.9,276.1 599.0,277.3 599.0,277.2 599.1,277.5 599.2,275.6 599.2,276.9 599.3,275.4 599.4,275.0 599.4,275.7 599.5,273.1 599.6,274.6 599.6,274.0 599.7,272.9 599.7,273.9 599.8,272.3 599.9,272.2 599.9,272.0 600.0,272.4 600.1,270.5 600.1,270.8 600.2,270.5 600.3,270.5 600.4,270.9 600.4,269.1 600.5,270.2 600.6,268.8 600.7,268.7 600.7,267.8 600.8,268.1 600.9,269.0 600.9,267.8 601.0,267.8 601.1,266.3 601.2,265.9 601.2,265.6 601.3,266.0 601.4,265.8 601.5,265.9 601.5,263.6 601.7,265.1 601.8,265.2 601.9,264.0 602.0,262.4 602.1,262.7 602.2,261.6 602.4,261.8 602.5,263.4 602.6,262.3 602.7,262.1 602.8,262.1 602.9,262.1 603.0,261.0 603.2,260.8 603.4,260.5 603.5,260.4 603.7,259.8 603.9,259.7 604.0,258.2 604.2,259.1 604.3,258.2 604.5,258.7 604.7,256.7 604.8,256.6 605.0,255.9 605.3,257.6 605.5,257.6 605.7,256.6 605.9,255.6 606.1,256.5 606.3,256.1 606.5,255.2 606.8,254.1 607.0,253.9 607.3,253.9 607.5,253.3 607.7,253.3 608.0,253.6 608.2,254.1 608.3,251.4 608.4,252.4 608.4,250.7 608.5,250.6 608.6,252.0 608.7,251.1 608.7,251.6 608.8,250.1 608.9,248.6 608.9,249.2 609.0,249.4 609.1,250.0 609.2,249.8 609.2,248.1 609.3,247.6 609.4,246.4 609.4,247.5 609.5,246.0 609.7,245.5 609.8,244.9 609.9,244.5 610.0,246.0 610.2,244.1 610.3,246.0 610.4,243.4 610.6,245.1 610.7,242.8 610.8,242.2 611.2,243.9 611.5,242.5 611.9,243.7 612.3,242.1 612.6,241.6 612.7,243.9 612.9,244.0 613.0,244.7 613.1,244.7 613.3,243.3 613.4,245.0 613.5,245.6 613.6,245.2 613.8,246.8 613.9,245.3 614.0,247.5 614.1,247.2 614.2,245.7 614.2,246.0 614.3,248.0 614.4,248.8 614.5,247.2 614.6,248.1 614.6,249.6 614.7,248.4 614.8,250.6 614.9,249.9 615.0,249.1 615.0,250.3 615.1,251.2 615.2,251.2 615.3,252.1 615.5,251.0 615.6,253.0 615.8,252.2 615.9,253.2 616.1,253.5 616.2,253.2 616.3,253.5 616.5,254.8 616.6,255.6 616.8,255.4 616.9,255.2 617.1,254.2 617.3,253.3 617.6,255.5 617.8,254.5 618.0,254.6 618.2,253.0 618.5,253.5 618.7,254.2 619.0,253.5 619.2,252.6 619.5,251.6 619.7,251.6 620.0,252.5 620.1,251.5 620.3,252.6 620.4,252.7 620.6,253.8 620.7,253.9 620.8,252.9 621.0,252.4 621.1,253.5 621.3,254.2 621.4,255.0 621.5,255.9 621.7,256.4 621.8,254.5 621.8,256.9 621.9,257.2 622.0,257.6 622.1,257.2 622.2,256.7 622.2,258.6 622.3,258.8 622.4,258.8 622.5,259.7 622.5,258.6 622.6,258.2 622.7,259.8 622.8,260.7 622.9,259.5 622.9,261.2 623.0,262.1 623.1,260.5 623.2,261.8 623.3,262.4 623.3,262.1 623.4,261.8 623.5,262.2 623.6,263.9 623.7,264.3 623.7,263.8 623.8,263.1 623.9,265.3 624.0,265.6 624.0,264.5 624.1,265.7 624.2,266.9 624.3,267.2 624.3,266.6 624.4,266.8 624.5,267.4 624.6,266.7 624.6,267.0 624.7,267.3 624.8,269.1 624.9,268.5 625.0,269.3 625.1,269.2 625.2,269.9 625.3,269.2 625.4,269.3 625.6,272.1 625.7,270.8 625.8,270.4 625.9,272.1 626.0,272.8 626.1,271.5 626.2,273.0 626.4,272.6 626.5,273.4 626.8,272.3 627.1,272.6 627.4,275.3 627.7,275.2 628.0,274.4 628.3,274.8 628.6,274.3 628.9,275.9 629.2,275.2 629.5,276.8 629.6,276.7 629.7,277.2 629.8,277.9 629.9,276.3 630.0,276.1 630.1,276.9 630.2,277.1 630.3,277.2 630.4,277.5 630.5,279.1 630.7,280.3 630.7,279.6 630.8,281.2 630.8,281.4 630.9,279.5 630.9,281.3 631.0,281.1 631.0,280.7 631.1,283.3 631.2,281.8 631.2,282.9 631.3,283.5 631.3,284.6 631.4,284.2 631.4,283.8 631.5,284.3 631.5,283.9 631.6,286.4 631.7,286.8 631.8,285.1 631.9,284.9 632.0,285.8 632.0,286.4 632.1,288.2 632.2,288.6 632.3,288.7 632.4,287.0 632.5,289.3 632.5,289.4 632.6,289.6 632.7,290.8 632.8,288.7 632.9,289.3 632.9,291.2 633.1,292.0 633.3,291.6 633.5,290.9 633.7,291.9 633.9,292.7 634.1,291.2 634.2,292.1 634.4,292.2 634.6,292.2 634.8,293.4 635.0,292.9 635.2,293.3 635.4,293.4 635.5,295.1 635.7,293.6 635.9,295.8 636.2,294.7 636.4,294.5 636.6,297.2 636.8,295.6 637.0,297.8 637.2,297.9 637.4,298.2 637.6,296.5 637.8,297.6 638.0,297.0 638.2,299.5 638.4,299.6 638.6,299.3 638.8,299.1 639.0,299.1 639.2,300.7 639.4,300.1 639.5,300.8 639.7,299.8 639.9,300.3 640.1,300.1 640.3,302.2 640.5,302.1 640.6,301.3 640.8,303.5 641.0,302.2 641.4,302.8 641.7,302.3 642.1,302.8 642.4,304.5 642.7,302.9 642.9,302.1 643.2,302.7 643.5,302.0 643.7,303.3 644.0,300.9 644.1,302.9 644.3,300.1 644.4,302.0 644.5,301.1 644.6,299.6 644.8,299.9 644.9,299.1 645.0,298.7 645.1,298.2 645.3,298.3 645.4,299.7 645.5,299.3 645.6,298.8 645.8,296.3 645.9,296.5 646.0,297.8 646.1,295.2 646.3,296.7 646.4,295.2 646.5,296.7 646.6,293.9 646.8,295.6 646.9,294.1 647.0,293.2 647.1,292.5 647.2,294.4 647.4,293.3 647.5,292.1 647.6,292.4 647.7,293.3 647.9,291.2 648.0,291.8 648.1,290.3 648.2,290.1 648.3,291.4 648.4,290.9 648.5,289.2 648.6,288.6 648.7,288.3 648.8,289.3 648.9,288.7 649.0,287.8 649.1,287.3 649.2,288.0 649.3,287.9 649.4,287.9 649.5,287.0 649.6,285.6 649.7,284.9 649.8,286.4 649.9,285.2 650.0,285.7 650.1,283.6 650.2,285.3 650.3,283.7 650.4,284.7 650.5,284.4 650.6,283.1 650.7,281.5 650.8,283.5 650.9,282.1 651.0,282.8 651.1,280.8 651.2,280.3 651.3,281.7 651.4,280.1 651.5,279.2 651.6,279.5 651.7,279.7 651.8,277.8 651.9,278.9 652.0,278.3 652.0,278.2 652.1,276.8 652.2,278.0 652.3,278.0 652.4,277.8 652.5,276.0 652.5,276.7 652.6,275.5 652.7,276.2 652.8,274.0 652.9,275.8 653.0,275.7 653.1,274.2 653.1,273.9 653.2,273.6 653.3,273.3 653.4,271.6 653.5,273.8 653.6,271.5 653.6,271.0 653.7,270.5 653.8,270.5 653.9,271.7 654.0,269.2 654.0,269.1 654.1,270.3 654.2,268.7 654.3,267.8 654.4,269.0 654.4,268.6 654.5,268.1 654.6,268.3 654.7,266.4 654.8,268.0 654.8,267.3 654.9,265.2 654.9,265.1 655.0,265.7 655.0,265.4 655.1,264.5 655.1,263.8 655.2,264.2 655.2,263.1 655.3,264.0 655.3,264.4 655.4,262.2 655.4,263.0 655.5,263.1 655.5,261.2 655.6,262.6 655.6,262.6 655.7,260.8 655.7,260.6 655.8,261.4 655.9,260.2 656.1,259.6 656.2,260.7 656.4,259.9 656.5,258.5 656.7,257.9 656.7,257.8 656.8,257.8 656.8,258.9 656.9,258.1 656.9,258.0 656.9,257.4 657.0,257.2 657.0,254.8 657.1,255.7 657.1,256.5 657.2,256.1 657.2,254.0 657.3,254.1 657.3,254.3 657.4,253.3 657.4,253.4 657.5,251.9 657.5,253.2 657.5,253.7 657.6,252.8 657.6,253.4 657.6,255.9 657.7,255.8 657.7,256.5 657.7,256.0 657.8,256.8 657.8,257.4 657.8,257.7 657.9,255.8 657.9,257.7 657.9,257.1 658.0,258.5 658.0,257.8 658.0,258.8 658.1,260.2 658.1,259.0 658.1,257.7 658.2,258.1 658.2,257.5 658.3,258.6 658.3,256.5 658.4,256.2 658.4,256.7 658.4,255.0 658.5,255.9 658.5,256.5 658.6,255.0 658.6,254.0 658.6,254.2 658.7,254.1 658.7,252.7 658.8,252.3 658.8,252.0 658.9,252.1 658.9,252.7 659.0,252.7 659.0,252.9 659.1,252.9 659.1,254.4 659.2,255.5 659.2,255.2 659.3,255.5 659.3,256.0 659.4,255.1 659.4,256.8 659.5,256.5 659.5,257.1 659.6,257.6 659.6,257.5 659.7,257.4 659.7,256.9 659.8,256.5 659.8,257.0 659.8,256.3 659.9,256.5 659.9,254.6 660.0,255.2 660.0,256.2 660.1,254.2 660.1,254.7 660.2,254.2 660.2,253.4 660.3,254.9 660.3,252.7 660.4,253.6 660.4,251.7 660.5,251.1 660.5,253.6 660.6,252.8 660.6,252.1 660.7,253.3 660.8,253.8 660.8,254.9 660.9,253.6 660.9,254.2 661.0,256.5 661.1,256.2 661.1,255.0 661.2,255.8 661.3,256.2 661.3,256.7 661.4,256.2 661.4,256.5 661.5,256.1 661.5,255.0 661.6,255.2 661.7,254.9 661.7,254.6 661.8,253.6 661.8,254.0 661.9,253.5 661.9,253.7 662.0,251.3 662.0,253.0 662.1,251.0 662.2,253.4 662.3,253.2 662.4,253.4 662.5,254.9 662.6,254.2 662.7,254.2 662.8,255.5 662.8,256.1 662.9,255.0 663.0,254.1 663.1,253.9 663.2,253.6 663.3,253.9 663.4,252.4 663.5,252.3 663.6,252.4 663.6,251.6 663.8,251.7 663.9,253.3 664.0,253.8 664.2,253.2 664.3,253.4 664.4,253.0 664.5,253.6 664.7,252.9 664.8,253.7 665.0,253.4 665.1,251.8 665.3,253.7 665.4,251.8 665.5,253.5 665.6,253.8 665.7,254.5 665.8,252.8 665.9,253.7 666.0,255.3 666.1,253.3 666.2,253.7 666.3,255.4 666.4,255.6 666.6,257.0 666.7,256.9 666.8,256.6 666.9,258.1 667.0,257.2 667.2,257.5 667.3,258.2 667.4,257.8 667.5,258.0 667.6,259.0 667.7,258.7 667.8,260.6 667.9,260.2 667.9,260.2 668.0,259.4 668.1,260.5 668.2,260.9 668.2,261.7 668.3,262.1 668.5,262.5 668.6,262.4 668.8,260.8 669.0,260.4 669.1,260.5 669.2,261.8 669.2,260.4 669.3,261.3 669.3,262.4 669.4,261.0 669.4,261.7 669.5,263.8 669.6,263.8 669.6,263.3 669.7,262.5 669.7,265.0 669.8,264.8 669.8,265.4 669.9,266.2 669.9,266.3 670.1,264.8 670.3,263.8 670.5,263.9 670.7,264.2 670.8,264.5 670.8,264.0 670.9,264.3 670.9,265.8 671.0,266.1 671.1,265.8 671.1,267.8 671.2,267.2 671.2,266.0 671.3,267.3 671.3,268.6 671.4,267.7 671.5,269.0 671.5,267.5 671.7,268.7 671.8,270.5 672.0,270.2 672.2,270.7 672.3,269.8 672.4,271.0 672.6,271.4 672.7,271.0 672.8,272.3 673.0,272.3 673.1,273.8 673.2,273.0 673.4,272.9 673.5,272.5 673.6,272.9 673.7,274.8 673.9,273.4 674.0,273.6 674.1,274.2 674.3,275.4 674.4,276.5 674.5,276.3 674.6,277.1 674.8,275.5 674.9,275.7 675.0,278.0 675.1,277.2 675.3,278.5 675.4,277.9 675.5,277.8 675.7,278.3 675.8,278.2 675.9,280.7 676.1,280.1 676.3,279.8 676.5,280.3 676.6,280.4 676.8,279.8 677.0,281.3" fill="none" stroke="#e62b31" stroke-width="3.8" stroke-linejoin="round" stroke-linecap="round"/>
<line x1="403.1" y1="277.9" x2="677" y2="277.9" stroke="rgb(80,138,192)" stroke-opacity="0.75" stroke-width="3.3" stroke-dasharray="13.75 13.75"/>
<path d="M403.1 527V524.25M403.1 409.4V412.15M457.88 527V524.25M457.88 409.4V412.15M512.66 527V524.25M512.66 409.4V412.15M567.44 527V524.25M567.44 409.4V412.15M622.22 527V524.25M622.22 409.4V412.15M677 527V524.25M677 409.4V412.15M403.1 527H405.85M677 527H674.25M403.1 487.8H405.85M677 487.8H674.25M403.1 448.6H405.85M677 448.6H674.25M403.1 409.4H405.85M677 409.4H674.25" stroke="#262626" stroke-width="1" fill="none"/>
<rect x="403.1" y="409.4" width="273.9" height="117.6" fill="none" stroke="#262626" stroke-width="1.15"/>
<text transform="translate(395.6,532.6) scale(0.91,1)" font-size="17.5" text-anchor="end">0</text>
<text transform="translate(395.6,493.4) scale(0.91,1)" font-size="17.5" text-anchor="end">1</text>
<text transform="translate(395.6,454.2) scale(0.91,1)" font-size="17.5" text-anchor="end">2</text>
<text transform="translate(395.6,415) scale(0.91,1)" font-size="17.5" text-anchor="end">3</text>
<text transform="translate(403.1,549.7) scale(0.91,1)" font-size="17.5" text-anchor="middle">0</text>
<text transform="translate(457.88,549.7) scale(0.91,1)" font-size="17.5" text-anchor="middle">10</text>
<text transform="translate(512.66,549.7) scale(0.91,1)" font-size="17.5" text-anchor="middle">20</text>
<text transform="translate(567.44,549.7) scale(0.91,1)" font-size="17.5" text-anchor="middle">30</text>
<text transform="translate(622.22,549.7) scale(0.91,1)" font-size="17.5" text-anchor="middle">40</text>
<text transform="translate(677,549.7) scale(0.91,1)" font-size="17.5" text-anchor="middle">50</text>
<path d="M405.8 397.6L413.6 405.6M405.8 405.6L413.6 397.6" stroke="#262626" stroke-width="0.95" fill="none"/>
<text x="417.9" y="405.3" font-size="17.9" textLength="14.3" lengthAdjust="spacingAndGlyphs">10</text>
<text x="434" y="396.7" font-size="14">5</text>
<polyline points="402.9,477.1 403.2,476.8 403.5,478.3 403.8,477.0 404.1,478.4 404.4,478.2 404.7,477.5 405.0,478.9 405.3,477.9 405.6,479.1 405.8,478.4 405.9,478.8 406.1,480.0 406.3,481.4 406.5,479.8 406.6,480.4 406.8,481.8 407.0,482.9 407.2,482.3 407.4,482.1 407.5,483.9 407.7,481.8 407.9,484.3 408.1,483.0 408.3,482.9 408.5,483.2 408.7,483.9 408.9,485.6 409.1,484.2 409.3,485.5 409.5,485.9 409.7,485.5 410.0,485.8 410.4,484.4 410.8,484.2 411.1,484.4 411.5,485.5 411.6,484.5 411.8,483.9 412.0,484.3 412.1,483.7 412.3,483.0 412.5,484.0 412.6,483.4 412.8,481.9 412.9,482.5 413.1,482.1 413.3,482.7 413.4,482.0 413.6,480.5 413.8,482.0 414.0,479.4 414.2,479.9 414.3,480.5 414.5,478.5 414.7,479.1 414.9,477.6 415.1,479.0 415.3,478.9 415.6,478.1 415.8,478.6 416.1,476.9 416.3,477.6 416.6,477.1 416.9,476.7 417.2,476.5 417.6,477.7 418.0,478.1 418.3,477.0 418.7,477.6 419.0,476.1 419.3,477.5 419.6,477.1 419.8,477.7 420.1,477.0 420.3,475.3 420.6,475.3 420.8,475.7 420.9,473.7 421.0,474.5 421.0,473.4 421.1,473.0 421.1,472.5 421.2,474.0 421.2,472.0 421.3,472.0 421.3,472.0 421.4,472.9 421.4,470.5 421.5,471.2 421.6,471.1 421.7,471.6 421.8,471.1 421.8,470.9 421.9,469.1 422.0,469.1 422.1,468.6 422.2,469.7 422.2,469.5 422.4,467.1 422.5,466.8 422.6,466.7 422.7,466.3 422.8,466.7 423.0,466.6 423.1,465.5 423.2,464.4 423.3,465.2 423.4,464.8 423.6,465.0 423.7,465.7 423.8,464.7 423.9,463.9 424.0,463.8 424.3,463.7 424.6,461.8 424.9,463.8 425.1,463.2 425.4,463.2 425.7,462.7 425.9,461.4 426.2,461.2 426.5,460.2 426.7,461.3 427.0,459.6 427.2,459.3 427.5,459.5 427.8,459.1 428.0,459.3 428.3,458.3 428.5,458.0 428.7,458.0 428.8,457.6 428.9,457.9 429.1,456.7 429.2,458.6 429.4,457.6 429.5,456.1 429.7,456.0 429.8,455.9 429.9,455.7 430.0,454.7 430.2,456.3 430.3,456.4 430.4,454.6 430.5,454.4 430.6,453.0 430.7,452.7 430.9,453.0 431.0,452.5 431.1,453.7 431.2,451.6 431.3,450.9 431.4,453.0 431.5,451.6 431.6,450.3 431.7,451.0 431.9,449.3 432.0,450.4 432.1,451.2 432.2,450.6 432.3,449.9 432.4,448.4 432.5,448.4 432.8,447.5 433.0,448.9 433.3,447.9 433.5,448.3 433.8,446.8 434.0,446.3 434.3,447.6 434.7,448.1 435.0,447.9 435.4,447.9 435.7,448.1 436.1,448.0 436.3,447.0 436.4,448.1 436.6,447.9 436.7,447.4 436.9,447.7 437.1,448.7 437.2,448.9 437.4,450.4 437.6,451.4 437.7,450.3 437.9,451.9 438.2,452.3 438.4,452.4 438.7,451.0 439.0,450.9 439.3,451.1 439.4,450.7 439.6,450.4 439.7,451.2 439.9,451.7 440.1,451.2 440.2,449.9 440.4,450.1 440.5,450.2 440.7,448.0 441.0,449.4 441.3,449.9 441.6,449.4 441.9,449.2 442.2,448.3 442.6,447.3 442.9,448.8 443.3,447.6 443.6,448.8 444.0,449.2 444.4,447.6 444.8,447.6 445.2,449.0 445.5,448.4 445.9,446.9 446.3,446.7 446.7,446.7 447.1,448.6 447.2,448.1 447.4,446.0 447.5,447.5 447.7,447.7 447.8,446.5 448.0,445.4 448.1,445.6 448.3,444.2 448.4,443.6 448.6,445.8 448.7,444.7 448.8,444.1 449.2,445.0 449.5,443.5 449.8,444.5 450.1,444.2 450.4,442.9 450.6,443.3 450.8,443.7 451.0,443.8 451.3,445.0 451.5,444.5 451.7,445.2 451.9,444.7 452.1,447.1 452.2,445.9 452.4,446.5 452.5,447.2 452.7,448.4 452.8,447.4 453.0,449.0 453.1,448.3 453.3,448.7 453.4,449.0 453.6,448.0 453.7,449.4 453.9,449.0 454.0,448.9 454.2,451.3 454.3,449.9 454.5,451.1 454.6,452.0 454.8,451.9 454.9,451.6 455.1,452.4 455.2,452.8 455.4,453.8 455.5,452.3 455.7,453.8 455.8,453.3 456.0,453.7 456.1,455.3 456.3,455.0 456.4,455.4 456.6,456.3 456.7,457.0 456.9,456.1 457.0,456.8 457.2,456.9 457.3,457.2 457.5,458.0 457.6,457.7 457.7,458.3 457.9,458.4 458.0,460.0 458.1,459.7 458.3,460.5 458.4,461.0 458.6,459.5 458.7,460.6 458.8,462.0 459.0,462.0 459.1,460.5 459.2,460.8 459.3,462.0 459.4,461.3 459.4,462.1 459.5,462.0 459.6,463.9 459.7,464.5 459.8,465.2 459.8,463.5 459.9,465.3 460.0,465.5 460.1,464.5 460.2,466.8 460.2,467.3 460.3,465.7 460.4,468.0 460.5,466.8 460.6,467.4 460.6,469.1 460.7,469.0 460.8,467.6 460.9,468.6 461.0,469.2 461.1,469.1 461.1,469.0 461.2,469.7 461.3,471.1 461.4,469.6 461.5,471.3 461.5,471.4 461.6,470.6 461.7,471.7 461.8,472.9 461.8,472.9 461.9,472.1 462.0,474.8 462.1,474.6 462.1,475.5 462.2,473.5 462.3,474.3 462.3,474.0 462.4,476.3 462.5,475.3 462.6,475.3 462.6,476.4 462.7,478.0 462.8,478.1 462.8,477.0 462.9,477.0 463.0,479.4 463.0,478.8 463.1,479.5 463.2,478.2 463.3,478.4 463.3,480.4 463.4,480.1 463.5,479.5 463.5,482.1 463.6,481.6 463.7,482.4 463.7,480.8 463.8,483.2 463.9,481.5 464.0,483.9 464.0,483.1 464.1,483.2 464.2,484.1 464.2,485.4 464.3,484.0 464.4,484.0 464.4,485.4 464.5,484.9 464.5,484.9 464.6,485.4 464.7,485.4 464.7,486.2 464.8,486.8 464.9,487.1 464.9,488.7 465.0,487.8 465.3,488.5 465.6,487.9 465.9,488.6 466.2,487.9 466.5,488.8 466.8,488.4 466.9,489.9 467.0,489.1 467.1,487.9 467.3,488.3 467.4,489.2 467.5,486.7 467.6,488.2 467.7,486.9 467.9,486.7 468.0,487.3 468.1,485.8 468.1,485.8 468.2,485.9 468.3,486.3 468.4,484.3 468.4,485.3 468.5,484.6 468.6,484.1 468.7,483.1 468.8,482.6 468.8,481.5 468.9,481.4 469.0,480.9 469.1,483.0 469.2,482.0 469.3,482.1 469.4,482.2 469.5,484.5 469.7,485.0 469.8,484.8 469.9,484.1 470.0,483.6 470.1,483.4 470.2,483.5 470.2,482.4 470.3,482.8 470.4,482.0 470.5,483.5 470.6,483.1 470.7,481.7 470.8,480.5 470.9,482.1 471.0,480.7 471.0,481.2 471.1,480.5 471.2,481.9 471.3,482.5 471.4,482.9 471.4,482.4 471.5,483.6 471.6,482.6 471.7,483.6 471.8,483.5 471.9,483.9 471.9,482.6 472.0,482.2 472.1,482.6 472.2,482.1 472.3,482.7 472.4,482.2 472.4,482.4 472.5,481.8 472.6,481.7 472.7,481.7 472.8,480.1 472.9,480.3 473.1,482.3 473.2,480.4 473.4,482.3 473.6,482.4 473.7,481.1 473.9,483.5 473.9,483.4 474.0,482.3 474.0,482.3 474.1,482.1 474.2,480.0 474.2,480.7 474.3,480.3 474.3,480.8 474.4,480.4 474.4,480.1 474.5,479.2 474.6,479.7 474.6,478.8 474.7,478.5 474.7,476.9 474.8,476.0 474.8,476.0 474.9,476.2 474.9,475.2 475.0,476.8 475.0,475.7 475.1,475.6 475.1,475.2 475.2,475.0 475.2,474.2 475.3,472.6 475.4,474.3 475.4,473.9 475.5,472.9 475.5,472.6 475.6,472.6 475.6,470.7 475.6,472.1 475.6,470.5 475.7,469.7 475.7,469.9 475.7,470.8 475.7,469.0 475.8,470.1 475.8,470.4 475.8,468.8 475.8,468.1 475.9,468.0 475.9,468.2 475.9,468.1 476.0,467.4 476.0,467.1 476.0,465.3 476.0,465.1 476.1,465.1 476.1,466.0 476.1,464.5 476.1,464.9 476.2,463.1 476.2,462.9 476.2,463.1 476.3,463.8 476.3,463.5 476.3,463.2 476.4,461.8 476.4,462.1 476.4,461.6 476.4,461.3 476.5,460.0 476.5,461.7 476.5,459.6 476.6,461.3 476.6,460.8 476.6,458.1 476.7,458.9 476.7,459.5 476.7,459.6 476.8,457.9 476.8,457.1 476.8,456.6 476.9,458.2 476.9,455.9 476.9,456.6 477.0,455.1 477.0,455.8 477.0,456.6 477.1,454.1 477.1,455.5 477.2,454.4 477.2,455.0 477.3,454.2 477.3,452.6 477.4,454.0 477.5,452.6 477.5,451.1 477.6,450.7 477.6,451.6 477.7,451.2 477.8,450.4 477.8,449.7 477.9,449.9 477.9,449.5 478.0,450.5 478.0,448.0 478.1,449.6 478.2,449.5 478.2,447.3 478.3,449.1 478.3,448.2 478.4,448.3 478.5,446.4 478.5,446.2 478.5,446.0 478.6,447.2 478.6,445.8 478.7,444.9 478.7,444.7 478.8,444.0 478.8,443.0 478.9,442.9 478.9,444.5 478.9,442.7 479.0,444.1 479.0,441.9 479.1,441.6 479.1,441.9 479.2,440.7 479.2,440.9 479.3,442.1 479.3,441.6 479.3,441.0 479.4,440.2 479.5,440.7 479.6,440.4 479.7,439.1 479.8,439.2 479.9,437.1 480.0,438.6 480.1,437.5 480.2,438.0 480.2,437.4 480.3,436.1 480.4,435.1 480.5,437.1 480.6,434.7 480.7,435.3 480.8,434.6 480.9,434.2 481.0,435.0 481.1,435.3 481.1,433.1 481.2,433.8 481.3,432.5 481.4,432.9 481.5,432.1 481.6,431.2 481.7,430.8 481.7,430.6 481.8,432.1 481.9,430.7 482.0,429.7 482.1,431.2 482.2,431.1 482.3,429.3 482.3,428.1 482.5,428.0 482.6,427.4 482.8,427.8 483.0,426.8 483.1,426.9 483.3,426.7 483.4,427.2 483.6,427.7 483.7,427.1 483.9,425.9 484.0,425.6 484.2,425.6 484.4,424.9 484.6,424.5 484.7,423.5 484.9,423.8 485.1,425.3 485.2,422.8 485.4,423.5 485.6,423.5 485.8,423.8 485.9,421.8 486.0,421.7 486.1,421.3 486.2,421.3 486.3,421.1 486.3,422.1 486.4,421.5 486.5,421.2 486.6,418.7 486.7,418.3 486.7,419.8 486.8,420.0 487.0,418.5 487.1,418.5 487.3,416.7 487.4,417.4 487.5,418.5 487.7,417.9 487.8,417.7 488.2,418.0 488.5,416.0 488.9,415.6 489.3,415.7 489.6,416.6 490.0,417.1 490.3,417.9 490.7,417.4 491.1,417.3 491.4,417.7 491.7,417.1 492.1,417.6 492.4,416.5 492.6,418.7 492.9,417.5 493.1,419.6 493.4,419.2 493.6,418.6 493.9,418.4 494.1,419.0 494.3,420.3 494.5,420.8 494.7,419.5 494.9,419.7 495.1,421.1 495.3,421.6 495.5,421.4 495.7,421.2 496.0,422.5 496.2,421.2 496.4,422.3 496.6,423.0 496.8,424.6 497.0,424.0 497.2,424.9 497.3,424.2 497.4,423.9 497.5,424.2 497.6,426.4 497.7,426.1 497.8,425.3 497.9,424.9 498.0,426.5 498.1,427.3 498.2,426.9 498.4,426.8 498.5,428.2 498.6,429.2 498.7,427.7 498.8,427.5 498.9,428.7 499.0,429.2 499.1,430.2 499.2,429.3 499.3,431.2 499.4,431.4 499.5,431.1 499.6,430.6 499.7,433.0 499.8,431.6 499.9,433.2 500.0,432.0 500.1,432.3 500.2,434.1 500.3,433.2 500.4,435.2 500.5,434.4 500.6,433.9 500.7,434.3 500.8,435.1 500.9,436.1 501.0,437.2 501.1,435.4 501.2,436.4 501.3,436.2 501.4,438.5 501.5,436.7 501.6,436.8 501.7,437.1 501.9,438.3 502.0,440.0 502.1,440.3 502.2,440.2 502.3,441.2 502.4,441.4 502.5,440.1 502.5,440.0 502.6,442.4 502.7,442.2 502.8,440.6 502.8,442.6 502.9,442.2 503.0,442.5 503.1,442.7 503.2,442.6 503.2,442.5 503.3,443.6 503.4,444.1 503.5,446.0 503.5,444.1 503.6,446.7 503.7,445.0 503.8,445.7 503.9,447.3 503.9,447.6 504.0,446.9 504.1,446.2 504.2,447.7 504.2,447.8 504.3,449.5 504.4,448.0 504.5,448.7 504.6,450.5 504.7,448.5 504.7,449.9 504.8,451.2 504.9,451.5 505.0,449.9 505.1,450.2 505.1,450.6 505.2,453.2 505.3,451.8 505.4,453.4 505.5,454.1 505.5,453.0 505.6,453.1 505.7,455.3 505.8,454.7 505.9,454.1 506.0,455.6 506.0,454.9 506.1,455.1 506.2,454.8 506.3,457.1 506.4,457.8 506.4,457.4 506.5,458.6 506.5,456.5 506.6,457.4 506.6,458.3 506.7,460.0 506.7,460.3 506.8,459.1 506.8,459.1 506.9,459.9 507.0,460.4 507.0,461.9 507.1,460.3 507.1,462.3 507.2,462.4 507.2,463.0 507.3,463.2 507.3,463.1 507.4,462.7 507.4,463.0 507.5,463.5 507.5,464.9 507.6,463.4 507.7,464.0 507.7,465.8 507.8,464.8 507.8,464.7 507.9,464.9 507.9,466.6 508.0,466.3 508.0,468.4 508.1,468.5 508.1,469.1 508.2,467.5 508.2,467.3 508.3,467.7 508.3,469.1 508.4,470.0 508.4,469.6 508.5,469.4 508.5,470.2 508.6,471.1 508.6,471.5 508.7,472.1 508.7,472.6 508.8,472.5 508.8,471.4 508.9,473.6 509.0,472.5 509.0,473.5 509.1,473.4 509.2,474.7 509.3,473.6 509.4,474.0 509.5,474.4 509.6,474.5 509.7,476.7 509.8,476.2 509.9,475.9 510.0,476.4 510.1,478.3 510.2,477.4 510.3,477.0 510.4,478.8 510.5,478.8 510.5,480.0 510.7,478.0 510.8,479.3 511.0,480.5 511.1,480.9 511.3,481.4 511.4,479.4 511.6,480.4 511.7,480.3 511.9,480.8 512.0,483.2 512.2,482.5 512.3,483.7 512.5,482.6 512.6,484.2 512.8,483.4 512.9,483.2 513.1,484.9 513.2,485.6 513.4,483.7 513.5,485.3 513.7,485.6 513.8,484.9 514.0,485.6 514.1,485.3 514.2,485.8 514.4,486.2 514.5,487.4 514.7,487.8 514.8,487.0 515.1,486.7 515.5,487.7 515.8,488.9 516.1,487.8 516.4,488.4 516.7,488.3 517.0,490.1 517.3,489.3 517.6,487.8 517.9,487.8 518.2,488.4 518.5,488.6 518.8,488.7 519.1,487.0 519.3,486.9 519.5,488.0 519.7,487.0 519.8,486.3 520.0,486.1 520.2,487.5 520.4,485.5 520.6,485.8 520.8,485.0 520.9,484.8 521.1,485.7 521.3,485.8 521.7,483.9 522.0,483.3 522.4,484.6 522.7,483.0 523.1,482.4 523.4,484.6 523.7,483.1 524.0,483.9 524.3,482.6 524.7,483.7 525.0,482.3 525.3,481.3 525.6,480.7 525.7,481.8 525.8,481.7 525.9,482.1 526.0,479.6 526.1,480.7 526.2,479.7 526.3,479.7 526.4,478.4 526.5,478.5 526.6,478.8 526.7,479.5 526.8,477.0 526.9,477.7 527.0,478.2 527.1,478.3 527.2,476.0 527.2,475.4 527.3,477.3 527.4,477.0 527.4,475.4 527.5,473.9 527.6,475.9 527.6,474.2 527.7,475.2 527.8,474.1 527.8,474.3 527.9,472.3 528.0,473.6 528.0,471.8 528.1,471.9 528.2,472.8 528.2,472.4 528.3,470.3 528.4,470.1 528.4,470.3 528.5,470.2 528.6,469.6 528.7,468.5 528.7,468.5 528.8,469.5 528.9,469.6 529.0,467.0 529.1,468.1 529.1,468.3 529.2,466.0 529.3,467.8 529.4,465.6 529.5,466.6 529.6,466.1 529.7,466.0 529.8,464.8 529.8,464.8 529.9,464.9 530.0,464.2 530.1,464.4 530.2,463.6 530.3,463.2 530.4,461.8 530.5,463.0 530.5,462.4 530.6,461.4 530.7,462.4 530.8,462.2 530.9,461.0 531.0,459.9 531.1,460.4 531.2,459.1 531.3,458.9 531.4,459.3 531.5,458.1 531.6,458.7 531.7,458.6 531.8,457.0 531.9,458.3 532.0,456.5 532.1,457.9 532.2,457.7 532.3,456.7 532.4,455.2 532.5,456.1 532.6,455.4 532.7,456.6 532.8,454.1 532.9,455.7 533.0,455.8 533.2,454.8 533.3,454.7 533.4,452.7 533.5,454.5 533.6,452.9 533.7,453.8 533.8,453.3 533.8,451.0 533.9,452.4 534.0,452.4 534.1,449.8 534.2,450.2 534.3,451.0 534.4,449.0 534.5,450.7 534.5,448.7 534.6,449.8 534.7,447.7 534.8,448.3 534.9,449.1 535.0,446.9 535.1,446.7 535.2,447.0 535.2,446.2 535.3,445.1 535.4,445.2 535.5,444.8 535.6,446.5 535.7,445.5 535.8,445.7 535.9,443.5 536.0,444.8 536.1,442.7 536.1,443.5 536.2,443.4 536.3,442.3 536.4,443.4 536.5,442.2 536.6,441.9 536.7,442.4 536.8,440.0 536.9,442.0 537.0,440.7 537.1,439.8 537.2,440.5 537.3,438.8 537.4,440.3 537.5,438.9 537.6,438.0 537.8,438.8 537.9,437.7 538.1,436.7 538.3,437.9 538.4,435.7 538.6,437.5 538.7,435.7 538.9,436.4 539.1,437.0 539.2,435.7 539.4,435.6 539.6,434.4 539.7,433.8 539.8,434.2 540.0,434.9 540.1,436.4 540.3,436.2 540.4,436.8 540.6,438.1 540.7,436.4 540.9,437.0 541.0,438.4 541.2,437.0 541.3,437.3 541.5,438.6 541.6,438.2 541.7,439.2 542.0,439.1 542.2,440.3 542.4,440.6 542.6,439.9 542.8,441.3 543.1,441.2 543.3,440.6 543.5,443.0 543.7,441.4 543.9,441.5 544.2,441.1 544.5,442.2 544.7,442.6 545.0,442.1 545.2,440.8 545.5,440.2 545.8,439.3 546.0,440.7 546.2,440.2 546.3,439.3 546.5,439.7 546.6,438.9 546.8,439.9 546.9,439.0 547.1,437.4 547.2,438.8 547.3,436.2 547.5,437.2 547.6,436.5 547.8,435.8 547.9,435.0 548.1,436.6 548.2,434.2 548.4,435.4 548.7,436.1 548.9,433.7 549.1,433.6 549.3,434.4 549.5,433.8 549.6,434.5 549.8,435.3 549.9,433.9 550.0,434.6 550.1,434.9 550.2,434.6 550.4,437.1 550.5,437.1 550.6,437.3 550.7,435.7 550.9,438.3 551.0,438.3 551.1,437.9 551.2,439.0 551.4,438.5 551.5,438.2 551.6,438.2 551.8,438.9 551.9,438.7 552.1,439.8 552.2,441.2 552.4,441.4 552.5,442.1 552.6,442.1 552.7,441.2 552.8,442.3 552.8,442.3 552.9,443.6 553.0,443.2 553.1,442.9 553.2,444.2 553.2,445.4 553.3,443.7 553.4,445.8 553.5,443.8 553.6,444.8 553.6,445.1 553.7,446.8 553.8,447.6 554.1,447.3 554.4,446.4 554.7,448.1 555.1,446.8 555.4,446.8 555.7,448.7 556.0,448.2 556.3,448.6 556.6,448.7 556.9,449.7 557.2,448.6 557.5,449.8 557.8,449.6 558.1,450.2 558.2,449.4 558.3,450.5 558.4,450.4 558.5,450.0 558.6,450.1 558.7,451.5 558.8,450.4 558.9,452.9 558.9,451.2 559.0,451.2 559.1,451.8 559.2,454.2 559.3,453.0 559.4,452.8 559.5,452.8 559.6,453.2 559.7,455.2 559.8,455.4 559.9,455.9 560.0,456.3 560.1,454.8 560.2,456.5 560.3,456.3 560.3,457.8 560.4,458.1 560.4,458.7 560.5,456.8 560.5,459.3 560.6,459.7 560.6,460.2 560.7,458.3 560.7,458.9 560.8,459.0 560.9,459.1 560.9,461.6 561.0,461.8 561.0,461.7 561.1,462.5 561.1,462.3 561.2,461.8 561.2,461.6 561.3,461.9 561.3,464.0 561.4,462.9 561.4,463.5 561.5,464.1 561.5,463.4 561.6,464.4 561.7,464.8 561.7,466.3 561.8,465.7 561.9,465.9 561.9,467.9 562.0,467.0 562.1,468.3 562.2,468.0 562.2,466.8 562.3,468.1 562.4,468.5 562.5,469.7 562.5,469.0 562.6,470.2 562.7,470.1 562.7,469.6 562.8,471.7 562.9,469.9 563.0,472.2 563.0,470.8 563.1,470.7 563.2,471.6 563.3,473.4 563.3,474.3 563.4,472.1 563.5,473.7 563.6,474.0 563.6,475.1 563.7,473.9 563.8,475.0 563.9,475.0 564.0,476.6 564.1,475.4 564.2,477.5 564.3,476.1 564.4,476.3 564.4,477.9 564.5,477.7 564.6,477.0 564.7,478.7 564.8,477.6 564.9,479.8 565.0,479.9 565.1,480.4 565.1,480.4 565.2,480.0 565.3,480.4 565.4,480.7 565.5,482.4 565.6,480.6 565.7,483.0 565.8,481.1 565.9,481.9 566.0,482.4 566.0,484.4 566.1,483.6 566.2,483.7 566.3,485.3 566.4,483.9 566.5,484.9 566.6,485.4 566.7,486.3 566.8,486.6 566.8,486.7 566.9,486.2 567.0,486.5 567.1,486.4 567.2,488.5 567.3,488.4 567.3,488.9 567.4,487.7 567.5,488.7 567.6,490.0 567.7,489.8 567.8,488.9 567.9,490.1 567.9,491.6 568.0,490.2 568.1,490.4 568.2,491.0 568.3,492.4 568.4,493.1 568.4,491.6 568.5,491.9 568.6,492.5 568.7,493.0 568.8,493.9 568.9,493.3 569.0,494.0 569.1,494.0 569.2,496.4 569.3,496.0 569.5,494.7 569.6,497.3 569.7,495.3 569.8,496.4 570.0,498.3 570.1,498.1 570.2,498.2 570.3,497.8 570.4,497.4 570.6,498.9 570.7,497.8 570.8,498.4 570.9,499.2 571.0,498.6 571.2,499.8 571.4,501.2 571.5,501.2 571.7,501.0 571.8,501.6 572.0,501.5 572.1,500.9 572.3,502.5 572.5,502.2 572.6,503.4 572.8,504.2 572.9,503.2 573.1,503.9 573.2,504.6 573.5,504.0 573.7,503.8 574.0,505.4 574.2,506.1 574.5,506.1 574.7,506.2 574.9,506.9 575.3,506.3 575.7,506.1 576.0,505.4 576.4,504.9 576.8,505.7 577.1,504.1 577.4,504.7 577.6,505.4 577.9,504.9 578.1,504.4 578.3,503.2 578.6,503.4 578.8,503.2 579.1,503.3 579.3,502.5 579.6,502.9 579.8,503.3 580.0,501.1 580.3,502.1 580.5,502.1 580.7,500.9 581.0,500.9 581.2,501.9 581.4,499.1 581.7,500.2 581.9,498.9 582.2,500.7 582.5,501.4 582.8,500.4 583.1,499.5 583.4,501.0 583.6,501.1 583.9,501.7 584.2,501.4 584.5,501.9 584.8,502.2 585.1,501.2 585.4,500.8 585.7,502.0 586.0,499.9 586.3,500.9 586.6,500.0 586.7,500.7 586.8,498.7 586.9,500.6 587.0,498.6 587.1,497.5 587.2,497.8 587.3,497.8 587.4,496.5 587.5,497.2 587.6,496.9 587.7,497.3 587.8,496.1 587.9,495.5 588.0,495.1 588.1,496.2 588.2,496.4 588.3,495.0 588.4,493.8 588.5,495.1 588.6,493.7 588.7,492.9 588.8,492.3 588.9,493.7 588.9,493.5 589.0,492.7 589.1,491.9 589.2,491.8 589.3,490.6 589.3,492.2 589.4,490.2 589.5,490.7 589.6,490.8 589.6,490.5 589.7,489.2 589.8,488.4 589.9,488.8 589.9,487.3 590.0,488.8 590.1,487.2 590.2,488.2 590.3,486.3 590.3,486.3 590.4,485.6 590.5,485.8 590.6,484.8 590.7,484.0 590.8,485.6 590.9,484.1 591.0,483.6 591.1,483.5 591.2,483.6 591.3,483.1 591.5,483.3 591.6,483.1 591.7,482.0 591.8,483.1 592.1,482.7 592.3,480.4 592.6,482.2 592.9,482.1 593.2,481.6 593.4,479.6 593.7,481.2 594.0,480.5 594.1,478.5 594.3,478.2 594.4,480.3 594.5,479.2 594.7,477.8 594.8,477.1 595.0,476.9 595.1,476.8 595.2,477.9 595.4,476.4 595.5,475.6 595.7,477.2 595.8,476.6 595.9,474.6 596.0,476.2 596.1,475.2 596.2,475.3 596.3,474.7 596.4,475.0 596.5,474.4 596.6,474.2 596.7,472.2 596.8,473.1 596.9,472.4 597.0,472.6 597.1,471.5 597.2,472.4 597.3,471.2 597.4,470.1 597.5,469.7 597.5,469.1 597.6,469.7 597.7,468.2 597.7,469.0 597.8,467.8 597.9,468.4 597.9,468.1 598.0,467.8 598.1,468.4 598.2,465.8 598.2,467.6 598.3,466.3 598.4,466.2 598.4,466.2 598.5,466.3 598.5,464.7 598.6,464.5 598.7,465.6 598.7,462.9 598.8,464.1 598.9,463.7 598.9,461.8 599.0,463.0 599.0,462.9 599.1,463.2 599.2,461.3 599.2,462.6 599.3,461.1 599.4,460.7 599.4,461.4 599.5,458.8 599.6,460.3 599.6,459.7 599.7,458.6 599.7,459.6 599.8,458.0 599.9,457.9 599.9,457.7 600.0,458.1 600.1,456.2 600.1,456.5 600.2,456.2 600.3,456.2 600.4,456.6 600.4,454.8 600.5,455.9 600.6,454.5 600.7,454.4 600.7,453.5 600.8,453.8 600.9,454.7 600.9,453.5 601.0,453.5 601.1,452.0 601.2,451.6 601.2,451.3 601.3,451.7 601.4,451.5 601.5,451.6 601.5,449.3 601.7,450.8 601.8,450.9 601.9,449.7 602.0,448.1 602.1,448.4 602.2,447.3 602.4,447.5 602.5,449.1 602.6,448.0 602.7,447.8 602.8,447.8 602.9,447.8 603.0,446.7 603.2,446.5 603.4,446.2 603.5,446.1 603.7,445.5 603.9,445.4 604.0,443.9 604.2,444.8 604.3,443.9 604.5,444.4 604.7,442.4 604.8,442.3 605.0,441.6 605.3,443.3 605.5,443.3 605.7,442.3 605.9,441.3 606.1,442.2 606.3,441.8 606.5,440.9 606.8,439.8 607.0,439.6 607.3,439.6 607.5,439.0 607.7,439.0 608.0,439.3 608.2,439.8 608.3,437.1 608.4,438.1 608.4,436.4 608.5,436.3 608.6,437.7 608.7,436.8 608.7,437.3 608.8,435.8 608.9,434.3 608.9,434.9 609.0,435.1 609.1,435.7 609.2,435.5 609.2,433.8 609.3,433.3 609.4,432.1 609.4,433.2 609.5,431.7 609.7,431.2 609.8,430.6 609.9,430.2 610.0,431.7 610.2,429.8 610.3,431.7 610.4,429.1 610.6,430.8 610.7,428.5 610.8,427.9 611.2,429.6 611.5,428.2 611.9,429.4 612.3,427.8 612.6,427.3 612.7,429.6 612.9,429.7 613.0,430.4 613.1,430.4 613.3,429.0 613.4,430.7 613.5,431.3 613.6,430.9 613.8,432.5 613.9,431.0 614.0,433.2 614.1,432.9 614.2,431.4 614.2,431.7 614.3,433.7 614.4,434.5 614.5,432.9 614.6,433.8 614.6,435.3 614.7,434.1 614.8,436.3 614.9,435.6 615.0,434.8 615.0,436.0 615.1,436.9 615.2,436.9 615.3,437.8 615.5,436.7 615.6,438.7 615.8,437.9 615.9,438.9 616.1,439.2 616.2,438.9 616.3,439.2 616.5,440.5 616.6,441.3 616.8,441.1 616.9,440.9 617.1,439.9 617.3,439.0 617.6,441.2 617.8,440.2 618.0,440.3 618.2,438.7 618.5,439.2 618.7,439.9 619.0,439.2 619.2,438.3 619.5,437.3 619.7,437.3 620.0,438.2 620.1,437.2 620.3,438.3 620.4,438.4 620.6,439.5 620.7,439.6 620.8,438.6 621.0,438.1 621.1,439.2 621.3,439.9 621.4,440.7 621.5,441.6 621.7,442.1 621.8,440.2 621.8,442.6 621.9,442.9 622.0,443.3 622.1,442.9 622.2,442.4 622.2,444.3 622.3,444.5 622.4,444.5 622.5,445.4 622.5,444.3 622.6,443.9 622.7,445.5 622.8,446.4 622.9,445.2 622.9,446.9 623.0,447.8 623.1,446.2 623.2,447.5 623.3,448.1 623.3,447.8 623.4,447.5 623.5,447.9 623.6,449.6 623.7,450.0 623.7,449.5 623.8,448.8 623.9,451.0 624.0,451.3 624.0,450.2 624.1,451.4 624.2,452.6 624.3,452.9 624.3,452.3 624.4,452.5 624.5,453.1 624.6,452.4 624.6,452.7 624.7,453.0 624.8,454.8 624.9,454.2 625.0,455.0 625.1,454.9 625.2,455.6 625.3,454.9 625.4,455.0 625.6,457.8 625.7,456.5 625.8,456.1 625.9,457.8 626.0,458.5 626.1,457.2 626.2,458.7 626.4,458.3 626.5,459.1 626.8,458.0 627.1,458.3 627.4,461.0 627.7,460.9 628.0,460.1 628.3,460.5 628.6,460.0 628.9,461.6 629.2,460.9 629.5,462.5 629.6,462.4 629.7,462.9 629.8,463.6 629.9,462.0 630.0,461.8 630.1,462.6 630.2,462.8 630.3,462.9 630.4,463.2 630.5,464.8 630.7,466.0 630.7,465.3 630.8,466.9 630.8,467.1 630.9,465.2 630.9,467.0 631.0,466.8 631.0,466.4 631.1,469.0 631.2,467.5 631.2,468.6 631.3,469.2 631.3,470.3 631.4,469.9 631.4,469.5 631.5,470.0 631.5,469.6 631.6,472.1 631.7,472.5 631.8,470.8 631.9,470.6 632.0,471.5 632.0,472.1 632.1,473.9 632.2,474.3 632.3,474.4 632.4,472.7 632.5,475.0 632.5,475.1 632.6,475.3 632.7,476.5 632.8,474.4 632.9,475.0 632.9,476.9 633.1,477.7 633.3,477.3 633.5,476.6 633.7,477.6 633.9,478.4 634.1,476.9 634.2,477.8 634.4,477.9 634.6,477.9 634.8,479.1 635.0,478.6 635.2,479.0 635.4,479.1 635.5,480.8 635.7,479.3 635.9,481.5 636.2,480.4 636.4,480.2 636.6,482.9 636.8,481.3 637.0,483.5 637.2,483.6 637.4,483.9 637.6,482.2 637.8,483.3 638.0,482.7 638.2,485.2 638.4,485.3 638.6,485.0 638.8,484.8 639.0,484.8 639.2,486.4 639.4,485.8 639.5,486.5 639.7,485.5 639.9,486.0 640.1,485.8 640.3,487.9 640.5,487.8 640.6,487.0 640.8,489.2 641.0,487.9 641.4,488.5 641.7,488.0 642.1,488.5 642.4,490.2 642.7,488.6 642.9,487.8 643.2,488.4 643.5,487.7 643.7,489.0 644.0,486.6 644.1,488.6 644.3,485.8 644.4,487.7 644.5,486.8 644.6,485.3 644.8,485.6 644.9,484.8 645.0,484.4 645.1,483.9 645.3,484.0 645.4,485.4 645.5,485.0 645.6,484.5 645.8,482.0 645.9,482.2 646.0,483.5 646.1,480.9 646.3,482.4 646.4,480.9 646.5,482.4 646.6,479.6 646.8,481.3 646.9,479.8 647.0,478.9 647.1,478.2 647.2,480.1 647.4,479.0 647.5,477.8 647.6,478.1 647.7,479.0 647.9,476.9 648.0,477.5 648.1,476.0 648.2,475.8 648.3,477.1 648.4,476.6 648.5,474.9 648.6,474.3 648.7,474.0 648.8,475.0 648.9,474.4 649.0,473.5 649.1,473.0 649.2,473.7 649.3,473.6 649.4,473.6 649.5,472.7 649.6,471.3 649.7,470.6 649.8,472.1 649.9,470.9 650.0,471.4 650.1,469.3 650.2,471.0 650.3,469.4 650.4,470.4 650.5,470.1 650.6,468.8 650.7,467.2 650.8,469.2 650.9,467.8 651.0,468.5 651.1,466.5 651.2,466.0 651.3,467.4 651.4,465.8 651.5,464.9 651.6,465.2 651.7,465.4 651.8,463.5 651.9,464.6 652.0,464.0 652.0,463.9 652.1,462.5 652.2,463.7 652.3,463.7 652.4,463.5 652.5,461.7 652.5,462.4 652.6,461.2 652.7,461.9 652.8,459.7 652.9,461.5 653.0,461.4 653.1,459.9 653.1,459.6 653.2,459.3 653.3,459.0 653.4,457.3 653.5,459.5 653.6,457.2 653.6,456.7 653.7,456.2 653.8,456.2 653.9,457.4 654.0,454.9 654.0,454.8 654.1,456.0 654.2,454.4 654.3,453.5 654.4,454.7 654.4,454.3 654.5,453.8 654.6,454.0 654.7,452.1 654.8,453.7 654.8,453.0 654.9,450.9 654.9,450.8 655.0,451.4 655.0,451.1 655.1,450.2 655.1,449.5 655.2,449.9 655.2,448.8 655.3,449.7 655.3,450.1 655.4,447.9 655.4,448.7 655.5,448.8 655.5,446.9 655.6,448.3 655.6,448.3 655.7,446.5 655.7,446.3 655.8,447.1 655.9,445.9 656.1,445.3 656.2,446.4 656.4,445.6 656.5,444.2 656.7,443.6 656.7,443.5 656.8,443.5 656.8,444.6 656.9,443.8 656.9,443.7 656.9,443.1 657.0,442.9 657.0,440.5 657.1,441.4 657.1,442.2 657.2,441.8 657.2,439.7 657.3,439.8 657.3,440.0 657.4,439.0 657.4,439.1 657.5,437.6 657.5,438.9 657.5,439.4 657.6,438.5 657.6,439.1 657.6,441.6 657.7,441.5 657.7,442.2 657.7,441.7 657.8,442.5 657.8,443.1 657.8,443.4 657.9,441.5 657.9,443.4 657.9,442.8 658.0,444.2 658.0,443.5 658.0,444.5 658.1,445.9 658.1,444.7 658.1,443.4 658.2,443.8 658.2,443.2 658.3,444.3 658.3,442.2 658.4,441.9 658.4,442.4 658.4,440.7 658.5,441.6 658.5,442.2 658.6,440.7 658.6,439.7 658.6,439.9 658.7,439.8 658.7,438.4 658.8,438.0 658.8,437.7 658.9,437.8 658.9,438.4 659.0,438.4 659.0,438.6 659.1,438.6 659.1,440.1 659.2,441.2 659.2,440.9 659.3,441.2 659.3,441.7 659.4,440.8 659.4,442.5 659.5,442.2 659.5,442.8 659.6,443.3 659.6,443.2 659.7,443.1 659.7,442.6 659.8,442.2 659.8,442.7 659.8,442.0 659.9,442.2 659.9,440.3 660.0,440.9 660.0,441.9 660.1,439.9 660.1,440.4 660.2,439.9 660.2,439.1 660.3,440.6 660.3,438.4 660.4,439.3 660.4,437.4 660.5,436.8 660.5,439.3 660.6,438.5 660.6,437.8 660.7,439.0 660.8,439.5 660.8,440.6 660.9,439.3 660.9,439.9 661.0,442.2 661.1,441.9 661.1,440.7 661.2,441.5 661.3,441.9 661.3,442.4 661.4,441.9 661.4,442.2 661.5,441.8 661.5,440.7 661.6,440.9 661.7,440.6 661.7,440.3 661.8,439.3 661.8,439.7 661.9,439.2 661.9,439.4 662.0,437.0 662.0,438.7 662.1,436.7 662.2,439.1 662.3,438.9 662.4,439.1 662.5,440.6 662.6,439.9 662.7,439.9 662.8,441.2 662.8,441.8 662.9,440.7 663.0,439.8 663.1,439.6 663.2,439.3 663.3,439.6 663.4,438.1 663.5,438.0 663.6,438.1 663.6,437.3 663.8,437.4 663.9,439.0 664.0,439.5 664.2,438.9 664.3,439.1 664.4,438.7 664.5,439.3 664.7,438.6 664.8,439.4 665.0,439.1 665.1,437.5 665.3,439.4 665.4,437.5 665.5,439.2 665.6,439.5 665.7,440.2 665.8,438.5 665.9,439.4 666.0,441.0 666.1,439.0 666.2,439.4 666.3,441.1 666.4,441.3 666.6,442.7 666.7,442.6 666.8,442.3 666.9,443.8 667.0,442.9 667.2,443.2 667.3,443.9 667.4,443.5 667.5,443.7 667.6,444.7 667.7,444.4 667.8,446.3 667.9,445.9 667.9,445.9 668.0,445.1 668.1,446.2 668.2,446.6 668.2,447.4 668.3,447.8 668.5,448.2 668.6,448.1 668.8,446.5 669.0,446.1 669.1,446.2 669.2,447.5 669.2,446.1 669.3,447.0 669.3,448.1 669.4,446.7 669.4,447.4 669.5,449.5 669.6,449.5 669.6,449.0 669.7,448.2 669.7,450.7 669.8,450.5 669.8,451.1 669.9,451.9 669.9,452.0 670.1,450.5 670.3,449.5 670.5,449.6 670.7,449.9 670.8,450.2 670.8,449.7 670.9,450.0 670.9,451.5 671.0,451.8 671.1,451.5 671.1,453.5 671.2,452.9 671.2,451.7 671.3,453.0 671.3,454.3 671.4,453.4 671.5,454.7 671.5,453.2 671.7,454.4 671.8,456.2 672.0,455.9 672.2,456.4 672.3,455.5 672.4,456.7 672.6,457.1 672.7,456.7 672.8,458.0 673.0,458.0 673.1,459.5 673.2,458.7 673.4,458.6 673.5,458.2 673.6,458.6 673.7,460.5 673.9,459.1 674.0,459.3 674.1,459.9 674.3,461.1 674.4,462.2 674.5,462.0 674.6,462.8 674.8,461.2 674.9,461.4 675.0,463.7 675.1,462.9 675.3,464.2 675.4,463.6 675.5,463.5 675.7,464.0 675.8,463.9 675.9,466.4 676.1,465.8 676.3,465.5 676.5,466.0 676.6,466.1 676.8,465.5 677.0,467.0" fill="none" stroke="#e62b31" stroke-width="3.8" stroke-linejoin="round" stroke-linecap="round"/>
<line x1="403.1" y1="463.6" x2="677" y2="463.6" stroke="rgb(80,138,192)" stroke-opacity="0.75" stroke-width="3.3" stroke-dasharray="13.75 13.75"/>
<text transform="translate(13,97.8) rotate(-90)" font-size="19" text-anchor="middle">Torque (N.m)</text>
<text transform="translate(13,282.65) rotate(-90)" font-size="19" text-anchor="middle">Torque (N.m)</text>
<text transform="translate(13,468.25) rotate(-90)" font-size="19" text-anchor="middle">Torque (N.m)</text>
<text x="175.6" y="572.6" font-size="19" text-anchor="middle">time (sec)</text>
<text x="540.05" y="572.6" font-size="19" text-anchor="middle">time (sec)</text>
<text class="lt" x="0" y="24" font-size="18.2">a</text>
<text class="lt" x="-0.2" y="208.6" font-size="18.2">b</text>
<text class="lt" x="0" y="395.2" font-size="18.2">c</text>
<text class="lt" x="387.6" y="24" font-size="18.2">d</text>
<text class="lt" x="387.6" y="209.4" font-size="18.2">e</text>
<text class="lt" x="387.6" y="395.2" font-size="18.2">f</text>
<rect x="146.5" y="0.5" width="134.7" height="46.8" fill="#fff" stroke="#262626" stroke-width="1"/>
<line x1="151.3" y1="13.4" x2="193" y2="13.4" stroke="rgb(80,138,192)" stroke-opacity="0.75" stroke-width="3.3" stroke-dasharray="13.8 13.8"/>
<line x1="151.3" y1="34.6" x2="203" y2="34.6" stroke="#e62b31" stroke-width="3.3"/>
<text x="207.2" y="19.5" font-size="17.3" style="fill:#000">Nominal</text>
<text x="207.2" y="40.6" font-size="17.3" style="fill:#000">Estimated</text>
</svg></body></html>
